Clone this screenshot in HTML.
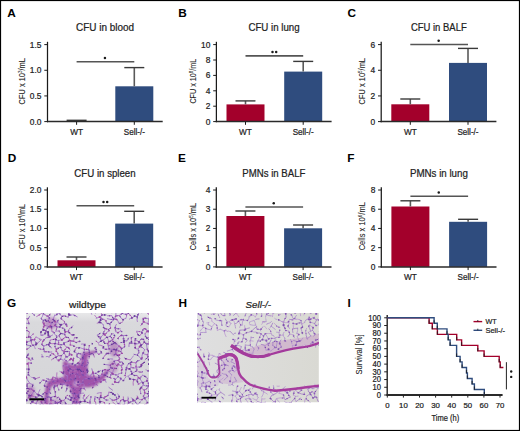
<!DOCTYPE html>
<html><head><meta charset="utf-8"><style>
html,body{margin:0;padding:0;background:#fff;}
body{width:520px;height:431px;overflow:hidden;}
svg{display:block;font-family:"Liberation Sans", sans-serif;}
</style></head><body>
<svg width="520" height="431" viewBox="0 0 520 431">
<rect x="0" y="0" width="520" height="431" fill="#fff"/>
<text x="7.2" y="16.8" font-size="11.8" text-anchor="start" font-weight="bold" fill="#000">A</text>
<text x="105.1" y="31.3" font-size="10.2" text-anchor="middle" textLength="58" lengthAdjust="spacingAndGlyphs" fill="#222" stroke="#222" stroke-width="0.22">CFU in blood</text>
<text x="24.9" y="81.3" font-size="9.0" text-anchor="middle" textLength="46.3" lengthAdjust="spacingAndGlyphs" transform="rotate(-90 24.9 81.3)" fill="#222" stroke="#222" stroke-width="0.08">CFU x 10<tspan font-size="5.5" dy="-3">3</tspan><tspan dy="3">/mL</tspan></text>
<rect x="57.60" y="121.1" width="38.0" height="0.50" fill="#a3002b"/>
<rect x="115.30" y="86.3" width="38.0" height="35.30" fill="#2f4c7e"/>
<line x1="76.60" y1="121.1" x2="76.60" y2="120.3" stroke="#5a5a5a" stroke-width="1.6"/>
<line x1="66.60" y1="120.3" x2="86.60" y2="120.3" stroke="#3a3a3a" stroke-width="1.4"/>
<line x1="134.30" y1="86.3" x2="134.30" y2="67.6" stroke="#5a5a5a" stroke-width="1.6"/>
<line x1="124.30" y1="67.6" x2="144.30" y2="67.6" stroke="#3a3a3a" stroke-width="1.4"/>
<line x1="76.60" y1="61.8" x2="134.30" y2="61.8" stroke="#555" stroke-width="1.6"/>
<circle cx="104.95" cy="58.00" r="1.25" fill="#1a1a1a"/>
<line x1="47.5" y1="41.8" x2="47.5" y2="122.19999999999999" stroke="#1a1a1a" stroke-width="1.25"/>
<line x1="46.9" y1="121.6" x2="162.7" y2="121.6" stroke="#2a2a2a" stroke-width="1.5"/>
<line x1="44.3" y1="121.60" x2="47.5" y2="121.60" stroke="#1a1a1a" stroke-width="1.0"/>
<text x="41.50" y="124.60" font-size="8.4" text-anchor="end" fill="#222" stroke="#222" stroke-width="0.22">0.0</text>
<line x1="44.3" y1="95.93" x2="47.5" y2="95.93" stroke="#1a1a1a" stroke-width="1.0"/>
<text x="41.50" y="98.93" font-size="8.4" text-anchor="end" fill="#222" stroke="#222" stroke-width="0.22">0.5</text>
<line x1="44.3" y1="70.27" x2="47.5" y2="70.27" stroke="#1a1a1a" stroke-width="1.0"/>
<text x="41.50" y="73.27" font-size="8.4" text-anchor="end" fill="#222" stroke="#222" stroke-width="0.22">1.0</text>
<line x1="44.3" y1="44.60" x2="47.5" y2="44.60" stroke="#1a1a1a" stroke-width="1.0"/>
<text x="41.50" y="47.60" font-size="8.4" text-anchor="end" fill="#222" stroke="#222" stroke-width="0.22">1.5</text>
<line x1="76.60" y1="121.6" x2="76.60" y2="124.8" stroke="#1a1a1a" stroke-width="1.0"/>
<line x1="134.30" y1="121.6" x2="134.30" y2="124.8" stroke="#1a1a1a" stroke-width="1.0"/>
<text x="76.60" y="135.0" font-size="8.5" text-anchor="middle" textLength="12.8" lengthAdjust="spacingAndGlyphs" fill="#222" stroke="#222" stroke-width="0.22">WT</text>
<text x="134.30" y="135.0" font-size="8.5" text-anchor="middle" textLength="21.1" lengthAdjust="spacingAndGlyphs" fill="#222" stroke="#222" stroke-width="0.22">Sell-/-</text>
<text x="178.3" y="16.8" font-size="11.8" text-anchor="start" font-weight="bold" fill="#000">B</text>
<text x="274.0" y="31.3" font-size="10.2" text-anchor="middle" textLength="51.2" lengthAdjust="spacingAndGlyphs" fill="#222" stroke="#222" stroke-width="0.22">CFU in lung</text>
<text x="196.2" y="81.2" font-size="9.0" text-anchor="middle" textLength="44.7" lengthAdjust="spacingAndGlyphs" transform="rotate(-90 196.2 81.2)" fill="#222" stroke="#222" stroke-width="0.08">CFU x 10<tspan font-size="5.5" dy="-3">8</tspan><tspan dy="3">/mL</tspan></text>
<rect x="226.50" y="104.4" width="38.0" height="17.20" fill="#a3002b"/>
<rect x="284.20" y="71.6" width="38.0" height="50.00" fill="#2f4c7e"/>
<line x1="245.50" y1="104.4" x2="245.50" y2="100.9" stroke="#5a5a5a" stroke-width="1.6"/>
<line x1="235.50" y1="100.9" x2="255.50" y2="100.9" stroke="#3a3a3a" stroke-width="1.4"/>
<line x1="303.20" y1="71.6" x2="303.20" y2="61.4" stroke="#5a5a5a" stroke-width="1.6"/>
<line x1="293.20" y1="61.4" x2="313.20" y2="61.4" stroke="#3a3a3a" stroke-width="1.4"/>
<line x1="245.50" y1="55.9" x2="303.20" y2="55.9" stroke="#555" stroke-width="1.6"/>
<circle cx="272.50" cy="52.00" r="1.25" fill="#1a1a1a"/>
<circle cx="276.20" cy="52.00" r="1.25" fill="#1a1a1a"/>
<line x1="216.4" y1="41.8" x2="216.4" y2="122.19999999999999" stroke="#1a1a1a" stroke-width="1.25"/>
<line x1="215.8" y1="121.6" x2="331.6" y2="121.6" stroke="#2a2a2a" stroke-width="1.5"/>
<line x1="213.20000000000002" y1="121.60" x2="216.4" y2="121.60" stroke="#1a1a1a" stroke-width="1.0"/>
<text x="210.40" y="124.60" font-size="8.4" text-anchor="end" fill="#222" stroke="#222" stroke-width="0.22">0</text>
<line x1="213.20000000000002" y1="106.20" x2="216.4" y2="106.20" stroke="#1a1a1a" stroke-width="1.0"/>
<text x="210.40" y="109.20" font-size="8.4" text-anchor="end" fill="#222" stroke="#222" stroke-width="0.22">2</text>
<line x1="213.20000000000002" y1="90.80" x2="216.4" y2="90.80" stroke="#1a1a1a" stroke-width="1.0"/>
<text x="210.40" y="93.80" font-size="8.4" text-anchor="end" fill="#222" stroke="#222" stroke-width="0.22">4</text>
<line x1="213.20000000000002" y1="75.40" x2="216.4" y2="75.40" stroke="#1a1a1a" stroke-width="1.0"/>
<text x="210.40" y="78.40" font-size="8.4" text-anchor="end" fill="#222" stroke="#222" stroke-width="0.22">6</text>
<line x1="213.20000000000002" y1="60.00" x2="216.4" y2="60.00" stroke="#1a1a1a" stroke-width="1.0"/>
<text x="210.40" y="63.00" font-size="8.4" text-anchor="end" fill="#222" stroke="#222" stroke-width="0.22">8</text>
<line x1="213.20000000000002" y1="44.60" x2="216.4" y2="44.60" stroke="#1a1a1a" stroke-width="1.0"/>
<text x="210.40" y="47.60" font-size="8.4" text-anchor="end" fill="#222" stroke="#222" stroke-width="0.22">10</text>
<line x1="245.50" y1="121.6" x2="245.50" y2="124.8" stroke="#1a1a1a" stroke-width="1.0"/>
<line x1="303.20" y1="121.6" x2="303.20" y2="124.8" stroke="#1a1a1a" stroke-width="1.0"/>
<text x="245.50" y="135.0" font-size="8.5" text-anchor="middle" textLength="12.8" lengthAdjust="spacingAndGlyphs" fill="#222" stroke="#222" stroke-width="0.22">WT</text>
<text x="303.20" y="135.0" font-size="8.5" text-anchor="middle" textLength="21.1" lengthAdjust="spacingAndGlyphs" fill="#222" stroke="#222" stroke-width="0.22">Sell-/-</text>
<text x="347.6" y="16.8" font-size="11.8" text-anchor="start" font-weight="bold" fill="#000">C</text>
<text x="438.8" y="31.3" font-size="10.2" text-anchor="middle" textLength="55.8" lengthAdjust="spacingAndGlyphs" fill="#222" stroke="#222" stroke-width="0.22">CFU in BALF</text>
<text x="365.4" y="81.2" font-size="9.0" text-anchor="middle" textLength="46.4" lengthAdjust="spacingAndGlyphs" transform="rotate(-90 365.4 81.2)" fill="#222" stroke="#222" stroke-width="0.08">CFU x 10<tspan font-size="5.5" dy="-3">5</tspan><tspan dy="3">/mL</tspan></text>
<rect x="391.30" y="104.3" width="38.0" height="17.30" fill="#a3002b"/>
<rect x="449.00" y="62.9" width="38.0" height="58.70" fill="#2f4c7e"/>
<line x1="410.30" y1="104.3" x2="410.30" y2="99.0" stroke="#5a5a5a" stroke-width="1.6"/>
<line x1="400.30" y1="99.0" x2="420.30" y2="99.0" stroke="#3a3a3a" stroke-width="1.4"/>
<line x1="468.00" y1="62.9" x2="468.00" y2="48.4" stroke="#5a5a5a" stroke-width="1.6"/>
<line x1="458.00" y1="48.4" x2="478.00" y2="48.4" stroke="#3a3a3a" stroke-width="1.4"/>
<line x1="410.30" y1="44.5" x2="468.00" y2="44.5" stroke="#555" stroke-width="1.6"/>
<circle cx="438.65" cy="40.70" r="1.25" fill="#1a1a1a"/>
<line x1="381.2" y1="41.8" x2="381.2" y2="122.19999999999999" stroke="#1a1a1a" stroke-width="1.25"/>
<line x1="380.59999999999997" y1="121.6" x2="496.4" y2="121.6" stroke="#2a2a2a" stroke-width="1.5"/>
<line x1="378.0" y1="121.60" x2="381.2" y2="121.60" stroke="#1a1a1a" stroke-width="1.0"/>
<text x="375.20" y="124.60" font-size="8.4" text-anchor="end" fill="#222" stroke="#222" stroke-width="0.22">0</text>
<line x1="378.0" y1="95.93" x2="381.2" y2="95.93" stroke="#1a1a1a" stroke-width="1.0"/>
<text x="375.20" y="98.93" font-size="8.4" text-anchor="end" fill="#222" stroke="#222" stroke-width="0.22">2</text>
<line x1="378.0" y1="70.27" x2="381.2" y2="70.27" stroke="#1a1a1a" stroke-width="1.0"/>
<text x="375.20" y="73.27" font-size="8.4" text-anchor="end" fill="#222" stroke="#222" stroke-width="0.22">4</text>
<line x1="378.0" y1="44.60" x2="381.2" y2="44.60" stroke="#1a1a1a" stroke-width="1.0"/>
<text x="375.20" y="47.60" font-size="8.4" text-anchor="end" fill="#222" stroke="#222" stroke-width="0.22">6</text>
<line x1="410.30" y1="121.6" x2="410.30" y2="124.8" stroke="#1a1a1a" stroke-width="1.0"/>
<line x1="468.00" y1="121.6" x2="468.00" y2="124.8" stroke="#1a1a1a" stroke-width="1.0"/>
<text x="410.30" y="135.0" font-size="8.5" text-anchor="middle" textLength="12.8" lengthAdjust="spacingAndGlyphs" fill="#222" stroke="#222" stroke-width="0.22">WT</text>
<text x="468.00" y="135.0" font-size="8.5" text-anchor="middle" textLength="21.1" lengthAdjust="spacingAndGlyphs" fill="#222" stroke="#222" stroke-width="0.22">Sell-/-</text>
<text x="7.7" y="162.2" font-size="11.8" text-anchor="start" font-weight="bold" fill="#000">D</text>
<text x="105.0" y="176.7" font-size="10.2" text-anchor="middle" textLength="61.3" lengthAdjust="spacingAndGlyphs" fill="#222" stroke="#222" stroke-width="0.22">CFU in spleen</text>
<text x="24.8" y="226.6" font-size="9.0" text-anchor="middle" textLength="45.5" lengthAdjust="spacingAndGlyphs" transform="rotate(-90 24.8 226.6)" fill="#222" stroke="#222" stroke-width="0.08">CFU x 10<tspan font-size="5.5" dy="-3">4</tspan><tspan dy="3">/mL</tspan></text>
<rect x="57.50" y="260.3" width="38.0" height="6.60" fill="#a3002b"/>
<rect x="115.20" y="223.6" width="38.0" height="43.30" fill="#2f4c7e"/>
<line x1="76.50" y1="260.3" x2="76.50" y2="257.0" stroke="#5a5a5a" stroke-width="1.6"/>
<line x1="66.50" y1="257.0" x2="86.50" y2="257.0" stroke="#3a3a3a" stroke-width="1.4"/>
<line x1="134.20" y1="223.6" x2="134.20" y2="211.3" stroke="#5a5a5a" stroke-width="1.6"/>
<line x1="124.20" y1="211.3" x2="144.20" y2="211.3" stroke="#3a3a3a" stroke-width="1.4"/>
<line x1="76.50" y1="205.8" x2="134.20" y2="205.8" stroke="#555" stroke-width="1.6"/>
<circle cx="103.50" cy="201.90" r="1.25" fill="#1a1a1a"/>
<circle cx="107.20" cy="201.90" r="1.25" fill="#1a1a1a"/>
<line x1="47.4" y1="187.3" x2="47.4" y2="267.5" stroke="#1a1a1a" stroke-width="1.25"/>
<line x1="46.8" y1="266.9" x2="162.6" y2="266.9" stroke="#2a2a2a" stroke-width="1.5"/>
<line x1="44.199999999999996" y1="266.90" x2="47.4" y2="266.90" stroke="#1a1a1a" stroke-width="1.0"/>
<text x="41.40" y="269.90" font-size="8.4" text-anchor="end" fill="#222" stroke="#222" stroke-width="0.22">0.0</text>
<line x1="44.199999999999996" y1="247.67" x2="47.4" y2="247.67" stroke="#1a1a1a" stroke-width="1.0"/>
<text x="41.40" y="250.67" font-size="8.4" text-anchor="end" fill="#222" stroke="#222" stroke-width="0.22">0.5</text>
<line x1="44.199999999999996" y1="228.45" x2="47.4" y2="228.45" stroke="#1a1a1a" stroke-width="1.0"/>
<text x="41.40" y="231.45" font-size="8.4" text-anchor="end" fill="#222" stroke="#222" stroke-width="0.22">1.0</text>
<line x1="44.199999999999996" y1="209.22" x2="47.4" y2="209.22" stroke="#1a1a1a" stroke-width="1.0"/>
<text x="41.40" y="212.22" font-size="8.4" text-anchor="end" fill="#222" stroke="#222" stroke-width="0.22">1.5</text>
<line x1="44.199999999999996" y1="190.00" x2="47.4" y2="190.00" stroke="#1a1a1a" stroke-width="1.0"/>
<text x="41.40" y="193.00" font-size="8.4" text-anchor="end" fill="#222" stroke="#222" stroke-width="0.22">2.0</text>
<line x1="76.50" y1="266.9" x2="76.50" y2="270.09999999999997" stroke="#1a1a1a" stroke-width="1.0"/>
<line x1="134.20" y1="266.9" x2="134.20" y2="270.09999999999997" stroke="#1a1a1a" stroke-width="1.0"/>
<text x="76.50" y="280.1" font-size="8.5" text-anchor="middle" textLength="12.8" lengthAdjust="spacingAndGlyphs" fill="#222" stroke="#222" stroke-width="0.22">WT</text>
<text x="134.20" y="280.1" font-size="8.5" text-anchor="middle" textLength="21.1" lengthAdjust="spacingAndGlyphs" fill="#222" stroke="#222" stroke-width="0.22">Sell-/-</text>
<text x="178.0" y="162.2" font-size="11.8" text-anchor="start" font-weight="bold" fill="#000">E</text>
<text x="273.9" y="176.7" font-size="10.2" text-anchor="middle" textLength="63.1" lengthAdjust="spacingAndGlyphs" fill="#222" stroke="#222" stroke-width="0.22">PMNs in BALF</text>
<text x="195.8" y="226.6" font-size="9.0" text-anchor="middle" textLength="47.3" lengthAdjust="spacingAndGlyphs" transform="rotate(-90 195.8 226.6)" fill="#222" stroke="#222" stroke-width="0.08">Cells x 10<tspan font-size="5.5" dy="-3">5</tspan><tspan dy="3">/mL</tspan></text>
<rect x="226.40" y="216.0" width="38.0" height="50.90" fill="#a3002b"/>
<rect x="284.10" y="228.3" width="38.0" height="38.60" fill="#2f4c7e"/>
<line x1="245.40" y1="216.0" x2="245.40" y2="211.0" stroke="#5a5a5a" stroke-width="1.6"/>
<line x1="235.40" y1="211.0" x2="255.40" y2="211.0" stroke="#3a3a3a" stroke-width="1.4"/>
<line x1="303.10" y1="228.3" x2="303.10" y2="225.0" stroke="#5a5a5a" stroke-width="1.6"/>
<line x1="293.10" y1="225.0" x2="313.10" y2="225.0" stroke="#3a3a3a" stroke-width="1.4"/>
<line x1="245.40" y1="207.0" x2="303.10" y2="207.0" stroke="#555" stroke-width="1.6"/>
<circle cx="273.75" cy="203.20" r="1.25" fill="#1a1a1a"/>
<line x1="216.3" y1="187.3" x2="216.3" y2="267.5" stroke="#1a1a1a" stroke-width="1.25"/>
<line x1="215.70000000000002" y1="266.9" x2="331.5" y2="266.9" stroke="#2a2a2a" stroke-width="1.5"/>
<line x1="213.10000000000002" y1="266.90" x2="216.3" y2="266.90" stroke="#1a1a1a" stroke-width="1.0"/>
<text x="210.30" y="269.90" font-size="8.4" text-anchor="end" fill="#222" stroke="#222" stroke-width="0.22">0</text>
<line x1="213.10000000000002" y1="247.67" x2="216.3" y2="247.67" stroke="#1a1a1a" stroke-width="1.0"/>
<text x="210.30" y="250.67" font-size="8.4" text-anchor="end" fill="#222" stroke="#222" stroke-width="0.22">1</text>
<line x1="213.10000000000002" y1="228.45" x2="216.3" y2="228.45" stroke="#1a1a1a" stroke-width="1.0"/>
<text x="210.30" y="231.45" font-size="8.4" text-anchor="end" fill="#222" stroke="#222" stroke-width="0.22">2</text>
<line x1="213.10000000000002" y1="209.22" x2="216.3" y2="209.22" stroke="#1a1a1a" stroke-width="1.0"/>
<text x="210.30" y="212.22" font-size="8.4" text-anchor="end" fill="#222" stroke="#222" stroke-width="0.22">3</text>
<line x1="213.10000000000002" y1="190.00" x2="216.3" y2="190.00" stroke="#1a1a1a" stroke-width="1.0"/>
<text x="210.30" y="193.00" font-size="8.4" text-anchor="end" fill="#222" stroke="#222" stroke-width="0.22">4</text>
<line x1="245.40" y1="266.9" x2="245.40" y2="270.09999999999997" stroke="#1a1a1a" stroke-width="1.0"/>
<line x1="303.10" y1="266.9" x2="303.10" y2="270.09999999999997" stroke="#1a1a1a" stroke-width="1.0"/>
<text x="245.40" y="280.1" font-size="8.5" text-anchor="middle" textLength="12.8" lengthAdjust="spacingAndGlyphs" fill="#222" stroke="#222" stroke-width="0.22">WT</text>
<text x="303.10" y="280.1" font-size="8.5" text-anchor="middle" textLength="21.1" lengthAdjust="spacingAndGlyphs" fill="#222" stroke="#222" stroke-width="0.22">Sell-/-</text>
<text x="347.3" y="162.2" font-size="11.8" text-anchor="start" font-weight="bold" fill="#000">F</text>
<text x="438.9" y="176.7" font-size="10.2" text-anchor="middle" textLength="58" lengthAdjust="spacingAndGlyphs" fill="#222" stroke="#222" stroke-width="0.22">PMNs in lung</text>
<text x="365.4" y="226.2" font-size="9.0" text-anchor="middle" textLength="48.3" lengthAdjust="spacingAndGlyphs" transform="rotate(-90 365.4 226.2)" fill="#222" stroke="#222" stroke-width="0.08">Cells x 10<tspan font-size="5.5" dy="-3">6</tspan><tspan dy="3">/mL</tspan></text>
<rect x="391.40" y="206.5" width="38.0" height="60.40" fill="#a3002b"/>
<rect x="449.10" y="221.8" width="38.0" height="45.10" fill="#2f4c7e"/>
<line x1="410.40" y1="206.5" x2="410.40" y2="200.8" stroke="#5a5a5a" stroke-width="1.6"/>
<line x1="400.40" y1="200.8" x2="420.40" y2="200.8" stroke="#3a3a3a" stroke-width="1.4"/>
<line x1="468.10" y1="221.8" x2="468.10" y2="219.3" stroke="#5a5a5a" stroke-width="1.6"/>
<line x1="458.10" y1="219.3" x2="478.10" y2="219.3" stroke="#3a3a3a" stroke-width="1.4"/>
<line x1="410.40" y1="196.3" x2="468.10" y2="196.3" stroke="#555" stroke-width="1.6"/>
<circle cx="438.75" cy="192.50" r="1.25" fill="#1a1a1a"/>
<line x1="381.3" y1="187.3" x2="381.3" y2="267.5" stroke="#1a1a1a" stroke-width="1.25"/>
<line x1="380.7" y1="266.9" x2="496.5" y2="266.9" stroke="#2a2a2a" stroke-width="1.5"/>
<line x1="378.1" y1="266.90" x2="381.3" y2="266.90" stroke="#1a1a1a" stroke-width="1.0"/>
<text x="375.30" y="269.90" font-size="8.4" text-anchor="end" fill="#222" stroke="#222" stroke-width="0.22">0</text>
<line x1="378.1" y1="247.67" x2="381.3" y2="247.67" stroke="#1a1a1a" stroke-width="1.0"/>
<text x="375.30" y="250.67" font-size="8.4" text-anchor="end" fill="#222" stroke="#222" stroke-width="0.22">2</text>
<line x1="378.1" y1="228.45" x2="381.3" y2="228.45" stroke="#1a1a1a" stroke-width="1.0"/>
<text x="375.30" y="231.45" font-size="8.4" text-anchor="end" fill="#222" stroke="#222" stroke-width="0.22">4</text>
<line x1="378.1" y1="209.22" x2="381.3" y2="209.22" stroke="#1a1a1a" stroke-width="1.0"/>
<text x="375.30" y="212.22" font-size="8.4" text-anchor="end" fill="#222" stroke="#222" stroke-width="0.22">6</text>
<line x1="378.1" y1="190.00" x2="381.3" y2="190.00" stroke="#1a1a1a" stroke-width="1.0"/>
<text x="375.30" y="193.00" font-size="8.4" text-anchor="end" fill="#222" stroke="#222" stroke-width="0.22">8</text>
<line x1="410.40" y1="266.9" x2="410.40" y2="270.09999999999997" stroke="#1a1a1a" stroke-width="1.0"/>
<line x1="468.10" y1="266.9" x2="468.10" y2="270.09999999999997" stroke="#1a1a1a" stroke-width="1.0"/>
<text x="410.40" y="280.1" font-size="8.5" text-anchor="middle" textLength="12.8" lengthAdjust="spacingAndGlyphs" fill="#222" stroke="#222" stroke-width="0.22">WT</text>
<text x="468.10" y="280.1" font-size="8.5" text-anchor="middle" textLength="21.1" lengthAdjust="spacingAndGlyphs" fill="#222" stroke="#222" stroke-width="0.22">Sell-/-</text>
<text x="7.0" y="307.3" font-size="11.8" text-anchor="start" font-weight="bold" fill="#000">G</text>
<text x="178.5" y="307.3" font-size="11.8" text-anchor="start" font-weight="bold" fill="#000">H</text>
<text x="347.6" y="307.2" font-size="11.8" text-anchor="start" font-weight="bold" fill="#000">I</text>
<text x="87.5" y="307.8" font-size="9.6" text-anchor="middle" textLength="37" lengthAdjust="spacingAndGlyphs" fill="#222" stroke="#222" stroke-width="0.22">wildtype</text>
<text x="258.3" y="307.8" font-size="9.6" text-anchor="middle" textLength="25.4" lengthAdjust="spacingAndGlyphs" font-style="italic" fill="#222" stroke="#222" stroke-width="0.22">Sell-/-</text>
<defs><clipPath id="cg"><rect x="26" y="313" width="123" height="91.3"/></clipPath><clipPath id="ch"><rect x="197.1" y="313" width="121.8" height="89.5"/></clipPath><filter id="bl" x="-30%" y="-30%" width="160%" height="160%"><feGaussianBlur stdDeviation="1.6"/></filter><filter id="bl2" x="-10%" y="-10%" width="120%" height="120%"><feGaussianBlur stdDeviation="0.9"/></filter><filter id="bl1" x="-5%" y="-5%" width="110%" height="110%"><feGaussianBlur stdDeviation="0.4"/></filter><linearGradient id="gg" x1="0" y1="0" x2="0" y2="1"><stop offset="0" stop-color="#e8e8ea"/><stop offset="0.1" stop-color="#d9d9dc"/><stop offset="1" stop-color="#d5d5d8"/></linearGradient><linearGradient id="hg" x1="0" y1="0" x2="1" y2="0"><stop offset="0" stop-color="#dfdfe0"/><stop offset="1" stop-color="#d9d9d3"/></linearGradient></defs>
<g clip-path="url(#cg)">
<rect x="26" y="313" width="123" height="91.3" fill="url(#gg)"/>
<path d="M63,361.5 L66,361 L68,363 L72,365 L78,365 L81,362 L81.5,354 L84,352 L90,351.5 L96,350.5 L96.5,352.5 L90,354.5 L87.5,357 L87.5,375 L92,376 L98,377 L102,375 L105,371 L108.5,370.5 L108,374 L104,379 L100,382 L95,386 L88,387.5 L82,387 L80,393 L79,400 L78,404.5 L73,404.5 L72,396 L70.5,388 L65,384 L58,384.5 L52,386 L50,390 L48.5,396 L47.5,404.5 L44,404.5 L44.5,395 L46,386 L48,381 L53,379 L60,378 L64,377 L63.5,370 Z" fill="#9a44a4" opacity="0.9" filter="url(#bl2)"/>
<g filter="url(#bl2)"><ellipse cx="76.5" cy="384" rx="3.5" ry="3" fill="#c9a6cf" opacity="0.8"/><ellipse cx="73" cy="370" rx="4" ry="2" fill="#c090c8" opacity="0.5"/></g>
<g filter="url(#bl)">
<ellipse cx="51" cy="323" rx="7" ry="6" fill="#a050aa" opacity="0.5"/>
<ellipse cx="114" cy="349" rx="5" ry="8" fill="#a050aa" opacity="0.5"/>
<ellipse cx="31" cy="393" rx="4" ry="8" fill="#a050aa" opacity="0.5"/>
<ellipse cx="50" cy="402" rx="15" ry="2.5" fill="#a050aa" opacity="0.5"/>
<ellipse cx="113" cy="367" rx="5" ry="7" fill="#a050aa" opacity="0.4"/>
</g>
<g filter="url(#bl1)">
<path d="M126.8,314.5Q124.9,314.7 122.2,313.4M128.6,312.7Q126.8,311.4 125.4,308.9M145.1,318.1Q147.3,318.9 149.7,318.3M142.0,312.8Q144.3,312.0 145.5,310.8M143.4,319.2Q142.7,319.4 143.1,318.3M141.0,311.4Q140.7,311.7 139.2,312.2M137.2,316.4Q138.5,313.9 139.2,312.2M128.4,313.4Q129.4,311.6 130.5,309.9M137.3,317.7Q136.6,320.2 137.3,321.6M143.4,319.2Q142.5,319.7 143.2,321.5M138.1,405.1Q137.5,403.8 136.9,404.1M26.5,357.2Q27.9,355.1 28.5,353.8M24.1,402.4Q25.5,402.1 26.7,400.7M24.8,337.7Q24.3,337.8 24.3,337.0M99.5,310.6Q98.2,311.4 95.6,313.0M113.8,319.2Q112.3,316.7 111.7,315.7M107.3,318.7Q110.1,319.6 113.6,319.8M113.5,318.8Q113.8,319.0 113.6,319.8M99.5,310.6Q100.6,312.1 100.4,312.3M111.9,312.7Q113.3,311.9 114.8,310.7M111.9,312.7Q110.8,312.7 110.5,311.8M115.6,311.1Q115.5,310.8 114.8,310.7M77.8,363.5Q80.3,364.0 82.1,364.8M113.5,318.8Q114.4,318.5 116.7,319.3M125.8,318.4Q124.1,318.7 123.1,319.7M128.9,402.6Q130.1,401.8 132.8,401.2M27.5,388.3Q26.4,386.2 26.8,384.2M23.4,396.7Q25.1,397.8 26.5,399.8M22.3,390.5Q23.7,391.1 25.6,392.6M44.0,323.6Q44.0,323.1 42.7,322.4M42.7,322.4Q43.2,321.7 43.5,320.2M43.2,329.9Q43.5,329.3 43.1,328.6M101.0,318.6Q100.0,321.0 99.9,322.0M100.6,316.7Q100.6,315.1 102.1,314.9M100.6,316.7Q100.5,317.9 101.0,318.6M111.2,322.3Q110.2,323.2 109.9,324.1M99.4,398.3Q97.3,397.8 95.0,396.8M95.0,396.8Q94.6,398.2 94.6,400.9M90.0,400.5Q91.1,398.3 91.1,396.5M83.7,379.2Q85.8,378.4 88.1,378.1M82.7,375.1Q81.7,373.7 81.6,371.8M77.4,373.9Q76.0,374.7 75.8,374.4M73.2,359.6Q73.7,361.0 72.8,363.7M115.8,368.6Q114.4,369.1 114.0,368.2M114.4,363.0Q116.0,364.3 117.5,366.4M149.3,398.8Q149.2,397.4 149.0,396.6M149.0,396.6Q147.3,396.6 144.3,398.0M128.0,397.0Q128.1,397.7 128.3,398.5M43.7,349.5Q43.2,348.0 43.8,346.1M43.8,346.1Q42.4,345.9 41.9,344.8M53.0,319.7Q53.1,320.5 54.2,320.6M54.8,314.8Q54.2,316.6 53.0,319.7M60.4,326.8Q58.5,326.8 57.0,327.1M45.6,330.4Q46.7,331.7 46.4,331.8M44.2,325.3Q47.2,325.6 48.6,326.7M51.1,323.4Q51.2,325.3 50.4,326.4M49.1,345.7Q49.9,347.4 51.7,348.0M46.9,351.7Q49.5,352.6 51.8,352.0M44.4,351.8Q44.7,350.7 43.7,349.5M48.4,344.1Q49.1,344.3 49.1,345.7M48.4,344.1Q46.0,344.9 43.8,346.1M23.7,332.9Q25.3,331.4 27.1,330.4M27.1,330.4Q27.7,331.0 29.4,332.1M30.5,336.6Q31.3,335.8 33.2,333.9M61.9,316.5Q60.2,314.9 58.9,312.5M58.3,312.6Q59.1,312.2 58.9,312.5M60.9,318.5Q61.9,316.8 61.9,316.5M77.2,316.8Q74.3,315.3 73.0,314.6M64.2,311.8Q66.9,311.7 68.5,312.3M108.4,329.5Q109.5,329.5 109.2,330.8M109.2,330.8Q106.2,332.0 104.7,334.6M105.3,328.5Q105.0,331.4 103.1,333.5M103.7,327.9Q104.8,328.5 105.3,328.5M97.5,335.4Q98.9,336.7 100.0,338.1M107.0,337.1Q105.4,338.5 103.0,340.2M100.0,338.1Q100.7,338.6 101.5,340.8M109.1,348.8Q108.0,349.5 105.8,349.4M84.0,349.2Q84.1,347.0 84.9,343.6M88.3,349.6Q89.4,347.8 89.3,345.5M87.6,360.4Q87.7,361.6 88.2,363.8M107.5,370.1Q106.3,373.4 106.3,375.6M114.0,368.2Q113.0,370.8 112.4,373.9M105.4,399.9Q107.0,400.5 108.3,400.1M103.7,397.8Q103.9,398.4 105.4,399.9M83.1,398.1Q83.8,396.3 84.6,394.4M89.5,405.9Q89.9,405.1 90.1,403.1M82.7,407.1Q83.1,406.5 83.7,405.8M91.1,405.1Q89.8,406.1 89.5,405.9M90.0,400.5Q89.4,402.2 90.1,403.1M93.4,382.5Q95.7,381.4 96.6,379.2M79.2,353.4Q78.5,352.8 77.5,353.8M77.5,353.8Q75.7,352.8 74.3,351.6M132.2,317.8Q130.6,318.3 129.4,319.1M141.7,324.6Q141.7,324.7 140.7,325.4M148.6,355.9Q147.6,357.1 147.5,357.5M115.8,368.6Q115.5,369.3 116.6,368.4M115.1,374.8Q116.0,375.5 117.1,374.9M122.7,369.8Q121.8,369.1 121.4,369.3M114.5,395.3Q114.5,395.6 114.9,394.7M119.0,404.6Q117.9,405.5 116.5,405.6M26.5,357.2Q27.7,357.2 27.9,357.8M26.1,342.2Q26.7,342.9 26.8,345.1M33.9,391.0Q34.6,390.2 33.9,390.7M31.2,395.7Q32.9,393.1 33.9,390.7M57.2,402.4Q57.6,406.0 58.4,409.3M63.8,400.3Q65.5,401.5 66.0,404.1M60.0,402.3Q60.1,403.7 61.6,405.0M63.8,400.3Q65.7,398.9 66.2,397.9M33.9,390.7Q35.2,392.5 37.9,395.0M58.6,397.2Q58.1,398.2 56.3,398.1M43.6,340.3Q44.8,339.4 46.0,337.9M67.6,357.0Q68.9,355.0 69.7,354.6M25.5,327.1Q26.7,327.2 27.0,328.6M23.5,316.9Q22.9,317.6 23.8,318.4M72.3,335.0Q72.4,335.0 72.1,335.0M72.7,325.9Q71.2,327.4 71.0,328.3M118.8,346.1Q119.7,346.8 119.5,346.2M118.8,346.1Q117.1,344.3 114.8,342.5M108.8,341.8Q110.3,341.1 111.8,340.5M107.2,337.4Q108.2,337.2 110.3,336.2M99.8,376.4Q99.9,375.4 101.3,375.3M100.8,381.8Q102.2,380.5 102.6,380.1M107.7,395.7Q108.8,394.0 109.0,392.2M101.1,392.6Q99.6,392.6 97.2,393.3M63.9,342.9Q67.9,341.9 70.5,340.5M65.7,337.1Q66.5,337.7 68.4,337.5M69.8,340.5Q70.5,339.9 70.5,340.5M131.5,343.0Q130.6,343.3 129.5,343.0M127.1,335.4Q125.2,335.2 123.1,335.6M123.9,340.8Q126.1,341.0 126.8,340.9M124.7,346.0Q124.8,344.1 124.0,342.4M123.9,340.8Q124.1,340.8 124.0,342.4M121.5,335.2Q122.3,335.1 123.1,335.6M133.0,337.1Q132.6,337.2 131.3,337.8M116.1,350.2Q115.5,352.1 115.7,353.9M121.5,348.4Q121.9,350.7 120.7,351.6M124.7,346.0Q123.9,346.5 124.2,347.4M121.1,342.5Q122.9,342.0 124.0,342.4M116.1,350.0Q118.5,351.0 120.7,351.6M115.7,353.9Q116.9,355.5 118.0,355.9M118.0,355.9Q120.1,354.1 121.8,353.3M120.2,362.1Q118.9,360.8 118.2,360.4M118.2,360.4Q119.6,359.3 119.9,358.7M123.6,364.2Q122.4,362.4 121.6,361.4M114.1,361.0Q115.8,360.0 118.2,360.4M136.9,404.1Q136.4,403.1 134.9,401.1M131.5,397.8Q132.2,398.7 133.5,400.1M140.8,393.9Q140.8,392.1 139.9,389.5M149.2,389.1Q149.3,391.0 148.8,392.9M144.8,393.3Q147.2,393.3 149.2,393.9M28.9,369.3Q27.2,368.6 24.9,368.9M27.3,363.9Q27.9,363.9 28.3,362.9M28.1,374.3Q29.0,372.4 28.9,369.3M29.3,383.1Q31.3,384.3 32.2,384.4M36.6,343.9Q35.7,341.6 34.2,340.1M31.1,339.5Q31.3,340.7 31.0,340.8M26.1,342.2Q29.1,341.3 31.0,340.8M41.6,339.6Q38.7,342.1 36.6,343.9M52.9,404.4Q51.1,404.6 50.6,403.7M50.6,403.7Q50.1,403.9 49.0,405.5M44.4,399.3Q45.1,399.9 45.3,402.0M44.9,392.5Q45.0,393.1 46.4,393.0M42.6,379.9Q44.2,379.8 46.4,381.0M46.4,380.9Q49.0,382.1 50.6,383.9M74.6,383.3Q76.4,384.7 77.9,385.1M74.6,378.7Q75.3,380.3 74.6,383.3M70.0,400.0Q70.6,399.4 71.0,400.1M72.0,404.8Q72.3,403.0 73.2,401.9M46.5,378.6Q49.8,379.8 52.0,379.9M54.6,332.7Q54.7,332.9 53.9,333.1M48.6,337.3Q49.9,336.6 52.6,335.0M60.8,333.5Q59.8,334.1 58.7,335.7M58.7,335.7Q60.1,338.3 62.0,339.9M56.0,350.9Q57.5,351.6 57.7,352.9M59.4,344.8Q61.8,345.3 64.1,344.4M69.4,351.5Q67.7,351.7 64.8,351.6M114.8,336.2Q114.6,334.7 113.5,333.6M118.6,339.2Q118.0,339.0 117.8,338.5M120.7,330.6Q119.8,332.4 117.9,332.7M96.2,349.6Q96.3,350.2 96.1,351.4M96.1,351.4Q93.8,352.5 92.9,353.4M92.9,353.4Q91.8,354.3 89.2,354.1M111.6,372.8Q110.3,374.5 110.2,377.6M114.9,382.5Q115.0,381.3 115.1,379.4M102.0,374.3Q102.2,374.9 101.3,375.3M150.7,325.1Q150.3,325.3 149.1,324.5M147.8,355.0Q147.6,352.7 149.1,351.2M126.4,358.9Q125.2,357.9 125.4,358.5M148.7,384.4Q148.1,385.7 148.3,386.1M143.2,385.0Q142.2,386.5 140.6,388.4M140.9,387.7Q140.7,388.7 140.6,388.4M135.9,362.8Q136.7,364.6 136.0,367.4M131.0,367.6Q131.2,365.0 130.5,362.8M123.4,380.8Q122.4,379.3 120.7,379.0M118.1,376.9Q119.8,377.9 120.8,378.4M132.3,373.9Q130.8,370.6 130.1,368.8M130.1,368.8Q127.8,368.2 126.1,369.1M131.6,373.4Q131.8,373.7 132.3,373.9M124.1,375.3Q124.4,374.9 125.2,375.7M32.2,358.0Q33.0,359.3 33.0,359.5M55.4,396.4Q55.7,395.9 55.3,393.9M55.3,391.7Q55.2,392.9 55.3,393.9M47.8,396.6Q46.9,395.2 46.4,393.0M39.1,395.2Q37.8,395.7 37.1,397.4M44.4,399.3Q44.0,399.2 44.1,399.0M37.9,395.0Q38.4,394.5 39.1,395.2M73.7,407.3Q76.3,404.9 77.6,402.3M73.2,401.9Q73.5,401.0 75.3,401.3M75.3,401.3Q76.5,402.3 77.6,402.3M77.6,402.3Q78.1,403.0 79.5,402.3M63.9,353.2Q62.5,354.6 61.5,355.5M61.5,355.5Q61.1,357.7 60.6,359.0M67.4,361.8Q65.9,360.1 64.2,359.3M58.3,360.8Q58.8,359.8 60.6,359.0M100.9,370.5Q100.2,370.4 98.4,371.7M147.8,355.0Q144.5,354.3 142.6,353.3M78.6,396.7Q77.8,398.1 75.7,399.0M74.0,397.7Q75.0,399.1 75.7,399.0M75.3,401.3Q75.7,400.1 75.7,399.0M67.3,376.0Q67.6,378.6 66.6,381.1M69.2,380.9Q67.6,380.3 66.6,381.1M70.5,374.9Q70.3,375.2 69.3,376.1M67.3,385.5Q65.4,384.9 64.0,383.9M61.5,388.6Q62.5,386.9 62.5,384.3M57.0,386.0Q57.5,385.1 57.8,383.9M53.3,381.4Q55.0,381.2 57.7,381.2M52.0,379.9Q52.3,379.1 53.0,377.0M55.2,343.7Q55.9,341.0 55.4,338.8M55.8,339.6Q56.3,339.0 55.4,338.8M62.0,339.9Q60.8,339.7 58.5,340.5M57.0,336.7Q56.1,338.6 55.8,339.6M137.3,355.0Q138.0,353.1 139.0,352.4M142.6,353.3Q143.0,353.8 143.3,353.0M134.8,344.0Q138.0,344.1 140.0,342.9M148.3,351.0Q148.1,349.7 147.3,349.6M153.7,346.6Q151.0,344.7 148.5,344.0M150.2,333.1Q150.2,333.5 150.2,335.3M147.7,331.6Q149.2,332.6 150.2,333.1" stroke="#a06ec6" stroke-width="0.85" fill="none" stroke-linecap="round"/>
<path d="M25.3,405.3Q24.9,403.2 24.1,402.4M147.5,313.2Q146.1,312.6 145.5,310.8M137.0,310.8Q135.9,312.0 133.9,312.2M119.5,315.4Q120.7,314.7 122.2,313.4M143.2,321.5Q143.0,323.7 141.7,324.6M140.4,401.5Q138.6,403.2 138.1,405.1M23.7,332.9Q24.5,335.2 24.3,337.0M26.4,341.9Q25.3,339.3 24.8,337.7M66.8,324.8Q65.7,324.5 64.3,323.5M106.3,315.0Q103.8,315.1 102.1,314.9M105.7,309.8Q106.0,311.0 107.8,312.7M111.7,315.7Q109.8,315.8 107.4,315.8M107.8,312.7Q109.8,312.9 110.5,311.8M84.2,360.1Q82.4,363.0 82.1,364.8M119.5,315.4Q120.0,315.9 120.6,317.5M126.8,314.5Q126.9,316.3 125.8,318.4M118.7,323.2Q118.4,320.5 116.7,319.3M146.4,403.9Q147.1,403.7 147.5,402.5M126.5,405.6Q128.4,407.3 130.0,408.8M26.7,400.7Q26.1,399.5 26.5,399.8M23.4,396.7Q25.1,395.0 25.6,392.6M46.2,315.7Q44.9,314.7 43.4,313.6M46.3,321.5Q45.6,320.0 45.3,319.9M41.0,318.6Q42.2,319.8 43.5,320.2M44.2,325.3Q44.0,326.9 43.1,328.6M36.0,337.0Q38.6,338.2 40.2,339.3M105.9,320.5Q105.6,321.7 106.6,323.1M106.6,323.1Q107.5,323.2 109.9,324.1M110.6,328.2Q110.3,326.6 109.9,324.1M88.1,378.1Q87.0,376.0 86.1,375.2M79.8,368.9Q78.5,369.4 78.4,369.9M75.4,378.8Q75.1,376.3 75.8,374.4M78.4,369.9Q78.3,368.9 76.6,368.8M72.7,373.2Q74.9,374.5 75.8,374.4M70.9,358.9Q69.4,360.2 67.4,361.8M67.7,364.4Q69.5,363.3 72.8,363.7M110.4,365.3Q110.0,366.4 110.8,368.0M110.8,368.0Q112.2,368.4 114.0,368.2M147.5,402.5Q145.6,399.4 144.3,398.0M126.5,405.6Q124.7,404.7 124.5,404.9M124.4,401.0Q125.1,403.1 124.5,404.9M124.4,401.0Q124.3,400.0 123.3,399.6M26.5,399.8Q28.6,398.9 29.3,396.8M26.8,393.1Q28.6,394.8 29.3,396.8M32.5,401.0Q30.9,398.1 29.3,395.4M48.1,321.1Q49.6,321.8 51.1,323.4M57.3,322.0Q59.7,324.2 60.8,325.0M56.1,322.3Q56.2,323.4 55.2,325.5M60.8,325.0Q61.3,325.2 60.4,326.8M64.3,323.5Q62.6,324.3 60.8,325.0M54.2,320.6Q55.6,321.4 56.1,322.3M66.8,324.8Q66.0,325.4 66.8,326.7M64.2,328.6Q63.6,327.9 61.7,327.7M55.2,325.5Q52.9,326.7 51.5,326.9M41.0,335.3Q42.8,335.6 44.1,334.8M44.1,334.8Q45.4,333.2 46.4,331.8M55.9,331.1Q58.0,331.1 59.3,331.0M47.8,356.4Q47.8,356.6 49.1,357.2M49.1,357.2Q50.1,355.7 51.8,353.3M24.8,337.7Q27.2,337.0 28.7,337.1M90.3,312.0Q91.6,312.9 91.8,314.3M103.7,327.9Q103.6,326.6 103.3,324.7M108.4,329.5Q106.7,328.9 105.3,328.5M103.9,333.9Q103.5,334.1 103.1,333.5M97.7,334.9Q97.9,335.1 97.5,335.4M103.0,340.2Q102.3,340.1 101.5,340.8M106.9,353.4Q109.3,353.9 110.5,353.3M105.3,369.5Q103.5,370.3 102.6,370.4M106.8,353.4Q106.7,354.7 105.1,355.2M112.3,349.4Q111.7,351.2 110.5,353.3M79.2,347.3Q82.0,348.5 84.6,349.4M81.4,344.1Q83.4,343.7 83.9,344.0M106.3,375.6Q105.0,375.2 102.0,374.3M111.6,372.8Q111.6,372.8 112.4,373.9M100.5,397.2Q102.8,397.8 103.7,397.8M83.1,398.1Q83.4,399.9 84.8,400.2M82.7,407.1Q81.1,406.3 79.7,405.1M85.0,401.2Q84.2,400.8 84.3,401.4M84.0,388.8Q84.4,386.9 84.1,384.6M82.8,380.2Q82.4,382.1 83.2,383.1M83.7,393.2Q81.3,393.7 79.5,392.8M94.1,383.8Q92.3,383.0 90.2,382.4M88.6,378.8Q88.5,378.4 88.7,379.1M74.6,337.6Q73.4,339.4 73.7,341.4M79.4,348.0Q77.1,347.1 76.4,347.5M83.7,355.1Q81.4,353.9 79.2,353.4M76.5,356.3Q76.8,354.6 77.5,353.8M118.3,374.0Q119.8,373.3 121.9,373.0M115.1,374.8Q113.8,374.7 112.4,373.9M117.5,366.4Q118.0,365.3 117.8,364.3M117.8,364.3Q118.7,364.9 121.0,365.6M121.0,365.6Q122.6,368.2 122.7,369.8M149.4,370.4Q148.3,370.1 148.4,371.2M117.8,393.9Q118.2,394.6 119.0,395.9M117.1,399.1Q118.0,399.0 119.2,397.6M115.6,399.6Q116.0,399.1 117.1,399.1M119.5,404.6Q119.5,404.2 120.9,405.2M119.5,404.6Q119.5,405.0 119.0,404.6M115.6,399.6Q117.0,402.9 119.0,404.6M69.6,404.9Q68.9,404.8 67.9,404.8M52.9,404.4Q54.6,403.3 55.8,402.8M57.2,402.4Q55.9,403.3 55.8,402.8M39.9,389.6Q38.2,392.7 37.9,395.0M65.7,391.7Q65.5,390.1 66.8,389.5M66.2,397.9Q66.0,397.2 65.4,397.0M71.8,354.8Q71.2,354.2 69.7,354.6M55.2,347.5Q56.6,347.7 56.6,349.3M108.8,341.8Q108.5,339.4 107.2,337.4M107.7,343.3Q105.8,343.3 104.7,343.4M112.8,344.0Q113.7,343.9 114.9,342.9M111.9,333.5Q111.2,335.1 110.3,336.2M99.8,376.4Q97.5,378.5 96.7,380.0M118.1,376.9Q117.4,374.8 118.3,374.0M66.7,347.2Q68.1,346.9 68.5,347.5M123.9,340.8Q124.0,338.7 123.1,335.6M136.7,331.9Q136.5,330.8 137.0,331.2M121.9,331.9Q121.0,332.0 120.7,330.6M115.0,349.5Q115.9,349.8 116.1,350.2M118.8,346.1Q117.8,347.4 116.1,350.0M114.9,342.9Q115.2,342.9 114.8,342.5M125.7,358.9Q124.4,358.0 124.4,357.8M141.4,400.0Q139.6,399.8 137.5,398.1M132.8,401.2Q133.8,400.7 133.5,400.1M134.9,401.1Q134.7,401.1 133.5,400.1M144.1,398.2Q144.2,397.8 143.5,396.2M137.5,398.1Q138.2,396.8 137.3,395.8M150.5,368.5Q150.5,369.0 149.4,370.4M148.4,371.2Q146.5,369.9 145.9,369.8M137.0,380.3Q135.7,379.3 133.5,379.4M28.1,374.3Q26.8,375.2 26.0,377.0M28.1,374.3Q29.4,374.7 30.0,376.2M31.6,389.1Q32.6,387.3 33.0,384.1M33.6,345.3Q33.2,344.5 32.4,345.2M33.6,345.3Q35.8,344.8 36.6,344.3M36.6,343.9Q37.1,344.4 36.6,344.3M34.2,340.1Q33.3,339.2 31.1,339.5M35.3,348.7Q35.0,347.5 33.6,345.3M30.5,336.6Q30.9,337.9 31.1,339.5M41.9,354.4Q42.6,356.3 42.1,357.0M55.4,401.5Q53.8,399.9 51.1,399.8M47.8,396.6Q45.3,397.5 44.4,399.3M49.0,405.5Q47.2,404.6 46.4,403.3M37.2,405.6Q40.4,405.2 42.3,403.8M36.5,404.4Q37.0,403.6 35.9,403.4M70.6,383.9Q69.9,384.8 70.3,384.8M77.7,385.1Q77.1,384.9 77.9,385.1M70.4,390.3Q71.0,389.9 72.3,388.1M69.6,404.9Q70.0,404.9 72.0,404.8M72.0,404.8Q72.9,405.3 73.7,407.3M71.0,400.1Q71.5,398.5 70.5,397.7M71.0,400.1Q71.7,401.4 73.2,401.9M52.0,379.9Q52.6,380.2 53.3,381.4M53.9,387.9Q55.1,387.6 55.0,386.2M51.9,382.8Q53.3,384.1 55.0,386.2M67.8,365.5Q68.2,367.7 69.5,368.8M67.8,365.5Q65.3,366.3 63.0,365.9M72.7,373.2Q71.2,374.0 70.5,374.9M70.5,374.9Q69.0,371.3 67.8,369.1M48.1,332.0Q47.9,334.7 48.6,337.3M53.9,333.1Q55.5,335.5 57.0,336.7M117.9,332.7Q117.6,332.9 115.9,331.8M112.8,339.4Q113.8,337.4 114.8,336.2M98.4,354.3Q97.0,353.2 96.1,351.4M89.2,354.4Q88.6,354.2 89.2,354.1M92.2,344.2Q92.8,343.0 92.4,342.9M96.2,349.6Q95.8,349.1 95.8,347.6M147.7,323.6Q149.1,323.5 149.1,324.5M137.0,331.2Q139.0,331.9 141.8,331.9M141.8,331.9Q142.4,330.0 143.8,328.6M135.2,348.2Q135.9,348.4 136.8,349.0M131.5,343.0Q133.5,343.7 134.9,343.3M133.4,355.9Q132.3,357.6 130.3,359.9M125.7,358.9Q126.3,359.6 126.4,358.9M139.9,389.5Q140.6,388.1 140.9,387.7M137.9,384.4Q139.3,383.4 142.1,382.1M143.0,382.6Q143.4,383.2 143.2,385.0M139.6,378.2Q138.7,378.3 138.5,377.6M147.0,380.9Q145.5,381.0 143.0,382.6M142.6,375.2Q140.6,377.5 139.6,378.2M140.8,366.9Q137.8,366.8 136.0,367.4M142.5,371.7Q141.2,371.8 141.3,372.2M139.7,360.4Q138.8,360.9 137.8,360.7M134.5,375.6Q133.1,374.0 131.6,373.4M131.6,373.4Q133.7,372.2 136.7,371.0M133.5,379.4Q133.5,379.1 133.7,379.5M132.3,373.9Q129.9,374.3 127.9,376.3M126.0,369.9Q125.9,372.1 125.2,375.7M127.4,365.2Q126.6,367.9 126.1,369.1M123.4,380.8Q124.3,378.5 126.1,376.7M31.7,377.4Q33.1,377.8 35.1,378.0M35.2,379.1Q35.5,379.3 35.1,378.0M30.8,360.4Q31.1,358.9 32.2,358.0M44.1,399.0Q42.9,398.0 41.1,395.7M41.1,395.7Q39.4,395.6 39.1,395.2M79.7,405.1Q79.3,404.0 79.5,402.3M57.0,386.0Q58.6,388.3 58.9,390.0M49.5,343.3Q50.1,341.1 50.2,340.2M58.3,355.7Q57.4,356.4 56.4,357.2M58.3,360.8Q57.3,359.2 55.2,357.4M66.3,356.6Q64.9,358.3 64.2,359.3M64.8,351.6Q64.1,351.6 63.9,353.2M58.3,355.7Q60.7,356.3 61.5,355.5M96.0,373.3Q94.6,373.9 93.7,373.1M96.0,373.3Q97.9,372.2 98.4,371.7M141.8,331.9Q142.4,331.8 142.0,333.2M145.4,328.8Q146.9,329.7 147.5,331.0M147.7,331.6Q148.1,331.6 147.5,331.0M74.8,394.1Q74.7,395.3 74.0,397.7M63.8,371.7Q64.1,371.9 63.2,373.0M67.3,376.0Q64.6,374.1 62.7,373.5M64.0,383.9Q62.6,383.4 62.5,384.3M66.6,381.1Q65.2,381.6 65.2,381.0M59.8,371.4Q61.6,372.1 63.2,373.0M58.5,340.5Q57.0,340.8 55.8,339.6M143.3,353.0Q143.5,351.6 144.7,349.7M138.8,341.8Q139.8,341.9 140.0,342.9M148.3,351.0Q151.7,349.1 153.7,346.6M149.1,351.2Q148.3,350.6 148.3,351.0M144.3,342.3Q145.6,342.7 146.6,343.9" stroke="#a878c9" stroke-width="0.85" fill="none" stroke-linecap="round"/>
<path d="M126.8,314.5Q127.1,312.9 128.6,312.7M125.4,308.9Q124.3,310.1 122.3,312.7M150.4,315.0Q149.7,314.2 147.5,313.2M143.1,318.3Q144.1,318.6 145.1,318.1M128.4,313.4Q130.7,316.2 132.6,317.8M130.5,309.9Q132.3,310.5 133.9,312.2M122.3,312.7Q121.3,311.9 119.7,310.7M119.5,315.4Q118.0,315.9 115.9,315.9M119.7,310.7Q117.5,310.9 115.6,311.1M143.2,321.5Q145.3,322.7 147.7,323.6M146.4,403.9Q145.8,403.8 144.2,404.9M32.3,408.2Q31.8,405.2 30.6,403.4M64.3,323.5Q65.2,323.0 64.5,321.5M105.7,309.8Q102.7,310.3 100.4,312.3M100.4,312.3Q101.4,313.0 102.1,314.9M84.2,360.1Q83.5,359.2 82.6,358.3M77.8,363.5Q80.0,361.9 80.8,359.2M80.8,359.2Q81.8,358.8 82.6,358.3M119.8,323.4Q120.9,322.8 122.8,321.8M128.9,402.6Q127.8,403.7 126.5,405.6M132.5,404.2Q131.2,407.3 130.0,408.8M136.5,405.9Q134.6,405.5 132.5,404.2M22.3,390.5Q24.2,389.4 27.5,388.3M26.6,313.0Q26.3,312.5 27.5,313.0M48.4,316.3Q48.7,314.5 50.4,314.0M101.0,318.6Q104.1,319.2 105.9,320.5M97.2,323.2Q97.9,323.0 99.9,322.0M84.2,360.1Q86.4,359.8 87.6,360.4M83.6,354.2Q86.9,354.9 89.2,354.4M89.2,354.4Q89.5,355.9 89.1,358.3M95.6,402.3Q95.9,401.5 94.6,400.9M100.4,401.5Q99.8,402.0 99.6,402.0M99.2,405.9Q98.1,406.7 97.5,408.5M95.6,402.3Q95.7,403.4 95.9,404.8M86.1,375.2Q84.0,374.9 82.7,375.1M80.0,376.5Q78.8,375.6 77.4,373.9M78.4,369.9Q77.3,371.6 77.4,373.9M82.1,364.8Q82.6,365.9 82.1,365.9M72.7,370.3Q74.6,369.4 76.6,368.8M72.7,370.3Q71.5,368.9 71.1,369.1M114.4,363.0Q112.0,363.5 110.3,364.9M110.3,364.9Q109.7,365.3 110.4,365.3M107.9,370.8Q106.5,370.2 105.3,369.5M73.2,359.6Q72.7,358.8 73.6,358.6M73.7,357.8Q74.2,358.7 73.6,358.6M127.8,400.4Q125.3,400.4 124.4,401.0M123.4,396.8Q123.6,397.8 123.3,399.6M38.3,348.5Q41.6,349.8 43.7,349.5M25.6,392.6Q25.8,392.4 26.8,393.1M26.8,393.1Q28.1,390.4 29.7,388.9M55.2,325.5Q55.6,326.1 57.0,327.1M64.5,321.5Q62.2,320.4 60.9,318.5M52.0,331.5Q51.6,328.9 51.5,326.9M48.6,326.7Q48.7,326.5 50.4,326.4M48.1,332.0Q46.8,331.8 46.4,331.8M43.2,329.9Q44.6,330.8 45.6,330.4M57.0,327.1Q56.8,328.5 55.9,331.1M28.7,337.1Q28.8,333.9 29.4,332.1M30.5,336.6Q29.6,337.3 28.7,337.1M61.9,316.5Q63.2,316.6 64.0,315.7M68.1,317.1Q66.4,316.9 64.0,315.7M42.4,312.7Q40.3,314.7 36.7,316.5M60.8,333.5Q59.7,332.6 59.3,331.0M64.6,334.2Q65.3,332.3 65.3,331.8M94.8,315.4Q95.8,316.9 96.5,317.6M108.9,359.8Q108.6,359.2 108.2,359.2M112.3,349.4Q113.6,349.4 115.0,349.5M106.9,353.4Q107.3,353.6 106.8,353.4M102.9,358.7Q103.6,357.1 105.1,355.2M84.6,349.4Q84.5,349.4 84.0,349.2M82.1,365.9Q84.1,366.8 85.2,366.3M107.5,370.1Q108.2,369.9 107.9,370.8M105.4,407.5Q105.4,404.3 104.3,402.4M100.4,401.5Q102.7,401.3 104.3,402.4M103.7,397.8Q105.0,396.7 105.6,396.6M84.8,400.2Q86.4,397.1 89.0,395.2M90.1,403.1Q87.2,402.9 85.0,401.2M78.3,384.6Q79.8,385.9 80.6,388.1M80.6,388.1Q82.4,388.2 84.0,388.8M77.7,385.1Q78.0,382.5 78.7,380.1M85.7,390.2Q85.0,389.9 84.0,388.8M80.5,390.9Q80.0,391.6 79.5,392.8M80.5,390.9Q80.5,389.5 80.6,388.1M94.1,383.8Q93.4,386.5 92.4,388.3M93.4,382.5Q93.9,382.7 94.1,383.8M76.6,342.6Q75.5,342.1 73.7,341.4M76.6,342.6Q77.5,341.3 79.5,341.4M77.3,337.8Q76.2,338.2 74.6,337.6M76.4,347.5Q75.3,349.2 74.6,350.8M75.0,346.5Q72.7,344.9 70.3,344.9M147.5,357.5Q148.4,359.6 149.2,360.5M149.7,365.4Q148.8,364.9 149.2,364.9M149.2,364.9Q148.5,364.0 148.9,363.6M121.4,369.3Q121.4,371.6 121.9,373.0M147.0,380.9Q147.1,379.2 147.4,378.3M123.3,399.6Q121.9,399.1 120.8,400.2M115.6,399.6Q113.7,400.3 112.9,400.5M124.5,404.9Q122.6,405.1 120.9,405.2M112.6,401.9Q114.6,404.0 116.5,405.6M26.8,384.2Q28.3,384.0 29.3,383.1M26.4,341.9Q27.0,342.1 26.1,342.2M29.3,395.4Q30.6,396.0 31.2,395.7M33.9,391.0Q33.2,389.4 31.6,389.1M63.8,400.3Q63.0,400.3 61.0,400.9M61.0,400.9Q60.6,402.4 60.0,402.3M61.6,405.0Q63.2,405.1 66.0,404.1M65.8,404.2Q65.8,404.4 66.0,404.1M70.4,390.3Q70.5,391.6 71.1,393.0M61.0,400.9Q59.9,399.5 58.6,397.2M42.6,341.8Q43.3,341.1 43.6,340.3M42.6,341.8Q41.9,343.5 41.9,344.8M56.6,349.3Q56.1,350.1 56.0,350.9M51.8,353.3Q53.1,353.6 53.9,354.4M27.6,319.1Q28.4,321.6 29.1,323.7M23.8,318.4Q26.4,318.1 27.6,319.1M70.0,328.0Q68.3,329.4 68.2,331.8M68.2,331.8Q70.2,334.2 72.1,335.0M65.3,331.8Q67.4,331.1 68.2,331.8M74.6,334.8Q73.5,334.9 72.3,335.0M103.0,340.2Q104.2,341.1 104.7,343.4M107.7,343.3Q108.7,342.2 108.8,341.8M108.3,345.8Q108.4,344.0 107.7,343.3M114.9,342.9Q113.2,341.8 111.8,340.5M101.8,353.1Q101.8,351.7 100.3,350.6M81.6,371.8Q83.7,371.5 86.9,370.7M86.9,370.7Q87.6,370.4 88.0,371.2M85.2,366.3Q86.5,367.2 87.1,369.0M109.0,392.2Q109.8,392.4 111.9,392.6M100.5,397.2Q101.5,394.3 101.1,392.6M62.2,339.7Q63.4,337.8 65.7,337.1M68.4,337.5Q69.6,339.3 69.8,340.5M66.7,347.2Q66.0,346.1 64.1,344.4M70.3,344.9Q70.4,342.5 70.5,340.5M64.6,334.2Q65.6,335.2 65.7,337.1M73.7,341.4Q71.5,341.0 69.8,340.5M131.3,337.8Q131.4,339.7 131.5,343.0M120.7,351.6Q122.0,352.0 121.8,353.3M119.5,346.2Q119.9,348.0 121.5,348.4M117.8,364.3Q118.3,363.2 120.2,362.1M118.0,355.9Q119.4,357.4 119.9,358.7M141.6,364.2Q143.1,362.8 144.7,362.0M114.9,382.5Q116.8,381.8 118.3,382.7M138.5,377.6Q137.5,376.4 136.9,375.4M143.5,396.2Q144.4,395.2 144.8,393.3M29.1,369.6Q28.3,366.0 28.3,362.9M31.4,363.1Q29.2,362.8 28.3,362.9M25.8,369.7Q26.1,368.8 24.9,368.9M27.9,357.8Q28.7,359.8 30.8,360.4M32.4,345.2Q31.0,343.2 31.0,340.8M36.0,337.0Q34.4,338.7 34.2,340.1M51.1,399.8Q51.4,401.4 50.6,403.7M50.7,399.5Q50.9,397.9 50.8,397.5M45.3,402.0Q45.2,402.4 46.4,403.3M43.6,405.7Q43.3,404.6 42.3,403.8M32.5,401.0Q32.2,400.8 32.2,402.0M32.2,402.0Q34.4,403.1 35.9,403.4M44.2,385.7Q47.0,386.9 49.1,387.8M75.6,389.6Q74.5,388.4 72.3,388.1M72.3,388.1Q71.6,385.7 70.3,384.8M80.5,390.9Q77.6,389.6 75.0,389.1M67.4,395.4Q66.2,396.5 65.4,397.0M69.3,395.3Q70.7,396.2 70.5,397.7M53.3,381.4Q53.3,381.9 51.9,382.8M63.0,365.9Q63.1,368.3 63.8,371.7M63.8,371.7Q65.8,370.5 67.8,369.1M69.5,368.8Q68.1,368.4 67.8,369.1M46.0,337.9Q47.8,337.9 49.1,336.9M48.6,337.3Q48.6,337.1 49.1,336.9M62.2,339.7Q61.9,339.9 62.0,339.9M56.6,349.3Q59.1,348.1 60.5,346.7M66.7,347.2Q65.3,348.9 63.9,351.2M62.1,350.5Q63.2,350.5 63.9,351.2M63.9,351.2Q64.1,351.3 64.8,351.6M119.8,336.2Q118.7,336.6 117.8,338.5M94.4,357.0Q94.2,355.0 92.9,353.4M96.1,341.1Q96.9,341.8 98.4,343.0M103.9,346.7Q100.5,344.9 98.7,344.8M113.4,384.4Q112.5,383.4 111.8,384.0M110.2,377.6Q110.8,377.4 111.4,378.2M110.2,377.6Q109.5,377.5 107.3,376.7M106.3,375.6Q107.1,376.9 107.3,376.7M143.8,328.6Q145.1,329.0 145.4,328.8M135.2,348.2Q135.5,346.5 134.8,344.0M134.9,343.3Q134.7,343.9 134.8,344.0M130.3,359.9Q128.4,359.6 125.4,358.5M135.9,362.8Q133.1,362.8 131.2,362.0M144.8,393.3Q144.7,392.1 144.3,390.2M140.9,387.7Q142.6,389.0 144.3,390.2M144.3,390.2Q146.8,389.1 147.9,387.8M137.0,380.3Q137.6,382.9 138.4,384.3M136.7,368.0Q137.4,370.0 136.7,371.0M141.3,372.2Q139.9,371.9 138.1,371.7M133.7,379.5Q132.7,382.9 133.2,385.2M39.6,377.3Q37.5,377.9 35.2,379.1M53.9,387.9Q53.8,390.4 55.3,391.7M42.3,403.8Q41.0,403.1 41.3,401.2M31.2,395.7Q34.6,396.9 37.1,397.4M84.3,401.4Q82.3,401.0 78.8,402.1M78.8,402.1Q78.3,402.1 79.5,402.3M49.5,343.3Q52.3,344.0 54.5,343.6M50.2,340.2Q51.4,339.4 53.7,339.4M53.9,354.4Q55.9,355.6 56.4,357.2M51.4,359.9Q53.2,358.3 55.2,357.4M66.3,356.6Q65.6,354.1 63.9,353.2M93.7,373.1Q94.1,373.6 93.3,373.7M145.0,333.8Q146.6,331.9 147.5,331.0M152.1,328.5Q150.4,329.7 147.7,331.6M134.9,343.3Q134.8,341.0 135.2,339.2M136.7,331.9Q137.8,334.3 138.6,335.6M142.0,333.2Q140.7,335.0 140.2,335.2M138.6,335.6Q139.4,336.1 140.2,335.2M78.0,395.4Q78.2,395.4 78.6,396.7M74.4,393.0Q75.2,394.2 74.8,394.1M75.0,389.1Q75.4,390.4 74.4,393.0M69.3,376.1Q70.5,377.5 71.9,378.8M70.6,383.9Q69.6,382.2 69.2,380.9M63.2,373.0Q62.6,373.9 62.7,373.5M62.5,384.3Q59.4,384.3 57.8,383.9M57.8,383.9Q58.1,382.9 57.7,381.2M56.9,372.8Q56.3,375.7 57.1,378.6M57.1,378.6Q58.2,379.7 58.2,379.7M53.0,377.0Q55.8,377.7 57.1,378.6M53.7,339.4Q54.6,339.8 55.4,338.8M138.8,341.8Q140.9,340.2 141.6,338.7M140.0,342.9Q141.2,344.6 141.3,345.1M141.3,345.1Q143.2,344.4 144.3,342.3M144.3,342.3Q144.1,340.3 143.8,339.5M140.3,346.0Q141.1,345.7 141.3,345.1M149.7,340.1Q148.6,342.6 148.5,344.0M147.5,338.5Q149.6,337.4 150.2,335.3" stroke="#ac62ba" stroke-width="0.85" fill="none" stroke-linecap="round"/>
<path d="M122.3,312.7Q121.9,313.3 122.2,313.4M149.8,317.8Q149.2,317.8 149.7,318.3M137.3,317.7Q136.9,317.2 137.2,316.4M132.6,317.8Q134.1,316.4 134.6,316.0M137.2,316.4Q135.7,316.9 134.6,316.0M95.3,311.4Q93.3,311.1 90.3,312.0M115.9,315.9Q116.1,314.0 115.6,311.1M149.7,318.3Q148.2,321.7 147.7,323.6M113.8,319.2Q115.4,317.7 115.9,315.9M120.6,317.5Q121.2,318.9 123.1,319.7M48.4,316.3Q48.1,316.8 46.2,315.7M43.5,320.2Q44.4,319.5 45.3,319.9M43.4,313.6Q43.0,316.3 41.0,318.6M44.2,325.3Q44.2,325.1 44.0,323.6M43.2,329.9Q41.4,330.8 40.9,332.0M41.0,335.3Q40.6,333.7 40.9,332.0M99.9,322.0Q101.3,323.0 103.3,324.7M100.6,316.7Q98.8,317.4 96.2,318.3M113.6,319.8Q112.7,321.5 111.2,322.3M116.3,324.4Q115.1,325.6 115.0,328.3M83.7,355.1Q82.5,356.7 82.6,358.3M99.4,398.3Q98.8,399.7 99.6,402.0M100.4,401.5Q100.0,403.4 99.2,405.9M80.0,376.5Q78.8,377.8 78.5,379.6M78.5,379.6Q77.9,380.5 78.7,380.1M79.8,368.9Q81.2,370.0 81.6,371.8M77.5,363.2Q76.5,364.5 75.0,365.0M75.0,365.0Q75.5,367.6 76.6,368.8M72.7,373.2Q72.0,371.0 72.7,370.3M70.9,358.9Q72.4,359.0 73.2,359.6M110.4,365.3Q106.6,364.6 103.6,364.3M110.8,368.0Q110.0,369.4 107.9,370.8M80.8,359.2Q79.4,357.8 76.5,356.3M72.8,363.7Q72.6,363.9 72.1,364.1M141.4,400.0Q142.0,399.6 144.1,398.2M148.2,382.4Q149.1,383.2 148.7,384.4M127.8,400.4Q128.0,401.8 128.9,402.6M127.8,400.4Q127.9,400.2 128.3,398.5M27.5,388.3Q28.1,387.9 29.7,388.9M32.5,401.0Q31.6,402.5 30.6,403.4M29.3,395.4Q29.6,396.5 29.3,396.8M49.7,318.6Q48.1,319.4 48.1,321.1M51.1,323.4Q53.0,321.6 54.2,320.6M48.4,316.3Q49.7,318.0 49.7,318.6M46.3,321.5Q47.3,321.8 48.1,321.1M58.4,319.8Q57.4,320.3 57.3,322.0M48.6,326.7Q47.2,329.1 45.6,330.4M50.4,326.4Q50.4,326.7 51.5,326.9M52.0,331.5Q53.8,332.2 54.6,332.7M44.4,351.8Q44.6,351.4 46.2,351.7M46.2,356.6Q47.6,356.2 47.8,356.4M55.6,315.5Q57.5,314.6 58.9,312.5M31.2,312.4Q33.2,314.2 34.7,315.3M64.2,328.6Q64.5,330.7 65.3,331.8M60.8,333.5Q62.9,333.6 64.6,334.2M71.9,315.0Q70.3,314.3 69.2,315.2M69.2,315.2Q68.3,313.2 68.5,312.3M68.1,317.1Q68.2,315.4 69.2,315.2M75.7,311.0Q73.5,312.1 72.9,312.4M103.1,333.5Q104.5,334.8 104.7,334.6M110.6,328.2Q109.2,329.5 108.4,329.5M100.3,333.1Q99.6,334.7 97.7,334.9M103.9,333.9Q101.2,336.3 100.0,338.1M107.0,337.1Q105.1,335.1 104.7,334.6M108.2,359.2Q110.2,358.5 112.7,359.0M114.4,363.0Q114.4,362.1 114.1,361.0M112.8,344.0Q110.2,345.6 108.3,345.8M112.3,349.4Q110.2,349.2 109.1,348.8M109.1,348.8Q108.5,347.3 108.3,345.8M84.0,349.2Q85.5,348.9 88.3,349.6M85.2,366.3Q86.9,365.2 88.2,363.8M102.6,370.4Q102.5,372.9 102.0,374.3M107.5,370.1Q109.2,371.2 111.6,372.8M105.4,407.5Q107.1,405.9 109.4,404.2M109.8,398.3Q111.4,399.0 112.9,400.5M109.6,403.8Q109.1,404.1 109.4,404.2M105.6,396.6Q107.4,395.7 107.7,395.7M88.0,407.1Q85.7,406.6 83.7,405.8M78.3,384.6Q81.3,383.6 83.2,383.1M88.2,384.6Q88.5,384.2 90.2,382.4M88.7,379.1Q91.7,378.9 94.0,378.0M96.6,379.2Q95.2,379.0 94.0,378.0M88.1,378.1Q88.5,378.5 88.6,378.8M74.6,350.8Q74.0,351.7 74.3,351.6M83.6,354.2Q84.0,351.6 84.6,349.4M79.2,347.3Q79.7,347.0 79.4,348.0M68.5,347.5Q68.5,349.3 70.0,349.9M115.0,328.3Q118.1,329.1 120.3,328.9M147.5,357.5Q145.7,359.4 145.2,359.7M147.4,378.3Q147.1,377.2 145.4,376.6M119.0,395.9Q119.2,396.5 119.2,397.6M114.9,394.7Q116.8,396.4 117.1,399.1M120.8,400.2Q119.5,402.9 119.5,404.6M29.0,382.3Q26.9,379.6 26.3,377.3M26.3,377.3Q26.3,377.3 26.0,377.0M25.5,349.8Q28.1,348.9 29.5,347.7M31.1,346.1Q29.7,345.4 26.8,345.1M29.7,388.9Q30.6,388.4 31.6,389.1M67.9,404.8Q66.2,404.4 65.8,404.2M57.2,402.4Q59.1,402.5 60.0,402.3M58.4,409.3Q60.5,406.9 61.6,405.0M70.0,400.0Q67.8,399.0 66.2,397.9M55.4,401.5Q55.6,402.4 55.8,402.8M48.4,344.1Q49.2,344.3 48.6,344.7M69.4,351.5Q69.3,352.9 69.7,354.6M25.5,327.1Q24.4,325.8 22.3,324.4M22.3,324.4Q23.5,323.3 24.4,323.0M29.7,316.4Q28.8,318.4 27.6,319.1M24.4,323.0Q26.6,323.2 29.1,323.7M111.8,340.5Q112.1,340.5 112.8,339.4M112.8,339.4Q111.1,337.7 110.3,336.2M101.8,353.1Q100.7,353.5 98.4,354.3M105.8,349.4Q104.1,348.7 102.8,348.3M103.9,346.7Q103.7,347.3 102.8,348.3M86.1,375.2Q87.2,374.0 88.0,371.2M86.9,370.7Q87.2,369.1 87.1,369.0M88.7,379.1Q90.7,376.4 91.3,374.1M96.7,380.0Q98.2,380.8 100.8,381.8M114.5,395.3Q114.0,393.8 111.9,392.6M118.1,376.9Q116.4,378.5 115.1,379.4M114.0,378.4Q114.5,379.1 115.1,379.4M64.1,344.4Q64.5,343.8 63.9,342.9M128.7,338.0Q128.5,338.8 126.8,340.9M128.9,346.6Q128.6,345.3 129.5,343.0M114.2,354.9Q114.7,354.3 115.7,353.9M124.2,347.4Q123.5,347.4 121.5,348.4M122.4,353.6Q121.4,354.2 121.8,353.3M121.0,365.6Q121.9,364.8 123.6,364.2M137.5,398.1Q136.0,399.3 134.9,401.1M141.6,364.2Q141.7,365.6 141.4,365.7M145.4,376.6Q144.4,376.3 142.6,375.2M137.0,380.3Q138.1,379.4 138.5,377.6M136.9,375.4Q135.8,375.1 134.5,375.6M149.0,396.6Q148.5,395.0 149.2,393.9M24.9,368.9Q24.9,367.2 24.0,365.1M43.8,356.7Q43.7,356.5 42.1,357.0M47.8,396.6Q48.9,397.7 50.8,397.5M51.1,399.8Q51.5,399.3 50.7,399.5M44.2,385.7Q45.3,385.6 45.3,386.2M49.2,391.9Q47.4,392.7 46.4,393.0M49.2,391.9Q49.7,389.9 49.7,387.9M42.6,379.9Q41.5,382.0 39.6,383.4M46.4,381.0Q45.0,383.5 44.2,385.7M46.4,380.9Q46.5,381.4 46.4,381.0M75.0,389.1Q76.0,388.6 75.6,389.6M66.8,389.5Q66.8,387.4 67.3,385.5M67.3,385.5Q68.8,385.2 70.3,384.8M71.1,369.1Q69.9,369.7 69.5,368.8M60.5,346.7Q61.2,348.6 62.1,350.5M121.5,335.2Q120.0,335.8 119.8,336.2M115.2,328.8Q116.2,329.6 115.9,331.8M88.3,349.6Q89.1,350.1 89.5,350.3M89.2,354.1Q89.4,352.3 89.5,350.3M94.7,348.0Q94.9,347.6 95.8,347.6M101.5,340.8Q100.0,341.6 98.4,343.0M93.4,382.5Q96.3,384.0 97.8,385.5M96.6,379.2Q97.1,379.1 96.7,380.0M112.6,390.2Q110.9,388.9 108.9,387.4M105.5,379.6Q105.1,380.5 106.0,382.3M102.6,380.1Q103.6,379.7 105.5,379.6M130.5,362.8Q128.7,363.0 127.7,364.4M130.5,362.8Q131.2,362.4 131.2,362.0M137.8,360.7Q137.2,362.2 135.9,362.8M148.3,386.1Q147.4,386.8 147.9,387.8M139.6,378.2Q141.0,380.3 142.1,382.1M148.3,386.1Q145.0,386.2 143.2,385.0M141.4,365.7Q140.6,365.9 140.8,366.9M131.0,367.6Q133.3,368.2 136.7,368.0M118.3,382.7Q119.8,381.4 120.7,379.0M133.7,379.5Q131.3,378.8 130.1,379.2M126.0,369.9Q125.7,369.2 126.1,369.1M130.1,379.2Q129.4,377.0 127.9,376.3M51.1,397.4Q53.0,396.3 55.4,396.4M50.8,397.5Q50.3,397.5 51.1,397.4M49.2,391.9Q50.1,392.1 50.9,393.7M44.1,399.0Q43.4,400.2 41.3,401.2M44.9,392.5Q42.6,394.6 41.1,395.7M35.9,403.4Q36.6,401.8 37.7,400.4M32.2,402.0Q34.2,400.3 36.9,397.9M48.6,344.7Q48.5,344.3 49.5,343.3M55.2,347.5Q55.5,345.1 54.5,343.6M57.7,352.9Q57.7,354.1 58.3,355.7M55.2,357.4Q55.2,358.0 56.4,357.2M60.6,359.0Q61.2,358.9 63.1,360.2M67.6,357.0Q67.3,356.7 66.3,356.6M91.8,368.8Q92.7,371.8 93.3,373.7M91.3,374.1Q91.8,373.1 93.3,373.7M94.0,378.0Q93.3,375.4 93.7,373.1M99.8,376.4Q97.7,374.5 96.0,373.3M135.7,338.5Q135.2,338.4 135.2,339.2M142.6,353.3Q141.7,355.4 141.9,358.7M133.9,354.3Q135.5,354.8 137.3,355.0M137.3,355.0Q138.8,356.3 141.3,358.7M141.3,358.7Q141.7,359.1 141.9,358.7M78.0,395.4Q75.4,394.0 74.4,393.0M79.5,392.8Q78.8,393.7 78.0,395.4M79.1,397.9Q79.1,397.2 78.6,396.7M71.1,393.0Q73.8,393.7 74.8,394.1M70.5,397.7Q72.0,398.4 74.0,397.7M69.3,376.1Q67.8,376.5 67.3,376.0M71.9,378.8Q69.9,379.7 69.2,380.9M65.2,381.0Q64.1,380.2 62.3,377.8M65.2,381.0Q64.2,382.6 64.0,383.9M62.3,377.8Q59.5,378.7 58.2,379.7M57.7,381.2Q58.2,379.7 58.2,379.7M58.7,344.3Q58.7,342.8 58.5,340.5M58.7,344.3Q57.1,343.5 55.2,343.7M54.5,343.6Q54.5,344.2 55.2,343.7M140.3,346.0Q142.6,347.3 144.7,349.7M140.3,346.0Q139.5,346.9 138.0,348.9M138.0,348.9Q139.1,350.2 139.0,352.4M143.8,339.5Q143.3,339.7 141.6,338.7M135.2,339.2Q136.4,340.6 138.8,341.8M145.7,336.9Q145.4,335.5 145.0,333.8M147.3,349.6Q146.7,346.9 146.6,343.9M148.5,344.0Q147.0,343.3 146.6,343.9M145.7,336.9Q146.1,338.1 147.5,338.5M149.7,340.1Q149.2,339.5 147.5,338.5" stroke="#9a6cc4" stroke-width="0.85" fill="none" stroke-linecap="round"/>
<path d="M122.2,311.8a0.9,0.7 0 1,0 1.8,0a0.9,0.7 0 1,0 -1.8,0M121.7,313.2a0.6,0.4 0 1,0 1.1,0a0.6,0.4 0 1,0 -1.1,0M145.3,318.2a0.6,0.4 0 1,0 1.1,0a0.6,0.4 0 1,0 -1.1,0M145.3,311.7a0.9,0.7 0 1,0 1.8,0a0.9,0.7 0 1,0 -1.8,0M136.3,316.9a0.9,0.7 0 1,0 1.8,0a0.9,0.7 0 1,0 -1.8,0M128.2,312.1a0.9,0.7 0 1,0 1.8,0a0.9,0.7 0 1,0 -1.8,0M93.8,311.5a0.6,0.5 0 1,0 1.3,0a0.6,0.5 0 1,0 -1.3,0M114.9,311.1a0.9,0.7 0 1,0 1.8,0a0.9,0.7 0 1,0 -1.8,0M136.7,404.4a0.6,0.5 0 1,0 1.3,0a0.6,0.5 0 1,0 -1.3,0M26.6,355.4a1.0,0.8 0 1,0 2.0,0a1.0,0.8 0 1,0 -2.0,0M24.1,337.6a0.6,0.5 0 1,0 1.2,0a0.6,0.5 0 1,0 -1.2,0M63.9,321.9a0.6,0.5 0 1,0 1.2,0a0.6,0.5 0 1,0 -1.2,0M101.4,314.9a0.7,0.5 0 1,0 1.3,0a0.7,0.5 0 1,0 -1.3,0M112.1,317.5a0.7,0.5 0 1,0 1.3,0a0.7,0.5 0 1,0 -1.3,0M110.5,319.3a0.6,0.5 0 1,0 1.3,0a0.6,0.5 0 1,0 -1.3,0M112.8,319.1a0.8,0.6 0 1,0 1.5,0a0.8,0.6 0 1,0 -1.5,0M112.9,311.5a0.7,0.6 0 1,0 1.5,0a0.7,0.6 0 1,0 -1.5,0M82.1,363.4a0.7,0.5 0 1,0 1.3,0a0.7,0.5 0 1,0 -1.3,0M81.9,358.7a0.9,0.8 0 1,0 1.9,0a0.9,0.8 0 1,0 -1.9,0M122.2,319.7a0.9,0.7 0 1,0 1.7,0a0.9,0.7 0 1,0 -1.7,0M146.4,402.6a1.0,0.8 0 1,0 2.0,0a1.0,0.8 0 1,0 -2.0,0M26.2,385.9a0.9,0.7 0 1,0 1.9,0a0.9,0.7 0 1,0 -1.9,0M21.9,390.8a0.9,0.7 0 1,0 1.7,0a0.9,0.7 0 1,0 -1.7,0M41.0,318.9a0.6,0.4 0 1,0 1.1,0a0.6,0.4 0 1,0 -1.1,0M42.2,329.8a1.0,0.8 0 1,0 2.0,0a1.0,0.8 0 1,0 -2.0,0M100.0,322.7a0.8,0.6 0 1,0 1.5,0a0.8,0.6 0 1,0 -1.5,0M101.1,315.4a0.6,0.5 0 1,0 1.3,0a0.6,0.5 0 1,0 -1.3,0M109.0,324.0a0.7,0.6 0 1,0 1.5,0a0.7,0.6 0 1,0 -1.5,0M110.3,322.4a0.9,0.7 0 1,0 1.8,0a0.9,0.7 0 1,0 -1.8,0M88.3,356.6a0.9,0.7 0 1,0 1.8,0a0.9,0.7 0 1,0 -1.8,0M82.5,356.1a0.8,0.6 0 1,0 1.6,0a0.8,0.6 0 1,0 -1.6,0M98.9,401.8a1.0,0.8 0 1,0 1.9,0a1.0,0.8 0 1,0 -1.9,0M95.1,404.8a0.8,0.7 0 1,0 1.6,0a0.8,0.7 0 1,0 -1.6,0M81.6,374.7a0.9,0.7 0 1,0 1.9,0a0.9,0.7 0 1,0 -1.9,0M76.1,374.1a0.6,0.5 0 1,0 1.2,0a0.6,0.5 0 1,0 -1.2,0M76.8,363.3a0.6,0.5 0 1,0 1.1,0a0.6,0.5 0 1,0 -1.1,0M81.2,365.1a0.9,0.7 0 1,0 1.7,0a0.9,0.7 0 1,0 -1.7,0M72.3,373.2a0.6,0.5 0 1,0 1.2,0a0.6,0.5 0 1,0 -1.2,0M111.7,363.8a1.0,0.8 0 1,0 1.9,0a1.0,0.8 0 1,0 -1.9,0M109.8,365.2a0.6,0.5 0 1,0 1.2,0a0.6,0.5 0 1,0 -1.2,0M110.0,367.2a0.7,0.6 0 1,0 1.5,0a0.7,0.6 0 1,0 -1.5,0M111.6,368.1a0.6,0.5 0 1,0 1.1,0a0.6,0.5 0 1,0 -1.1,0M111.4,368.1a0.8,0.6 0 1,0 1.5,0a0.8,0.6 0 1,0 -1.5,0M144.0,398.7a0.8,0.7 0 1,0 1.7,0a0.8,0.7 0 1,0 -1.7,0M124.0,405.0a0.6,0.5 0 1,0 1.2,0a0.6,0.5 0 1,0 -1.2,0M39.7,348.9a0.6,0.5 0 1,0 1.2,0a0.6,0.5 0 1,0 -1.2,0M24.8,392.7a0.8,0.7 0 1,0 1.7,0a0.8,0.7 0 1,0 -1.7,0M27.7,388.6a0.7,0.6 0 1,0 1.4,0a0.7,0.6 0 1,0 -1.4,0M27.8,388.6a0.7,0.6 0 1,0 1.4,0a0.7,0.6 0 1,0 -1.4,0M28.3,395.6a1.0,0.8 0 1,0 1.9,0a1.0,0.8 0 1,0 -1.9,0M28.5,395.6a0.8,0.6 0 1,0 1.5,0a0.8,0.6 0 1,0 -1.5,0M52.2,319.4a0.9,0.7 0 1,0 1.8,0a0.9,0.7 0 1,0 -1.8,0M59.8,325.3a0.9,0.7 0 1,0 1.8,0a0.9,0.7 0 1,0 -1.8,0M60.4,324.7a0.9,0.8 0 1,0 1.9,0a0.9,0.8 0 1,0 -1.9,0M61.8,328.1a0.9,0.7 0 1,0 1.8,0a0.9,0.7 0 1,0 -1.8,0M44.9,330.8a0.9,0.8 0 1,0 1.9,0a0.9,0.8 0 1,0 -1.9,0M44.2,333.4a1.0,0.8 0 1,0 1.9,0a1.0,0.8 0 1,0 -1.9,0M55.8,329.0a0.6,0.5 0 1,0 1.2,0a0.6,0.5 0 1,0 -1.2,0M49.5,355.3a0.9,0.7 0 1,0 1.8,0a0.9,0.7 0 1,0 -1.8,0M26.3,330.5a0.7,0.6 0 1,0 1.4,0a0.7,0.6 0 1,0 -1.4,0M27.8,337.1a0.9,0.7 0 1,0 1.8,0a0.9,0.7 0 1,0 -1.8,0M59.4,314.1a0.7,0.5 0 1,0 1.4,0a0.7,0.5 0 1,0 -1.4,0M60.4,317.9a0.8,0.7 0 1,0 1.7,0a0.8,0.7 0 1,0 -1.7,0M33.5,315.0a0.8,0.6 0 1,0 1.6,0a0.8,0.6 0 1,0 -1.6,0M69.4,315.1a0.8,0.6 0 1,0 1.6,0a0.8,0.6 0 1,0 -1.6,0M68.0,314.2a1.0,0.8 0 1,0 1.9,0a1.0,0.8 0 1,0 -1.9,0M102.7,327.5a0.9,0.7 0 1,0 1.8,0a0.9,0.7 0 1,0 -1.8,0M103.1,331.8a0.7,0.6 0 1,0 1.4,0a0.7,0.6 0 1,0 -1.4,0M104.1,328.4a0.8,0.6 0 1,0 1.6,0a0.8,0.6 0 1,0 -1.6,0M102.5,333.7a1.0,0.8 0 1,0 2.0,0a1.0,0.8 0 1,0 -2.0,0M105.7,337.5a0.8,0.6 0 1,0 1.6,0a0.8,0.6 0 1,0 -1.6,0M107.3,353.4a0.9,0.7 0 1,0 1.7,0a0.9,0.7 0 1,0 -1.7,0M101.9,370.4a0.8,0.6 0 1,0 1.6,0a0.8,0.6 0 1,0 -1.6,0M106.2,353.4a0.6,0.5 0 1,0 1.3,0a0.6,0.5 0 1,0 -1.3,0M110.5,351.1a1.0,0.8 0 1,0 2.0,0a1.0,0.8 0 1,0 -2.0,0M83.9,349.3a0.6,0.5 0 1,0 1.2,0a0.6,0.5 0 1,0 -1.2,0M83.7,345.0a1.0,0.8 0 1,0 1.9,0a1.0,0.8 0 1,0 -1.9,0M85.4,365.7a0.6,0.5 0 1,0 1.2,0a0.6,0.5 0 1,0 -1.2,0M103.2,374.9a0.9,0.7 0 1,0 1.9,0a0.9,0.7 0 1,0 -1.9,0M112.0,373.4a0.6,0.5 0 1,0 1.1,0a0.6,0.5 0 1,0 -1.1,0M108.7,404.0a0.7,0.6 0 1,0 1.4,0a0.7,0.6 0 1,0 -1.4,0M103.4,398.3a0.7,0.6 0 1,0 1.4,0a0.7,0.6 0 1,0 -1.4,0M84.0,400.0a0.6,0.5 0 1,0 1.2,0a0.6,0.5 0 1,0 -1.2,0M85.1,406.5a0.8,0.7 0 1,0 1.7,0a0.8,0.7 0 1,0 -1.7,0M89.8,405.5a0.6,0.4 0 1,0 1.1,0a0.6,0.4 0 1,0 -1.1,0M82.1,382.1a0.9,0.7 0 1,0 1.8,0a0.9,0.7 0 1,0 -1.8,0M92.0,387.5a0.7,0.6 0 1,0 1.5,0a0.7,0.6 0 1,0 -1.5,0M91.4,378.4a0.6,0.5 0 1,0 1.2,0a0.6,0.5 0 1,0 -1.2,0M88.9,378.9a0.9,0.7 0 1,0 1.8,0a0.9,0.7 0 1,0 -1.8,0M95.1,379.8a1.0,0.8 0 1,0 1.9,0a1.0,0.8 0 1,0 -1.9,0M75.3,342.4a0.8,0.7 0 1,0 1.6,0a0.8,0.7 0 1,0 -1.6,0M79.4,353.8a0.8,0.6 0 1,0 1.6,0a0.8,0.6 0 1,0 -1.6,0M76.2,354.9a0.9,0.7 0 1,0 1.8,0a0.9,0.7 0 1,0 -1.8,0M83.3,352.4a0.7,0.5 0 1,0 1.3,0a0.7,0.5 0 1,0 -1.3,0M131.0,317.9a0.9,0.7 0 1,0 1.7,0a0.9,0.7 0 1,0 -1.7,0M147.1,356.8a0.8,0.7 0 1,0 1.7,0a0.8,0.7 0 1,0 -1.7,0M145.7,358.5a0.7,0.6 0 1,0 1.4,0a0.7,0.6 0 1,0 -1.4,0M120.9,373.1a0.6,0.4 0 1,0 1.1,0a0.6,0.4 0 1,0 -1.1,0M115.5,368.5a0.8,0.6 0 1,0 1.5,0a0.8,0.6 0 1,0 -1.5,0M112.1,374.0a0.7,0.6 0 1,0 1.5,0a0.7,0.6 0 1,0 -1.5,0M115.8,397.7a0.6,0.5 0 1,0 1.2,0a0.6,0.5 0 1,0 -1.2,0M115.7,399.4a0.6,0.4 0 1,0 1.1,0a0.6,0.4 0 1,0 -1.1,0M115.0,404.9a0.8,0.6 0 1,0 1.5,0a0.8,0.6 0 1,0 -1.5,0M29.6,346.0a0.9,0.7 0 1,0 1.8,0a0.9,0.7 0 1,0 -1.8,0M33.3,391.0a0.6,0.4 0 1,0 1.1,0a0.6,0.4 0 1,0 -1.1,0M64.9,404.2a0.9,0.8 0 1,0 1.9,0a0.9,0.8 0 1,0 -1.9,0M54.7,402.9a0.9,0.7 0 1,0 1.7,0a0.9,0.7 0 1,0 -1.7,0M56.7,403.2a0.7,0.6 0 1,0 1.4,0a0.7,0.6 0 1,0 -1.4,0M59.9,403.4a0.7,0.6 0 1,0 1.4,0a0.7,0.6 0 1,0 -1.4,0M57.9,402.4a0.7,0.5 0 1,0 1.4,0a0.7,0.5 0 1,0 -1.4,0M65.1,404.1a0.8,0.7 0 1,0 1.7,0a0.8,0.7 0 1,0 -1.7,0M64.9,398.6a0.6,0.5 0 1,0 1.2,0a0.6,0.5 0 1,0 -1.2,0M67.6,399.0a0.7,0.6 0 1,0 1.4,0a0.7,0.6 0 1,0 -1.4,0M36.6,394.3a0.7,0.5 0 1,0 1.3,0a0.7,0.5 0 1,0 -1.3,0M41.2,344.2a0.8,0.6 0 1,0 1.6,0a0.8,0.6 0 1,0 -1.6,0M43.3,339.8a0.8,0.6 0 1,0 1.5,0a0.8,0.6 0 1,0 -1.5,0M27.5,318.4a0.6,0.5 0 1,0 1.3,0a0.6,0.5 0 1,0 -1.3,0M114.9,343.1a0.6,0.5 0 1,0 1.1,0a0.6,0.5 0 1,0 -1.1,0M110.7,337.6a0.7,0.6 0 1,0 1.5,0a0.7,0.6 0 1,0 -1.5,0M102.9,342.0a1.0,0.8 0 1,0 2.0,0a1.0,0.8 0 1,0 -2.0,0M112.4,341.6a0.8,0.7 0 1,0 1.7,0a0.8,0.7 0 1,0 -1.7,0M113.6,342.6a0.9,0.7 0 1,0 1.8,0a0.9,0.7 0 1,0 -1.8,0M110.8,333.9a0.9,0.7 0 1,0 1.8,0a0.9,0.7 0 1,0 -1.8,0M102.4,347.5a0.9,0.7 0 1,0 1.9,0a0.9,0.7 0 1,0 -1.9,0M82.3,371.5a0.9,0.7 0 1,0 1.8,0a0.9,0.7 0 1,0 -1.8,0M86.0,370.4a0.9,0.8 0 1,0 1.9,0a0.9,0.8 0 1,0 -1.9,0M88.1,378.6a0.9,0.7 0 1,0 1.8,0a0.9,0.7 0 1,0 -1.8,0M98.1,377.4a0.9,0.7 0 1,0 1.7,0a0.9,0.7 0 1,0 -1.7,0M117.4,376.5a0.7,0.6 0 1,0 1.4,0a0.7,0.6 0 1,0 -1.4,0M66.1,337.3a0.7,0.5 0 1,0 1.3,0a0.7,0.5 0 1,0 -1.3,0M63.6,344.6a0.7,0.6 0 1,0 1.4,0a0.7,0.6 0 1,0 -1.4,0M67.4,347.4a0.6,0.5 0 1,0 1.3,0a0.6,0.5 0 1,0 -1.3,0M125.3,335.5a1.0,0.8 0 1,0 2.0,0a1.0,0.8 0 1,0 -2.0,0M123.1,342.1a0.9,0.7 0 1,0 1.7,0a0.9,0.7 0 1,0 -1.7,0M120.7,335.3a0.9,0.8 0 1,0 1.9,0a0.9,0.8 0 1,0 -1.9,0M114.7,349.8a0.7,0.6 0 1,0 1.4,0a0.7,0.6 0 1,0 -1.4,0M114.4,354.4a0.6,0.4 0 1,0 1.1,0a0.6,0.4 0 1,0 -1.1,0M115.3,349.9a0.9,0.7 0 1,0 1.7,0a0.9,0.7 0 1,0 -1.7,0M120.8,348.4a0.9,0.7 0 1,0 1.8,0a0.9,0.7 0 1,0 -1.8,0M120.6,342.5a0.6,0.4 0 1,0 1.1,0a0.6,0.4 0 1,0 -1.1,0M115.3,350.0a0.9,0.8 0 1,0 1.9,0a0.9,0.8 0 1,0 -1.9,0M117.6,364.0a0.6,0.4 0 1,0 1.1,0a0.6,0.4 0 1,0 -1.1,0M122.2,363.4a0.9,0.7 0 1,0 1.8,0a0.9,0.7 0 1,0 -1.8,0M137.0,398.2a0.8,0.6 0 1,0 1.5,0a0.8,0.6 0 1,0 -1.5,0M132.4,400.4a1.0,0.8 0 1,0 1.9,0a1.0,0.8 0 1,0 -1.9,0M147.1,370.9a0.7,0.6 0 1,0 1.4,0a0.7,0.6 0 1,0 -1.4,0M144.1,376.3a0.8,0.6 0 1,0 1.5,0a0.8,0.6 0 1,0 -1.5,0M142.7,396.0a0.8,0.6 0 1,0 1.6,0a0.8,0.6 0 1,0 -1.6,0M27.5,372.5a0.8,0.7 0 1,0 1.7,0a0.8,0.7 0 1,0 -1.7,0M32.3,345.2a0.8,0.6 0 1,0 1.5,0a0.8,0.6 0 1,0 -1.5,0M35.0,344.5a0.9,0.7 0 1,0 1.7,0a0.9,0.7 0 1,0 -1.7,0M25.7,342.1a0.6,0.5 0 1,0 1.3,0a0.6,0.5 0 1,0 -1.3,0M50.5,399.7a0.6,0.4 0 1,0 1.1,0a0.6,0.4 0 1,0 -1.1,0M50.0,399.7a0.9,0.7 0 1,0 1.9,0a0.9,0.7 0 1,0 -1.9,0M44.4,392.5a0.7,0.6 0 1,0 1.4,0a0.7,0.6 0 1,0 -1.4,0M72.5,388.5a0.8,0.7 0 1,0 1.6,0a0.8,0.7 0 1,0 -1.6,0M76.9,385.1a0.9,0.7 0 1,0 1.7,0a0.9,0.7 0 1,0 -1.7,0M78.7,390.5a0.6,0.5 0 1,0 1.1,0a0.6,0.5 0 1,0 -1.1,0M66.6,385.4a1.0,0.8 0 1,0 2.0,0a1.0,0.8 0 1,0 -2.0,0M72.3,406.1a0.6,0.5 0 1,0 1.1,0a0.6,0.5 0 1,0 -1.1,0M68.7,396.0a0.9,0.7 0 1,0 1.8,0a0.9,0.7 0 1,0 -1.8,0M72.1,403.0a0.6,0.5 0 1,0 1.2,0a0.6,0.5 0 1,0 -1.2,0M63.2,371.6a0.6,0.4 0 1,0 1.1,0a0.6,0.4 0 1,0 -1.1,0M67.3,369.9a0.9,0.7 0 1,0 1.7,0a0.9,0.7 0 1,0 -1.7,0M47.5,335.0a0.9,0.7 0 1,0 1.7,0a0.9,0.7 0 1,0 -1.7,0M54.0,332.7a0.6,0.5 0 1,0 1.2,0a0.6,0.5 0 1,0 -1.2,0M59.4,334.4a0.6,0.5 0 1,0 1.3,0a0.6,0.5 0 1,0 -1.3,0M57.5,348.2a0.8,0.6 0 1,0 1.5,0a0.8,0.6 0 1,0 -1.5,0M60.0,347.6a0.9,0.7 0 1,0 1.8,0a0.9,0.7 0 1,0 -1.8,0M65.2,351.6a0.6,0.5 0 1,0 1.2,0a0.6,0.5 0 1,0 -1.2,0M92.9,354.7a0.6,0.4 0 1,0 1.1,0a0.6,0.4 0 1,0 -1.1,0M88.4,352.2a0.9,0.7 0 1,0 1.8,0a0.9,0.7 0 1,0 -1.8,0M94.3,347.9a0.9,0.7 0 1,0 1.8,0a0.9,0.7 0 1,0 -1.8,0M100.7,340.8a0.7,0.6 0 1,0 1.4,0a0.7,0.6 0 1,0 -1.4,0M95.4,349.4a0.7,0.6 0 1,0 1.4,0a0.7,0.6 0 1,0 -1.4,0M110.2,374.8a0.8,0.6 0 1,0 1.6,0a0.8,0.6 0 1,0 -1.6,0M142.1,330.0a0.8,0.7 0 1,0 1.7,0a0.8,0.7 0 1,0 -1.7,0M136.0,361.8a0.7,0.6 0 1,0 1.4,0a0.7,0.6 0 1,0 -1.4,0M142.1,382.8a0.9,0.7 0 1,0 1.7,0a0.9,0.7 0 1,0 -1.7,0M140.8,387.2a0.8,0.6 0 1,0 1.5,0a0.8,0.6 0 1,0 -1.5,0M136.6,381.4a0.8,0.6 0 1,0 1.5,0a0.8,0.6 0 1,0 -1.5,0M139.1,378.6a0.8,0.6 0 1,0 1.6,0a0.8,0.6 0 1,0 -1.6,0M140.3,376.9a0.6,0.5 0 1,0 1.2,0a0.6,0.5 0 1,0 -1.2,0M138.6,367.1a0.7,0.6 0 1,0 1.4,0a0.7,0.6 0 1,0 -1.4,0M140.2,366.5a0.8,0.6 0 1,0 1.6,0a0.8,0.6 0 1,0 -1.6,0M140.0,366.5a0.9,0.7 0 1,0 1.9,0a0.9,0.7 0 1,0 -1.9,0M133.4,375.4a0.9,0.7 0 1,0 1.8,0a0.9,0.7 0 1,0 -1.8,0M135.1,371.4a0.7,0.6 0 1,0 1.4,0a0.7,0.6 0 1,0 -1.4,0M122.5,380.6a0.7,0.5 0 1,0 1.3,0a0.7,0.5 0 1,0 -1.3,0M132.7,379.5a0.8,0.6 0 1,0 1.5,0a0.8,0.6 0 1,0 -1.5,0M130.9,374.2a0.7,0.6 0 1,0 1.5,0a0.7,0.6 0 1,0 -1.5,0M124.9,373.1a0.6,0.5 0 1,0 1.2,0a0.6,0.5 0 1,0 -1.2,0M125.2,369.8a0.8,0.7 0 1,0 1.6,0a0.8,0.7 0 1,0 -1.6,0M128.9,378.8a1.0,0.8 0 1,0 1.9,0a1.0,0.8 0 1,0 -1.9,0M32.1,359.0a0.6,0.5 0 1,0 1.2,0a0.6,0.5 0 1,0 -1.2,0M54.6,391.9a0.8,0.6 0 1,0 1.5,0a0.8,0.6 0 1,0 -1.5,0M50.2,397.5a0.8,0.6 0 1,0 1.5,0a0.8,0.6 0 1,0 -1.5,0M42.2,399.8a0.8,0.6 0 1,0 1.6,0a0.8,0.6 0 1,0 -1.6,0M39.7,395.6a0.7,0.6 0 1,0 1.4,0a0.7,0.6 0 1,0 -1.4,0M37.9,395.4a1.0,0.8 0 1,0 1.9,0a1.0,0.8 0 1,0 -1.9,0M34.9,397.1a0.9,0.7 0 1,0 1.7,0a0.9,0.7 0 1,0 -1.7,0M78.7,404.3a0.9,0.8 0 1,0 1.9,0a0.9,0.8 0 1,0 -1.9,0M48.2,344.1a0.7,0.6 0 1,0 1.5,0a0.7,0.6 0 1,0 -1.5,0M54.8,357.4a0.7,0.5 0 1,0 1.3,0a0.7,0.5 0 1,0 -1.3,0M65.3,356.7a0.9,0.7 0 1,0 1.8,0a0.9,0.7 0 1,0 -1.8,0M63.4,352.8a0.7,0.6 0 1,0 1.5,0a0.7,0.6 0 1,0 -1.5,0M60.8,355.5a0.6,0.4 0 1,0 1.1,0a0.6,0.4 0 1,0 -1.1,0M97.4,371.7a0.9,0.8 0 1,0 1.9,0a0.9,0.8 0 1,0 -1.9,0M98.2,375.6a0.6,0.5 0 1,0 1.1,0a0.6,0.5 0 1,0 -1.1,0M141.0,332.4a0.9,0.7 0 1,0 1.8,0a0.9,0.7 0 1,0 -1.8,0M134.5,338.7a1.0,0.8 0 1,0 2.0,0a1.0,0.8 0 1,0 -2.0,0M138.5,335.5a0.7,0.6 0 1,0 1.4,0a0.7,0.6 0 1,0 -1.4,0M77.6,396.2a0.8,0.6 0 1,0 1.5,0a0.8,0.6 0 1,0 -1.5,0M77.3,396.0a1.0,0.8 0 1,0 1.9,0a1.0,0.8 0 1,0 -1.9,0M74.3,390.0a0.6,0.4 0 1,0 1.1,0a0.6,0.4 0 1,0 -1.1,0M62.6,372.5a0.9,0.7 0 1,0 1.7,0a0.9,0.7 0 1,0 -1.7,0M62.2,373.1a0.9,0.8 0 1,0 1.9,0a0.9,0.8 0 1,0 -1.9,0M59.9,384.2a0.9,0.8 0 1,0 1.9,0a0.9,0.8 0 1,0 -1.9,0M65.0,381.0a0.6,0.5 0 1,0 1.3,0a0.6,0.5 0 1,0 -1.3,0M61.1,387.8a0.7,0.5 0 1,0 1.3,0a0.7,0.5 0 1,0 -1.3,0M56.5,385.3a0.8,0.6 0 1,0 1.6,0a0.8,0.6 0 1,0 -1.6,0M54.3,343.5a0.9,0.7 0 1,0 1.8,0a0.9,0.7 0 1,0 -1.8,0M55.4,339.7a0.8,0.7 0 1,0 1.6,0a0.8,0.7 0 1,0 -1.6,0M53.8,343.6a0.8,0.6 0 1,0 1.6,0a0.8,0.6 0 1,0 -1.6,0M141.3,347.3a0.6,0.5 0 1,0 1.2,0a0.6,0.5 0 1,0 -1.2,0M142.3,353.1a0.7,0.6 0 1,0 1.5,0a0.7,0.6 0 1,0 -1.5,0M140.5,339.4a0.6,0.4 0 1,0 1.1,0a0.6,0.4 0 1,0 -1.1,0M140.3,344.5a0.7,0.5 0 1,0 1.4,0a0.7,0.5 0 1,0 -1.4,0M143.3,342.1a0.9,0.8 0 1,0 1.9,0a0.9,0.8 0 1,0 -1.9,0M142.4,339.3a0.8,0.6 0 1,0 1.5,0a0.8,0.6 0 1,0 -1.5,0" fill="#74409f"/>
<path d="M125.1,314.3a0.9,0.7 0 1,0 1.8,0a0.9,0.7 0 1,0 -1.8,0M144.4,318.1a0.6,0.5 0 1,0 1.1,0a0.6,0.5 0 1,0 -1.1,0M137.3,314.8a0.7,0.6 0 1,0 1.4,0a0.7,0.6 0 1,0 -1.4,0M129.8,310.1a1.0,0.8 0 1,0 2.0,0a1.0,0.8 0 1,0 -2.0,0M120.6,314.1a0.7,0.5 0 1,0 1.3,0a0.7,0.5 0 1,0 -1.3,0M116.4,315.7a0.7,0.6 0 1,0 1.4,0a0.7,0.6 0 1,0 -1.4,0M114.9,311.9a0.7,0.6 0 1,0 1.4,0a0.7,0.6 0 1,0 -1.4,0M136.6,317.8a0.7,0.6 0 1,0 1.4,0a0.7,0.6 0 1,0 -1.4,0M141.1,323.8a1.0,0.8 0 1,0 2.0,0a1.0,0.8 0 1,0 -2.0,0M144.1,404.7a0.6,0.5 0 1,0 1.3,0a0.6,0.5 0 1,0 -1.3,0M27.4,354.2a0.8,0.6 0 1,0 1.6,0a0.8,0.6 0 1,0 -1.6,0M23.2,402.4a1.0,0.8 0 1,0 2.0,0a1.0,0.8 0 1,0 -2.0,0M29.9,403.5a0.7,0.6 0 1,0 1.5,0a0.7,0.6 0 1,0 -1.5,0M23.4,334.5a0.6,0.5 0 1,0 1.2,0a0.6,0.5 0 1,0 -1.2,0M65.1,324.4a1.0,0.8 0 1,0 1.9,0a1.0,0.8 0 1,0 -1.9,0M97.3,311.5a0.6,0.5 0 1,0 1.3,0a0.6,0.5 0 1,0 -1.3,0M108.8,315.7a0.8,0.6 0 1,0 1.5,0a0.8,0.6 0 1,0 -1.5,0M114.4,310.9a0.8,0.7 0 1,0 1.6,0a0.8,0.7 0 1,0 -1.6,0M109.6,311.8a0.7,0.6 0 1,0 1.5,0a0.7,0.6 0 1,0 -1.5,0M82.3,362.2a0.9,0.7 0 1,0 1.8,0a0.9,0.7 0 1,0 -1.8,0M82.2,358.5a0.6,0.4 0 1,0 1.1,0a0.6,0.4 0 1,0 -1.1,0M80.2,359.1a0.7,0.6 0 1,0 1.4,0a0.7,0.6 0 1,0 -1.4,0M119.2,316.3a0.8,0.6 0 1,0 1.6,0a0.8,0.6 0 1,0 -1.6,0M127.8,402.6a1.0,0.8 0 1,0 1.9,0a1.0,0.8 0 1,0 -1.9,0M129.2,408.8a0.9,0.7 0 1,0 1.7,0a0.9,0.7 0 1,0 -1.7,0M131.7,404.2a0.8,0.6 0 1,0 1.6,0a0.8,0.6 0 1,0 -1.6,0M24.5,393.5a0.6,0.5 0 1,0 1.2,0a0.6,0.5 0 1,0 -1.2,0M44.3,319.9a0.9,0.7 0 1,0 1.8,0a0.9,0.7 0 1,0 -1.8,0M42.6,313.7a0.8,0.6 0 1,0 1.5,0a0.8,0.6 0 1,0 -1.5,0M101.7,319.2a0.9,0.7 0 1,0 1.8,0a0.9,0.7 0 1,0 -1.8,0M100.1,318.1a0.8,0.7 0 1,0 1.7,0a0.8,0.7 0 1,0 -1.7,0M110.9,322.0a0.6,0.5 0 1,0 1.2,0a0.6,0.5 0 1,0 -1.2,0M114.3,327.5a0.9,0.8 0 1,0 1.9,0a0.9,0.8 0 1,0 -1.9,0M83.9,360.1a0.6,0.5 0 1,0 1.2,0a0.6,0.5 0 1,0 -1.2,0M93.9,399.0a0.9,0.7 0 1,0 1.8,0a0.9,0.7 0 1,0 -1.8,0M90.0,397.0a0.9,0.7 0 1,0 1.8,0a0.9,0.7 0 1,0 -1.8,0M83.5,379.1a0.7,0.6 0 1,0 1.4,0a0.7,0.6 0 1,0 -1.4,0M82.4,375.2a0.9,0.7 0 1,0 1.7,0a0.9,0.7 0 1,0 -1.7,0M76.9,374.3a0.9,0.7 0 1,0 1.8,0a0.9,0.7 0 1,0 -1.8,0M78.3,375.5a0.7,0.6 0 1,0 1.4,0a0.7,0.6 0 1,0 -1.4,0M81.8,374.4a0.6,0.5 0 1,0 1.2,0a0.6,0.5 0 1,0 -1.2,0M75.0,378.0a0.6,0.4 0 1,0 1.1,0a0.6,0.4 0 1,0 -1.1,0M81.3,365.7a0.8,0.7 0 1,0 1.7,0a0.8,0.7 0 1,0 -1.7,0M74.2,365.2a1.0,0.8 0 1,0 1.9,0a1.0,0.8 0 1,0 -1.9,0M71.8,370.6a0.9,0.7 0 1,0 1.8,0a0.9,0.7 0 1,0 -1.8,0M70.8,369.4a0.7,0.5 0 1,0 1.4,0a0.7,0.5 0 1,0 -1.4,0M76.7,356.9a0.7,0.5 0 1,0 1.3,0a0.7,0.5 0 1,0 -1.3,0M71.5,364.1a0.7,0.5 0 1,0 1.3,0a0.7,0.5 0 1,0 -1.3,0M72.8,358.4a0.8,0.6 0 1,0 1.6,0a0.8,0.6 0 1,0 -1.6,0M143.9,397.8a0.8,0.6 0 1,0 1.5,0a0.8,0.6 0 1,0 -1.5,0M147.4,383.3a1.0,0.8 0 1,0 2.0,0a1.0,0.8 0 1,0 -2.0,0M124.8,400.8a0.8,0.6 0 1,0 1.6,0a0.8,0.6 0 1,0 -1.6,0M123.5,401.1a0.9,0.7 0 1,0 1.7,0a0.9,0.7 0 1,0 -1.7,0M127.5,399.1a0.6,0.5 0 1,0 1.2,0a0.6,0.5 0 1,0 -1.2,0M123.2,400.6a0.8,0.7 0 1,0 1.7,0a0.8,0.7 0 1,0 -1.7,0M42.2,345.5a0.7,0.5 0 1,0 1.4,0a0.7,0.5 0 1,0 -1.4,0M48.3,317.9a0.9,0.8 0 1,0 1.9,0a0.9,0.8 0 1,0 -1.9,0M54.5,324.6a0.9,0.8 0 1,0 1.9,0a0.9,0.8 0 1,0 -1.9,0M58.8,326.9a1.0,0.8 0 1,0 1.9,0a1.0,0.8 0 1,0 -1.9,0M55.4,326.5a1.0,0.8 0 1,0 2.0,0a1.0,0.8 0 1,0 -2.0,0M60.6,318.9a0.8,0.7 0 1,0 1.7,0a0.8,0.7 0 1,0 -1.7,0M57.0,320.8a0.9,0.7 0 1,0 1.8,0a0.9,0.7 0 1,0 -1.8,0M46.4,328.3a0.9,0.7 0 1,0 1.8,0a0.9,0.7 0 1,0 -1.8,0M48.0,326.7a0.9,0.7 0 1,0 1.8,0a0.9,0.7 0 1,0 -1.8,0M49.7,326.5a0.9,0.7 0 1,0 1.8,0a0.9,0.7 0 1,0 -1.8,0M41.5,335.1a0.7,0.5 0 1,0 1.4,0a0.7,0.5 0 1,0 -1.4,0M58.4,331.0a0.7,0.6 0 1,0 1.4,0a0.7,0.6 0 1,0 -1.4,0M49.2,346.5a0.8,0.6 0 1,0 1.5,0a0.8,0.6 0 1,0 -1.5,0M48.0,351.8a0.8,0.6 0 1,0 1.5,0a0.8,0.6 0 1,0 -1.5,0M45.9,344.8a0.8,0.7 0 1,0 1.7,0a0.8,0.7 0 1,0 -1.7,0M62.2,316.2a0.7,0.5 0 1,0 1.3,0a0.7,0.5 0 1,0 -1.3,0M56.0,314.4a0.9,0.7 0 1,0 1.7,0a0.9,0.7 0 1,0 -1.7,0M62.0,333.8a0.6,0.5 0 1,0 1.3,0a0.6,0.5 0 1,0 -1.3,0M64.4,331.9a0.9,0.7 0 1,0 1.7,0a0.9,0.7 0 1,0 -1.7,0M73.7,315.5a1.0,0.8 0 1,0 2.0,0a1.0,0.8 0 1,0 -2.0,0M100.1,337.0a0.8,0.6 0 1,0 1.6,0a0.8,0.6 0 1,0 -1.6,0M101.9,340.3a0.6,0.5 0 1,0 1.2,0a0.6,0.5 0 1,0 -1.2,0M99.6,338.7a0.7,0.6 0 1,0 1.5,0a0.7,0.6 0 1,0 -1.5,0M108.4,359.2a0.6,0.4 0 1,0 1.1,0a0.6,0.4 0 1,0 -1.1,0M107.3,359.3a0.9,0.7 0 1,0 1.9,0a0.9,0.7 0 1,0 -1.9,0M108.4,348.9a0.9,0.7 0 1,0 1.8,0a0.9,0.7 0 1,0 -1.8,0M102.3,358.4a0.7,0.6 0 1,0 1.4,0a0.7,0.6 0 1,0 -1.4,0M102.2,358.3a1.0,0.8 0 1,0 2.0,0a1.0,0.8 0 1,0 -2.0,0M105.3,354.1a0.8,0.7 0 1,0 1.7,0a0.8,0.7 0 1,0 -1.7,0M105.4,349.3a0.8,0.7 0 1,0 1.6,0a0.8,0.7 0 1,0 -1.6,0M87.2,362.3a0.7,0.6 0 1,0 1.4,0a0.7,0.6 0 1,0 -1.4,0M86.3,364.9a0.7,0.6 0 1,0 1.5,0a0.7,0.6 0 1,0 -1.5,0M106.8,370.5a0.9,0.7 0 1,0 1.8,0a0.9,0.7 0 1,0 -1.8,0M106.4,406.0a0.9,0.7 0 1,0 1.8,0a0.9,0.7 0 1,0 -1.8,0M105.7,400.0a0.9,0.7 0 1,0 1.8,0a0.9,0.7 0 1,0 -1.8,0M111.5,400.0a0.7,0.5 0 1,0 1.3,0a0.7,0.5 0 1,0 -1.3,0M101.2,397.4a0.6,0.4 0 1,0 1.1,0a0.6,0.4 0 1,0 -1.1,0M86.1,397.9a0.6,0.5 0 1,0 1.3,0a0.6,0.5 0 1,0 -1.3,0M79.7,405.6a0.9,0.7 0 1,0 1.7,0a0.9,0.7 0 1,0 -1.7,0M88.7,405.7a0.8,0.7 0 1,0 1.6,0a0.8,0.7 0 1,0 -1.6,0M89.4,401.8a0.7,0.6 0 1,0 1.4,0a0.7,0.6 0 1,0 -1.4,0M89.2,402.0a0.8,0.7 0 1,0 1.7,0a0.8,0.7 0 1,0 -1.7,0M78.9,384.3a0.6,0.4 0 1,0 1.1,0a0.6,0.4 0 1,0 -1.1,0M80.9,388.3a0.6,0.5 0 1,0 1.3,0a0.6,0.5 0 1,0 -1.3,0M83.5,388.4a0.6,0.5 0 1,0 1.1,0a0.6,0.5 0 1,0 -1.1,0M79.4,392.9a0.9,0.7 0 1,0 1.9,0a0.9,0.7 0 1,0 -1.9,0M79.7,390.9a0.8,0.7 0 1,0 1.7,0a0.8,0.7 0 1,0 -1.7,0M92.6,383.5a0.7,0.5 0 1,0 1.3,0a0.7,0.5 0 1,0 -1.3,0M88.0,384.0a0.8,0.6 0 1,0 1.6,0a0.8,0.6 0 1,0 -1.6,0M88.1,379.0a0.6,0.5 0 1,0 1.2,0a0.6,0.5 0 1,0 -1.2,0M93.1,383.4a0.8,0.6 0 1,0 1.5,0a0.8,0.6 0 1,0 -1.5,0M78.6,341.4a1.0,0.8 0 1,0 2.0,0a1.0,0.8 0 1,0 -2.0,0M77.6,353.5a0.8,0.7 0 1,0 1.7,0a0.8,0.7 0 1,0 -1.7,0M73.6,350.9a0.9,0.7 0 1,0 1.8,0a0.9,0.7 0 1,0 -1.8,0M117.4,328.7a0.8,0.7 0 1,0 1.7,0a0.8,0.7 0 1,0 -1.7,0M115.4,374.8a0.6,0.5 0 1,0 1.1,0a0.6,0.5 0 1,0 -1.1,0M145.1,376.8a0.6,0.4 0 1,0 1.1,0a0.6,0.4 0 1,0 -1.1,0M148.2,370.6a0.9,0.8 0 1,0 1.9,0a0.9,0.8 0 1,0 -1.9,0M146.1,380.7a1.0,0.8 0 1,0 1.9,0a1.0,0.8 0 1,0 -1.9,0M122.4,405.0a0.9,0.7 0 1,0 1.7,0a0.9,0.7 0 1,0 -1.7,0M117.4,403.6a0.9,0.7 0 1,0 1.7,0a0.9,0.7 0 1,0 -1.7,0M33.1,390.8a0.8,0.6 0 1,0 1.5,0a0.8,0.6 0 1,0 -1.5,0M30.6,395.4a0.8,0.6 0 1,0 1.6,0a0.8,0.6 0 1,0 -1.6,0M60.5,400.9a0.8,0.7 0 1,0 1.6,0a0.8,0.7 0 1,0 -1.6,0M59.4,401.7a1.0,0.8 0 1,0 1.9,0a1.0,0.8 0 1,0 -1.9,0M61.9,404.8a0.7,0.5 0 1,0 1.3,0a0.7,0.5 0 1,0 -1.3,0M54.7,401.5a0.7,0.5 0 1,0 1.3,0a0.7,0.5 0 1,0 -1.3,0M54.8,402.5a0.9,0.7 0 1,0 1.8,0a0.9,0.7 0 1,0 -1.8,0M56.8,397.6a0.7,0.6 0 1,0 1.5,0a0.7,0.6 0 1,0 -1.5,0M68.4,354.9a0.9,0.7 0 1,0 1.9,0a0.9,0.7 0 1,0 -1.9,0M24.7,327.0a0.8,0.6 0 1,0 1.5,0a0.8,0.6 0 1,0 -1.5,0M27.9,322.2a0.7,0.5 0 1,0 1.4,0a0.7,0.5 0 1,0 -1.4,0M28.2,323.7a0.7,0.6 0 1,0 1.4,0a0.7,0.6 0 1,0 -1.4,0M67.7,331.1a0.8,0.7 0 1,0 1.7,0a0.8,0.7 0 1,0 -1.7,0M70.7,327.5a0.9,0.7 0 1,0 1.8,0a0.9,0.7 0 1,0 -1.8,0M115.2,343.7a0.9,0.7 0 1,0 1.8,0a0.9,0.7 0 1,0 -1.8,0M99.8,381.8a1.0,0.8 0 1,0 1.9,0a1.0,0.8 0 1,0 -1.9,0M107.2,395.5a0.7,0.5 0 1,0 1.3,0a0.7,0.5 0 1,0 -1.3,0M114.4,379.3a0.7,0.6 0 1,0 1.5,0a0.7,0.6 0 1,0 -1.5,0M113.3,378.4a0.7,0.6 0 1,0 1.5,0a0.7,0.6 0 1,0 -1.5,0M63.0,343.4a1.0,0.8 0 1,0 1.9,0a1.0,0.8 0 1,0 -1.9,0M63.9,334.7a0.9,0.7 0 1,0 1.8,0a0.9,0.7 0 1,0 -1.8,0M71.1,341.0a0.9,0.7 0 1,0 1.8,0a0.9,0.7 0 1,0 -1.8,0M127.4,338.8a0.8,0.6 0 1,0 1.6,0a0.8,0.6 0 1,0 -1.6,0M122.7,338.7a0.9,0.7 0 1,0 1.7,0a0.9,0.7 0 1,0 -1.7,0M128.7,343.1a0.8,0.6 0 1,0 1.6,0a0.8,0.6 0 1,0 -1.6,0M130.8,337.8a0.6,0.5 0 1,0 1.1,0a0.6,0.5 0 1,0 -1.1,0M120.7,331.6a0.9,0.7 0 1,0 1.8,0a0.9,0.7 0 1,0 -1.8,0M115.1,350.2a0.9,0.7 0 1,0 1.8,0a0.9,0.7 0 1,0 -1.8,0M113.4,354.9a0.8,0.6 0 1,0 1.6,0a0.8,0.6 0 1,0 -1.6,0M115.2,353.2a0.6,0.5 0 1,0 1.2,0a0.6,0.5 0 1,0 -1.2,0M120.6,349.0a0.7,0.6 0 1,0 1.5,0a0.7,0.6 0 1,0 -1.5,0M123.9,346.5a0.7,0.5 0 1,0 1.3,0a0.7,0.5 0 1,0 -1.3,0M119.6,362.1a0.6,0.5 0 1,0 1.1,0a0.6,0.5 0 1,0 -1.1,0M121.5,362.3a0.7,0.6 0 1,0 1.5,0a0.7,0.6 0 1,0 -1.5,0M118.5,357.7a0.6,0.5 0 1,0 1.3,0a0.6,0.5 0 1,0 -1.3,0M132.0,399.1a0.7,0.5 0 1,0 1.3,0a0.7,0.5 0 1,0 -1.3,0M140.2,393.5a0.6,0.4 0 1,0 1.1,0a0.6,0.4 0 1,0 -1.1,0M143.4,398.1a0.7,0.6 0 1,0 1.5,0a0.7,0.6 0 1,0 -1.5,0M137.1,378.9a0.7,0.5 0 1,0 1.4,0a0.7,0.5 0 1,0 -1.4,0M135.2,375.5a0.7,0.6 0 1,0 1.4,0a0.7,0.6 0 1,0 -1.4,0M148.1,395.8a1.0,0.8 0 1,0 1.9,0a1.0,0.8 0 1,0 -1.9,0M30.5,363.1a0.8,0.6 0 1,0 1.5,0a0.8,0.6 0 1,0 -1.5,0M30.7,341.8a0.6,0.5 0 1,0 1.3,0a0.6,0.5 0 1,0 -1.3,0M25.8,342.0a1.0,0.8 0 1,0 1.9,0a1.0,0.8 0 1,0 -1.9,0M29.8,337.8a0.9,0.7 0 1,0 1.8,0a0.9,0.7 0 1,0 -1.8,0M41.5,356.5a0.6,0.5 0 1,0 1.2,0a0.6,0.5 0 1,0 -1.2,0M52.3,400.5a0.6,0.5 0 1,0 1.3,0a0.6,0.5 0 1,0 -1.3,0M49.9,398.0a0.9,0.7 0 1,0 1.7,0a0.9,0.7 0 1,0 -1.7,0M47.9,397.0a1.0,0.8 0 1,0 2.0,0a1.0,0.8 0 1,0 -2.0,0M42.2,405.1a1.0,0.8 0 1,0 2.0,0a1.0,0.8 0 1,0 -2.0,0M31.6,401.5a0.7,0.6 0 1,0 1.4,0a0.7,0.6 0 1,0 -1.4,0M35.8,404.1a0.6,0.5 0 1,0 1.2,0a0.6,0.5 0 1,0 -1.2,0M43.9,385.9a0.6,0.5 0 1,0 1.3,0a0.6,0.5 0 1,0 -1.3,0M48.9,389.2a0.7,0.5 0 1,0 1.3,0a0.7,0.5 0 1,0 -1.3,0M39.2,382.8a0.9,0.7 0 1,0 1.8,0a0.9,0.7 0 1,0 -1.8,0M45.3,381.4a0.9,0.7 0 1,0 1.8,0a0.9,0.7 0 1,0 -1.8,0M48.9,383.3a0.8,0.6 0 1,0 1.5,0a0.8,0.6 0 1,0 -1.5,0M73.2,388.8a0.6,0.5 0 1,0 1.3,0a0.6,0.5 0 1,0 -1.3,0M70.0,385.8a0.9,0.7 0 1,0 1.9,0a0.9,0.7 0 1,0 -1.9,0M76.8,385.1a0.9,0.7 0 1,0 1.8,0a0.9,0.7 0 1,0 -1.8,0M74.7,389.5a0.8,0.6 0 1,0 1.6,0a0.8,0.6 0 1,0 -1.6,0M73.6,379.4a1.0,0.8 0 1,0 1.9,0a1.0,0.8 0 1,0 -1.9,0M66.1,388.6a0.8,0.6 0 1,0 1.5,0a0.8,0.6 0 1,0 -1.5,0M70.1,404.8a0.7,0.5 0 1,0 1.3,0a0.7,0.5 0 1,0 -1.3,0M70.1,399.8a0.9,0.7 0 1,0 1.7,0a0.9,0.7 0 1,0 -1.7,0M52.0,382.0a0.8,0.6 0 1,0 1.5,0a0.8,0.6 0 1,0 -1.5,0M53.2,387.4a1.0,0.8 0 1,0 1.9,0a1.0,0.8 0 1,0 -1.9,0M63.0,365.8a0.6,0.5 0 1,0 1.2,0a0.6,0.5 0 1,0 -1.2,0M47.1,337.3a0.8,0.7 0 1,0 1.7,0a0.8,0.7 0 1,0 -1.7,0M48.1,337.1a0.7,0.6 0 1,0 1.4,0a0.7,0.6 0 1,0 -1.4,0M48.8,336.6a1.0,0.8 0 1,0 1.9,0a1.0,0.8 0 1,0 -1.9,0M49.1,336.5a0.8,0.6 0 1,0 1.6,0a0.8,0.6 0 1,0 -1.6,0M55.7,336.1a0.8,0.7 0 1,0 1.7,0a0.8,0.7 0 1,0 -1.7,0M61.3,339.8a0.8,0.7 0 1,0 1.6,0a0.8,0.7 0 1,0 -1.6,0M62.3,350.8a0.6,0.5 0 1,0 1.2,0a0.6,0.5 0 1,0 -1.2,0M117.0,332.7a0.8,0.7 0 1,0 1.7,0a0.8,0.7 0 1,0 -1.7,0M95.5,350.9a0.6,0.5 0 1,0 1.2,0a0.6,0.5 0 1,0 -1.2,0M94.7,351.7a0.9,0.7 0 1,0 1.8,0a0.9,0.7 0 1,0 -1.8,0M88.1,349.9a0.7,0.6 0 1,0 1.5,0a0.7,0.6 0 1,0 -1.5,0M112.2,384.3a0.7,0.6 0 1,0 1.4,0a0.7,0.6 0 1,0 -1.4,0M108.7,377.4a0.9,0.7 0 1,0 1.8,0a0.9,0.7 0 1,0 -1.8,0M130.9,343.1a0.8,0.7 0 1,0 1.7,0a0.8,0.7 0 1,0 -1.7,0M134.2,343.6a0.7,0.5 0 1,0 1.4,0a0.7,0.5 0 1,0 -1.4,0M148.0,351.4a1.0,0.8 0 1,0 1.9,0a1.0,0.8 0 1,0 -1.9,0M129.7,362.7a0.9,0.7 0 1,0 1.8,0a0.9,0.7 0 1,0 -1.8,0M143.5,390.1a0.8,0.6 0 1,0 1.6,0a0.8,0.6 0 1,0 -1.6,0M146.0,388.7a0.6,0.5 0 1,0 1.2,0a0.6,0.5 0 1,0 -1.2,0M135.7,370.0a1.0,0.8 0 1,0 2.0,0a1.0,0.8 0 1,0 -2.0,0M141.6,371.8a0.7,0.6 0 1,0 1.4,0a0.7,0.6 0 1,0 -1.4,0M137.2,360.7a0.7,0.5 0 1,0 1.3,0a0.7,0.5 0 1,0 -1.3,0M117.7,382.2a0.9,0.7 0 1,0 1.8,0a0.9,0.7 0 1,0 -1.8,0M119.9,378.4a0.9,0.7 0 1,0 1.7,0a0.9,0.7 0 1,0 -1.7,0M130.3,371.5a1.0,0.8 0 1,0 2.0,0a1.0,0.8 0 1,0 -2.0,0M125.7,367.8a0.9,0.7 0 1,0 1.7,0a0.9,0.7 0 1,0 -1.7,0M33.0,377.8a0.9,0.8 0 1,0 1.9,0a0.9,0.8 0 1,0 -1.9,0M53.6,389.0a0.6,0.5 0 1,0 1.3,0a0.6,0.5 0 1,0 -1.3,0M37.0,400.4a0.7,0.6 0 1,0 1.4,0a0.7,0.6 0 1,0 -1.4,0M58.0,389.8a0.8,0.6 0 1,0 1.6,0a0.8,0.6 0 1,0 -1.6,0M49.2,343.4a0.9,0.7 0 1,0 1.8,0a0.9,0.7 0 1,0 -1.8,0M56.5,356.6a0.6,0.5 0 1,0 1.2,0a0.6,0.5 0 1,0 -1.2,0M52.8,358.6a0.6,0.5 0 1,0 1.3,0a0.6,0.5 0 1,0 -1.3,0M65.7,356.5a0.6,0.5 0 1,0 1.2,0a0.6,0.5 0 1,0 -1.2,0M63.0,353.3a0.8,0.7 0 1,0 1.6,0a0.8,0.7 0 1,0 -1.6,0M60.8,355.6a0.7,0.6 0 1,0 1.4,0a0.7,0.6 0 1,0 -1.4,0M60.1,359.1a0.7,0.6 0 1,0 1.4,0a0.7,0.6 0 1,0 -1.4,0M66.3,356.8a0.8,0.7 0 1,0 1.6,0a0.8,0.7 0 1,0 -1.6,0M65.2,360.7a0.9,0.7 0 1,0 1.8,0a0.9,0.7 0 1,0 -1.8,0M59.4,359.3a0.8,0.7 0 1,0 1.7,0a0.8,0.7 0 1,0 -1.7,0M145.0,329.2a0.8,0.7 0 1,0 1.7,0a0.8,0.7 0 1,0 -1.7,0M147.4,331.2a0.9,0.7 0 1,0 1.7,0a0.9,0.7 0 1,0 -1.7,0M141.1,333.2a0.9,0.7 0 1,0 1.9,0a0.9,0.7 0 1,0 -1.9,0M134.2,354.5a0.7,0.6 0 1,0 1.4,0a0.7,0.6 0 1,0 -1.4,0M140.4,358.7a1.0,0.8 0 1,0 1.9,0a1.0,0.8 0 1,0 -1.9,0M74.9,393.7a0.6,0.4 0 1,0 1.1,0a0.6,0.4 0 1,0 -1.1,0M73.7,393.2a0.8,0.6 0 1,0 1.6,0a0.8,0.6 0 1,0 -1.6,0M74.2,394.1a0.6,0.5 0 1,0 1.3,0a0.6,0.5 0 1,0 -1.3,0M77.7,394.3a0.8,0.7 0 1,0 1.7,0a0.8,0.7 0 1,0 -1.7,0M72.0,393.5a0.8,0.6 0 1,0 1.6,0a0.8,0.6 0 1,0 -1.6,0M68.9,376.6a0.9,0.7 0 1,0 1.8,0a0.9,0.7 0 1,0 -1.8,0M70.2,379.4a0.9,0.7 0 1,0 1.7,0a0.9,0.7 0 1,0 -1.7,0M67.7,381.0a0.9,0.7 0 1,0 1.8,0a0.9,0.7 0 1,0 -1.8,0M62.7,379.0a0.7,0.5 0 1,0 1.4,0a0.7,0.5 0 1,0 -1.4,0M62.1,384.2a0.7,0.6 0 1,0 1.5,0a0.7,0.6 0 1,0 -1.5,0M52.8,381.3a0.8,0.6 0 1,0 1.5,0a0.8,0.6 0 1,0 -1.5,0M55.1,378.2a0.7,0.6 0 1,0 1.4,0a0.7,0.6 0 1,0 -1.4,0M137.7,350.7a0.8,0.7 0 1,0 1.7,0a0.8,0.7 0 1,0 -1.7,0M142.5,352.6a0.9,0.7 0 1,0 1.8,0a0.9,0.7 0 1,0 -1.8,0M137.8,353.0a0.8,0.6 0 1,0 1.6,0a0.8,0.6 0 1,0 -1.6,0M138.2,342.1a0.9,0.7 0 1,0 1.9,0a0.9,0.7 0 1,0 -1.9,0M141.4,344.5a0.6,0.5 0 1,0 1.1,0a0.6,0.5 0 1,0 -1.1,0M134.9,343.8a0.9,0.7 0 1,0 1.8,0a0.9,0.7 0 1,0 -1.8,0M144.7,336.4a0.9,0.7 0 1,0 1.8,0a0.9,0.7 0 1,0 -1.8,0M146.4,349.3a0.9,0.7 0 1,0 1.8,0a0.9,0.7 0 1,0 -1.8,0M146.6,343.9a0.9,0.7 0 1,0 1.8,0a0.9,0.7 0 1,0 -1.8,0M147.3,351.0a1.0,0.8 0 1,0 2.0,0a1.0,0.8 0 1,0 -2.0,0M145.0,343.3a0.8,0.7 0 1,0 1.6,0a0.8,0.7 0 1,0 -1.6,0M148.1,339.5a0.9,0.7 0 1,0 1.8,0a0.9,0.7 0 1,0 -1.8,0M149.3,332.9a0.7,0.5 0 1,0 1.3,0a0.7,0.5 0 1,0 -1.3,0" fill="#8450ae"/>
<path d="M148.1,314.1a0.9,0.7 0 1,0 1.8,0a0.9,0.7 0 1,0 -1.8,0M141.9,312.5a0.6,0.5 0 1,0 1.2,0a0.6,0.5 0 1,0 -1.2,0M142.5,318.9a0.8,0.6 0 1,0 1.5,0a0.8,0.6 0 1,0 -1.5,0M129.7,315.3a0.6,0.4 0 1,0 1.1,0a0.6,0.4 0 1,0 -1.1,0M94.3,311.5a0.6,0.5 0 1,0 1.2,0a0.6,0.5 0 1,0 -1.2,0M121.3,312.4a0.7,0.5 0 1,0 1.3,0a0.7,0.5 0 1,0 -1.3,0M148.4,319.4a0.9,0.7 0 1,0 1.8,0a0.9,0.7 0 1,0 -1.8,0M143.0,321.8a0.9,0.7 0 1,0 1.7,0a0.9,0.7 0 1,0 -1.7,0M25.3,341.6a1.0,0.8 0 1,0 2.0,0a1.0,0.8 0 1,0 -2.0,0M98.9,310.7a0.6,0.5 0 1,0 1.3,0a0.6,0.5 0 1,0 -1.3,0M109.8,311.8a0.7,0.5 0 1,0 1.4,0a0.7,0.5 0 1,0 -1.4,0M114.8,316.4a0.8,0.6 0 1,0 1.5,0a0.8,0.6 0 1,0 -1.5,0M77.8,362.4a0.8,0.6 0 1,0 1.6,0a0.8,0.6 0 1,0 -1.6,0M77.4,362.7a0.9,0.7 0 1,0 1.8,0a0.9,0.7 0 1,0 -1.8,0M115.2,319.2a0.8,0.6 0 1,0 1.5,0a0.8,0.6 0 1,0 -1.5,0M125.8,315.8a0.6,0.5 0 1,0 1.2,0a0.6,0.5 0 1,0 -1.2,0M116.3,319.8a0.7,0.5 0 1,0 1.3,0a0.7,0.5 0 1,0 -1.3,0M25.4,399.4a0.7,0.6 0 1,0 1.5,0a0.7,0.6 0 1,0 -1.5,0M23.4,397.3a0.6,0.5 0 1,0 1.2,0a0.6,0.5 0 1,0 -1.2,0M46.4,316.0a0.9,0.8 0 1,0 1.9,0a0.9,0.8 0 1,0 -1.9,0M44.2,314.7a0.6,0.5 0 1,0 1.3,0a0.6,0.5 0 1,0 -1.3,0M45.4,320.9a0.6,0.5 0 1,0 1.2,0a0.6,0.5 0 1,0 -1.2,0M42.8,323.3a1.0,0.8 0 1,0 1.9,0a1.0,0.8 0 1,0 -1.9,0M42.7,326.9a1.0,0.8 0 1,0 2.0,0a1.0,0.8 0 1,0 -2.0,0M43.3,324.6a0.8,0.7 0 1,0 1.6,0a0.8,0.7 0 1,0 -1.6,0M42.4,330.1a0.6,0.5 0 1,0 1.2,0a0.6,0.5 0 1,0 -1.2,0M40.2,332.3a0.6,0.5 0 1,0 1.3,0a0.6,0.5 0 1,0 -1.3,0M39.2,339.2a0.7,0.6 0 1,0 1.5,0a0.7,0.6 0 1,0 -1.5,0M105.2,321.0a0.8,0.7 0 1,0 1.7,0a0.8,0.7 0 1,0 -1.7,0M98.6,317.0a1.0,0.8 0 1,0 1.9,0a1.0,0.8 0 1,0 -1.9,0M109.9,327.5a0.6,0.5 0 1,0 1.3,0a0.6,0.5 0 1,0 -1.3,0M98.6,399.2a0.8,0.7 0 1,0 1.7,0a0.8,0.7 0 1,0 -1.7,0M94.0,401.0a0.6,0.5 0 1,0 1.3,0a0.6,0.5 0 1,0 -1.3,0M96.6,408.5a0.9,0.7 0 1,0 1.7,0a0.9,0.7 0 1,0 -1.7,0M78.1,378.7a0.8,0.6 0 1,0 1.5,0a0.8,0.6 0 1,0 -1.5,0M77.7,379.7a0.8,0.7 0 1,0 1.7,0a0.8,0.7 0 1,0 -1.7,0M87.1,377.8a0.8,0.6 0 1,0 1.6,0a0.8,0.6 0 1,0 -1.6,0M77.8,369.9a0.6,0.5 0 1,0 1.3,0a0.6,0.5 0 1,0 -1.3,0M77.4,370.7a0.8,0.6 0 1,0 1.6,0a0.8,0.6 0 1,0 -1.6,0M74.9,366.1a0.6,0.5 0 1,0 1.2,0a0.6,0.5 0 1,0 -1.2,0M74.9,374.4a0.9,0.7 0 1,0 1.8,0a0.9,0.7 0 1,0 -1.8,0M71.8,372.4a1.0,0.8 0 1,0 1.9,0a1.0,0.8 0 1,0 -1.9,0M74.6,369.4a0.6,0.5 0 1,0 1.3,0a0.6,0.5 0 1,0 -1.3,0M70.0,358.9a1.0,0.8 0 1,0 1.9,0a1.0,0.8 0 1,0 -1.9,0M69.1,359.6a0.9,0.7 0 1,0 1.7,0a0.9,0.7 0 1,0 -1.7,0M72.2,360.4a0.9,0.7 0 1,0 1.7,0a0.9,0.7 0 1,0 -1.7,0M71.6,369.9a0.6,0.5 0 1,0 1.3,0a0.6,0.5 0 1,0 -1.3,0M113.9,368.4a1.0,0.8 0 1,0 2.0,0a1.0,0.8 0 1,0 -2.0,0M115.9,365.5a0.9,0.7 0 1,0 1.8,0a0.9,0.7 0 1,0 -1.8,0M112.2,363.6a0.8,0.7 0 1,0 1.6,0a0.8,0.7 0 1,0 -1.6,0M109.6,365.0a0.7,0.6 0 1,0 1.4,0a0.7,0.6 0 1,0 -1.4,0M104.6,369.5a0.7,0.6 0 1,0 1.4,0a0.7,0.6 0 1,0 -1.4,0M105.1,369.7a0.6,0.5 0 1,0 1.1,0a0.6,0.5 0 1,0 -1.1,0M72.6,359.2a0.7,0.6 0 1,0 1.5,0a0.7,0.6 0 1,0 -1.5,0M148.6,398.3a0.6,0.5 0 1,0 1.3,0a0.6,0.5 0 1,0 -1.3,0M141.1,399.6a1.0,0.8 0 1,0 2.0,0a1.0,0.8 0 1,0 -2.0,0M127.7,401.6a0.7,0.6 0 1,0 1.4,0a0.7,0.6 0 1,0 -1.4,0M27.6,397.7a0.9,0.7 0 1,0 1.8,0a0.9,0.7 0 1,0 -1.8,0M28.3,396.9a0.8,0.7 0 1,0 1.6,0a0.8,0.7 0 1,0 -1.6,0M28.9,388.9a0.8,0.6 0 1,0 1.6,0a0.8,0.6 0 1,0 -1.6,0M48.6,322.2a0.9,0.8 0 1,0 1.9,0a0.9,0.8 0 1,0 -1.9,0M54.2,321.5a1.0,0.8 0 1,0 1.9,0a1.0,0.8 0 1,0 -1.9,0M65.9,326.0a0.9,0.7 0 1,0 1.9,0a0.9,0.7 0 1,0 -1.9,0M50.8,328.1a0.8,0.7 0 1,0 1.6,0a0.8,0.7 0 1,0 -1.6,0M49.0,326.5a0.9,0.7 0 1,0 1.7,0a0.9,0.7 0 1,0 -1.7,0M43.8,325.5a0.8,0.7 0 1,0 1.7,0a0.8,0.7 0 1,0 -1.7,0M49.6,325.7a0.9,0.7 0 1,0 1.9,0a0.9,0.7 0 1,0 -1.9,0M53.9,325.6a1.0,0.8 0 1,0 2.0,0a1.0,0.8 0 1,0 -2.0,0M52.6,332.1a0.7,0.6 0 1,0 1.4,0a0.7,0.6 0 1,0 -1.4,0M45.1,351.7a0.9,0.7 0 1,0 1.8,0a0.9,0.7 0 1,0 -1.8,0M25.8,337.4a0.8,0.6 0 1,0 1.6,0a0.8,0.6 0 1,0 -1.6,0M27.6,331.3a0.7,0.6 0 1,0 1.4,0a0.7,0.6 0 1,0 -1.4,0M32.4,334.0a0.8,0.6 0 1,0 1.6,0a0.8,0.6 0 1,0 -1.6,0M28.4,337.0a0.6,0.5 0 1,0 1.1,0a0.6,0.5 0 1,0 -1.1,0M38.5,314.8a0.8,0.6 0 1,0 1.6,0a0.8,0.6 0 1,0 -1.6,0M73.1,311.9a0.7,0.6 0 1,0 1.4,0a0.7,0.6 0 1,0 -1.4,0M64.4,311.9a0.9,0.7 0 1,0 1.7,0a0.9,0.7 0 1,0 -1.7,0M105.6,328.9a0.8,0.7 0 1,0 1.7,0a0.8,0.7 0 1,0 -1.7,0M108.4,330.7a0.7,0.6 0 1,0 1.4,0a0.7,0.6 0 1,0 -1.4,0M105.5,333.3a0.7,0.6 0 1,0 1.4,0a0.7,0.6 0 1,0 -1.4,0M103.7,334.6a1.0,0.8 0 1,0 1.9,0a1.0,0.8 0 1,0 -1.9,0M109.3,328.4a0.8,0.7 0 1,0 1.6,0a0.8,0.7 0 1,0 -1.6,0M97.8,336.7a0.9,0.7 0 1,0 1.8,0a0.9,0.7 0 1,0 -1.8,0M104.5,335.2a0.7,0.6 0 1,0 1.4,0a0.7,0.6 0 1,0 -1.4,0M108.5,348.8a0.6,0.5 0 1,0 1.3,0a0.6,0.5 0 1,0 -1.3,0M103.7,369.7a0.9,0.7 0 1,0 1.8,0a0.9,0.7 0 1,0 -1.8,0M83.9,349.4a0.7,0.6 0 1,0 1.4,0a0.7,0.6 0 1,0 -1.4,0M85.9,349.4a0.7,0.6 0 1,0 1.5,0a0.7,0.6 0 1,0 -1.5,0M88.7,345.6a0.7,0.5 0 1,0 1.3,0a0.7,0.5 0 1,0 -1.3,0M107.4,370.6a0.8,0.7 0 1,0 1.7,0a0.8,0.7 0 1,0 -1.7,0M111.0,373.1a0.8,0.6 0 1,0 1.6,0a0.8,0.6 0 1,0 -1.6,0M103.7,402.5a0.6,0.5 0 1,0 1.3,0a0.6,0.5 0 1,0 -1.3,0M108.8,404.0a0.7,0.5 0 1,0 1.3,0a0.7,0.5 0 1,0 -1.3,0M104.1,397.0a0.8,0.7 0 1,0 1.7,0a0.8,0.7 0 1,0 -1.7,0M105.6,396.3a0.7,0.6 0 1,0 1.4,0a0.7,0.6 0 1,0 -1.4,0M83.2,395.7a0.9,0.7 0 1,0 1.8,0a0.9,0.7 0 1,0 -1.8,0M82.6,406.3a0.7,0.5 0 1,0 1.3,0a0.7,0.5 0 1,0 -1.3,0M78.7,386.2a0.7,0.6 0 1,0 1.4,0a0.7,0.6 0 1,0 -1.4,0M91.0,383.0a0.8,0.7 0 1,0 1.7,0a0.8,0.7 0 1,0 -1.7,0M89.4,382.5a0.7,0.6 0 1,0 1.5,0a0.7,0.6 0 1,0 -1.5,0M92.8,383.3a1.0,0.8 0 1,0 1.9,0a1.0,0.8 0 1,0 -1.9,0M93.7,378.3a0.8,0.7 0 1,0 1.6,0a0.8,0.7 0 1,0 -1.6,0M73.0,341.1a0.7,0.6 0 1,0 1.4,0a0.7,0.6 0 1,0 -1.4,0M74.4,350.0a0.6,0.5 0 1,0 1.2,0a0.6,0.5 0 1,0 -1.2,0M68.0,348.2a1.0,0.8 0 1,0 2.0,0a1.0,0.8 0 1,0 -2.0,0M141.0,324.6a0.6,0.5 0 1,0 1.3,0a0.6,0.5 0 1,0 -1.3,0M120.7,370.4a0.8,0.7 0 1,0 1.6,0a0.8,0.7 0 1,0 -1.6,0M112.1,374.1a0.9,0.7 0 1,0 1.9,0a0.9,0.7 0 1,0 -1.9,0M116.9,364.9a0.8,0.7 0 1,0 1.7,0a0.8,0.7 0 1,0 -1.7,0M118.4,364.8a0.6,0.4 0 1,0 1.1,0a0.6,0.4 0 1,0 -1.1,0M120.9,367.1a0.7,0.6 0 1,0 1.4,0a0.7,0.6 0 1,0 -1.4,0M120.9,369.4a0.9,0.7 0 1,0 1.8,0a0.9,0.7 0 1,0 -1.8,0M117.6,398.2a0.8,0.6 0 1,0 1.6,0a0.8,0.6 0 1,0 -1.6,0M113.5,400.1a0.7,0.5 0 1,0 1.3,0a0.7,0.5 0 1,0 -1.3,0M119.7,405.0a0.7,0.6 0 1,0 1.5,0a0.7,0.6 0 1,0 -1.5,0M118.3,404.6a0.8,0.6 0 1,0 1.6,0a0.8,0.6 0 1,0 -1.6,0M116.4,405.4a0.7,0.5 0 1,0 1.4,0a0.7,0.5 0 1,0 -1.4,0M119.9,400.7a0.7,0.6 0 1,0 1.5,0a0.7,0.6 0 1,0 -1.5,0M25.5,377.5a0.9,0.7 0 1,0 1.7,0a0.9,0.7 0 1,0 -1.7,0M25.2,377.1a0.9,0.7 0 1,0 1.8,0a0.9,0.7 0 1,0 -1.8,0M26.2,349.0a0.9,0.7 0 1,0 1.8,0a0.9,0.7 0 1,0 -1.8,0M25.3,342.1a0.9,0.7 0 1,0 1.8,0a0.9,0.7 0 1,0 -1.8,0M32.3,390.2a0.7,0.5 0 1,0 1.3,0a0.7,0.5 0 1,0 -1.3,0M30.7,389.1a0.7,0.5 0 1,0 1.4,0a0.7,0.5 0 1,0 -1.4,0M31.0,395.0a0.6,0.5 0 1,0 1.1,0a0.6,0.5 0 1,0 -1.1,0M67.8,404.8a1.0,0.8 0 1,0 2.0,0a1.0,0.8 0 1,0 -2.0,0M55.9,402.6a0.6,0.5 0 1,0 1.2,0a0.6,0.5 0 1,0 -1.2,0M60.0,400.9a1.0,0.8 0 1,0 2.0,0a1.0,0.8 0 1,0 -2.0,0M58.5,408.1a0.8,0.7 0 1,0 1.7,0a0.8,0.7 0 1,0 -1.7,0M37.2,394.6a0.8,0.7 0 1,0 1.7,0a0.8,0.7 0 1,0 -1.7,0M42.2,341.2a0.8,0.6 0 1,0 1.5,0a0.8,0.6 0 1,0 -1.5,0M70.8,354.8a0.9,0.7 0 1,0 1.7,0a0.9,0.7 0 1,0 -1.7,0M68.7,353.5a0.9,0.7 0 1,0 1.8,0a0.9,0.7 0 1,0 -1.8,0M55.3,348.7a0.7,0.6 0 1,0 1.4,0a0.7,0.6 0 1,0 -1.4,0M55.6,349.5a0.9,0.7 0 1,0 1.8,0a0.9,0.7 0 1,0 -1.8,0M52.5,354.1a0.8,0.7 0 1,0 1.7,0a0.8,0.7 0 1,0 -1.7,0M25.3,327.8a1.0,0.8 0 1,0 2.0,0a1.0,0.8 0 1,0 -2.0,0M22.8,323.7a0.6,0.5 0 1,0 1.2,0a0.6,0.5 0 1,0 -1.2,0M23.2,318.4a0.7,0.6 0 1,0 1.5,0a0.7,0.6 0 1,0 -1.5,0M24.6,323.1a0.7,0.6 0 1,0 1.4,0a0.7,0.6 0 1,0 -1.4,0M64.4,331.8a1.0,0.8 0 1,0 2.0,0a1.0,0.8 0 1,0 -2.0,0M118.2,346.1a0.9,0.7 0 1,0 1.8,0a0.9,0.7 0 1,0 -1.8,0M111.6,339.8a0.8,0.7 0 1,0 1.6,0a0.8,0.7 0 1,0 -1.6,0M107.9,342.0a0.8,0.6 0 1,0 1.5,0a0.8,0.6 0 1,0 -1.5,0M106.8,343.7a0.9,0.7 0 1,0 1.9,0a0.9,0.7 0 1,0 -1.9,0M98.2,354.2a0.7,0.6 0 1,0 1.5,0a0.7,0.6 0 1,0 -1.5,0M104.9,349.3a0.6,0.4 0 1,0 1.1,0a0.6,0.4 0 1,0 -1.1,0M99.6,381.7a0.9,0.7 0 1,0 1.8,0a0.9,0.7 0 1,0 -1.8,0M99.8,395.4a0.9,0.7 0 1,0 1.8,0a0.9,0.7 0 1,0 -1.8,0M62.7,338.7a0.8,0.6 0 1,0 1.6,0a0.8,0.6 0 1,0 -1.6,0M67.4,341.3a0.8,0.7 0 1,0 1.7,0a0.8,0.7 0 1,0 -1.7,0M69.2,340.5a0.8,0.6 0 1,0 1.5,0a0.8,0.6 0 1,0 -1.5,0M69.7,344.9a0.6,0.5 0 1,0 1.1,0a0.6,0.5 0 1,0 -1.1,0M123.7,344.5a0.7,0.6 0 1,0 1.5,0a0.7,0.6 0 1,0 -1.5,0M115.3,351.8a0.6,0.5 0 1,0 1.2,0a0.6,0.5 0 1,0 -1.2,0M121.0,353.3a0.8,0.7 0 1,0 1.7,0a0.8,0.7 0 1,0 -1.7,0M121.5,353.5a0.7,0.6 0 1,0 1.4,0a0.7,0.6 0 1,0 -1.4,0M119.8,347.4a0.8,0.6 0 1,0 1.5,0a0.8,0.6 0 1,0 -1.5,0M117.9,350.9a0.9,0.7 0 1,0 1.9,0a0.9,0.7 0 1,0 -1.9,0M115.7,354.6a0.9,0.8 0 1,0 1.9,0a0.9,0.8 0 1,0 -1.9,0M118.2,355.1a1.0,0.8 0 1,0 1.9,0a1.0,0.8 0 1,0 -1.9,0M118.4,361.0a0.6,0.5 0 1,0 1.1,0a0.6,0.5 0 1,0 -1.1,0M118.4,359.5a0.7,0.6 0 1,0 1.5,0a0.7,0.6 0 1,0 -1.5,0M121.3,365.1a0.7,0.6 0 1,0 1.4,0a0.7,0.6 0 1,0 -1.4,0M117.2,360.5a0.6,0.5 0 1,0 1.2,0a0.6,0.5 0 1,0 -1.2,0M133.3,400.4a0.7,0.6 0 1,0 1.4,0a0.7,0.6 0 1,0 -1.4,0M136.5,397.3a0.9,0.7 0 1,0 1.8,0a0.9,0.7 0 1,0 -1.8,0M140.5,364.9a1.0,0.8 0 1,0 1.9,0a1.0,0.8 0 1,0 -1.9,0M149.7,368.8a0.7,0.5 0 1,0 1.4,0a0.7,0.5 0 1,0 -1.4,0M134.2,379.8a0.7,0.5 0 1,0 1.3,0a0.7,0.5 0 1,0 -1.3,0M137.7,377.4a0.7,0.5 0 1,0 1.3,0a0.7,0.5 0 1,0 -1.3,0M23.9,367.0a0.6,0.5 0 1,0 1.2,0a0.6,0.5 0 1,0 -1.2,0M26.5,363.8a0.9,0.7 0 1,0 1.7,0a0.9,0.7 0 1,0 -1.7,0M24.9,369.5a0.7,0.6 0 1,0 1.5,0a0.7,0.6 0 1,0 -1.5,0M25.3,376.9a0.8,0.6 0 1,0 1.6,0a0.8,0.6 0 1,0 -1.6,0M27.8,358.5a1.0,0.8 0 1,0 1.9,0a1.0,0.8 0 1,0 -1.9,0M31.7,339.8a0.9,0.7 0 1,0 1.8,0a0.9,0.7 0 1,0 -1.8,0M36.7,343.3a0.6,0.5 0 1,0 1.2,0a0.6,0.5 0 1,0 -1.2,0M33.9,339.3a0.8,0.6 0 1,0 1.5,0a0.8,0.6 0 1,0 -1.5,0M50.8,404.0a0.8,0.7 0 1,0 1.7,0a0.8,0.7 0 1,0 -1.7,0M50.1,400.5a0.9,0.7 0 1,0 1.8,0a0.9,0.7 0 1,0 -1.8,0M46.0,403.7a0.9,0.7 0 1,0 1.8,0a0.9,0.7 0 1,0 -1.8,0M32.0,402.2a0.7,0.5 0 1,0 1.4,0a0.7,0.5 0 1,0 -1.4,0M44.2,386.0a0.8,0.6 0 1,0 1.6,0a0.8,0.6 0 1,0 -1.6,0M45.7,393.0a0.8,0.6 0 1,0 1.5,0a0.8,0.6 0 1,0 -1.5,0M44.6,392.7a0.8,0.7 0 1,0 1.6,0a0.8,0.7 0 1,0 -1.6,0M42.9,380.2a0.9,0.7 0 1,0 1.8,0a0.9,0.7 0 1,0 -1.8,0M76.7,385.0a0.9,0.8 0 1,0 1.9,0a0.9,0.8 0 1,0 -1.9,0M71.1,387.3a0.8,0.6 0 1,0 1.6,0a0.8,0.6 0 1,0 -1.6,0M69.7,384.2a0.9,0.7 0 1,0 1.7,0a0.9,0.7 0 1,0 -1.7,0M74.9,389.5a0.6,0.5 0 1,0 1.2,0a0.6,0.5 0 1,0 -1.2,0M69.7,390.2a0.7,0.6 0 1,0 1.5,0a0.7,0.6 0 1,0 -1.5,0M70.1,400.1a0.6,0.5 0 1,0 1.2,0a0.6,0.5 0 1,0 -1.2,0M66.7,395.5a0.6,0.5 0 1,0 1.3,0a0.6,0.5 0 1,0 -1.3,0M72.3,401.8a0.9,0.7 0 1,0 1.9,0a0.9,0.7 0 1,0 -1.9,0M51.3,380.0a0.7,0.6 0 1,0 1.5,0a0.7,0.6 0 1,0 -1.5,0M51.2,383.0a0.9,0.7 0 1,0 1.8,0a0.9,0.7 0 1,0 -1.8,0M66.6,369.3a1.0,0.8 0 1,0 2.0,0a1.0,0.8 0 1,0 -2.0,0M67.3,369.1a0.8,0.6 0 1,0 1.6,0a0.8,0.6 0 1,0 -1.6,0M58.7,336.4a0.6,0.5 0 1,0 1.2,0a0.6,0.5 0 1,0 -1.2,0M55.6,351.4a0.8,0.6 0 1,0 1.5,0a0.8,0.6 0 1,0 -1.5,0M64.3,349.6a0.7,0.6 0 1,0 1.5,0a0.7,0.6 0 1,0 -1.5,0M63.4,351.3a0.8,0.6 0 1,0 1.6,0a0.8,0.6 0 1,0 -1.6,0M117.6,338.0a0.6,0.5 0 1,0 1.2,0a0.6,0.5 0 1,0 -1.2,0M119.9,335.6a0.9,0.7 0 1,0 1.8,0a0.9,0.7 0 1,0 -1.8,0M117.1,332.6a1.0,0.8 0 1,0 2.0,0a1.0,0.8 0 1,0 -2.0,0M113.1,337.7a0.8,0.6 0 1,0 1.6,0a0.8,0.6 0 1,0 -1.6,0M114.7,329.9a0.7,0.6 0 1,0 1.5,0a0.7,0.6 0 1,0 -1.5,0M88.5,354.3a0.8,0.6 0 1,0 1.5,0a0.8,0.6 0 1,0 -1.5,0M95.7,341.3a0.6,0.5 0 1,0 1.2,0a0.6,0.5 0 1,0 -1.2,0M93.7,383.2a0.6,0.5 0 1,0 1.3,0a0.6,0.5 0 1,0 -1.3,0M96.1,384.7a0.6,0.5 0 1,0 1.2,0a0.6,0.5 0 1,0 -1.2,0M95.9,379.8a0.8,0.6 0 1,0 1.5,0a0.8,0.6 0 1,0 -1.5,0M109.8,377.8a0.8,0.6 0 1,0 1.6,0a0.8,0.6 0 1,0 -1.6,0M114.0,381.9a1.0,0.8 0 1,0 1.9,0a1.0,0.8 0 1,0 -1.9,0M101.1,374.3a0.9,0.7 0 1,0 1.8,0a0.9,0.7 0 1,0 -1.8,0M102.9,379.9a1.0,0.8 0 1,0 1.9,0a1.0,0.8 0 1,0 -1.9,0M147.5,323.9a0.8,0.6 0 1,0 1.6,0a0.8,0.6 0 1,0 -1.6,0M149.5,324.9a0.7,0.5 0 1,0 1.4,0a0.7,0.5 0 1,0 -1.4,0M138.7,331.5a0.7,0.6 0 1,0 1.4,0a0.7,0.6 0 1,0 -1.4,0M143.8,328.7a0.8,0.6 0 1,0 1.6,0a0.8,0.6 0 1,0 -1.6,0M134.6,348.2a0.7,0.5 0 1,0 1.4,0a0.7,0.5 0 1,0 -1.4,0M125.0,358.6a0.7,0.6 0 1,0 1.5,0a0.7,0.6 0 1,0 -1.5,0M125.1,358.9a0.7,0.6 0 1,0 1.5,0a0.7,0.6 0 1,0 -1.5,0M139.1,389.3a0.9,0.7 0 1,0 1.8,0a0.9,0.7 0 1,0 -1.8,0M143.8,392.5a0.9,0.7 0 1,0 1.8,0a0.9,0.7 0 1,0 -1.8,0M144.1,392.2a0.6,0.5 0 1,0 1.1,0a0.6,0.5 0 1,0 -1.1,0M147.8,385.5a0.6,0.4 0 1,0 1.1,0a0.6,0.4 0 1,0 -1.1,0M138.2,383.9a0.6,0.5 0 1,0 1.3,0a0.6,0.5 0 1,0 -1.3,0M138.4,378.1a0.9,0.7 0 1,0 1.8,0a0.9,0.7 0 1,0 -1.8,0M138.2,377.9a0.8,0.7 0 1,0 1.6,0a0.8,0.7 0 1,0 -1.6,0M145.9,381.0a0.8,0.6 0 1,0 1.6,0a0.8,0.6 0 1,0 -1.6,0M135.1,366.2a0.9,0.7 0 1,0 1.8,0a0.9,0.7 0 1,0 -1.8,0M130.0,364.5a0.7,0.5 0 1,0 1.3,0a0.7,0.5 0 1,0 -1.3,0M132.3,367.8a0.8,0.7 0 1,0 1.6,0a0.8,0.7 0 1,0 -1.6,0M127.9,368.9a0.9,0.7 0 1,0 1.9,0a0.9,0.7 0 1,0 -1.9,0M124.2,375.6a0.9,0.7 0 1,0 1.8,0a0.9,0.7 0 1,0 -1.8,0M54.5,396.4a0.9,0.7 0 1,0 1.7,0a0.9,0.7 0 1,0 -1.7,0M43.4,399.2a0.9,0.7 0 1,0 1.7,0a0.9,0.7 0 1,0 -1.7,0M40.4,401.5a1.0,0.8 0 1,0 1.9,0a1.0,0.8 0 1,0 -1.9,0M36.7,400.9a0.7,0.6 0 1,0 1.4,0a0.7,0.6 0 1,0 -1.4,0M30.9,395.9a0.8,0.6 0 1,0 1.6,0a0.8,0.6 0 1,0 -1.6,0M73.2,407.0a0.7,0.6 0 1,0 1.5,0a0.7,0.6 0 1,0 -1.5,0M78.2,402.3a0.7,0.5 0 1,0 1.3,0a0.7,0.5 0 1,0 -1.3,0M78.4,402.2a0.6,0.5 0 1,0 1.1,0a0.6,0.5 0 1,0 -1.1,0M57.2,353.7a0.7,0.5 0 1,0 1.3,0a0.7,0.5 0 1,0 -1.3,0M59.5,355.6a0.7,0.5 0 1,0 1.3,0a0.7,0.5 0 1,0 -1.3,0M57.8,360.4a1.0,0.8 0 1,0 1.9,0a1.0,0.8 0 1,0 -1.9,0M92.0,372.1a0.9,0.7 0 1,0 1.7,0a0.9,0.7 0 1,0 -1.7,0M92.8,373.6a0.6,0.5 0 1,0 1.2,0a0.6,0.5 0 1,0 -1.2,0M92.0,373.8a0.8,0.7 0 1,0 1.7,0a0.8,0.7 0 1,0 -1.7,0M93.0,376.0a0.9,0.7 0 1,0 1.8,0a0.9,0.7 0 1,0 -1.8,0M146.3,331.3a0.9,0.7 0 1,0 1.7,0a0.9,0.7 0 1,0 -1.7,0M146.9,331.3a0.7,0.6 0 1,0 1.4,0a0.7,0.6 0 1,0 -1.4,0M146.6,354.9a0.8,0.6 0 1,0 1.6,0a0.8,0.6 0 1,0 -1.6,0M141.2,357.8a0.8,0.7 0 1,0 1.7,0a0.8,0.7 0 1,0 -1.7,0M73.6,398.0a0.8,0.6 0 1,0 1.6,0a0.8,0.6 0 1,0 -1.6,0M73.8,392.4a0.7,0.6 0 1,0 1.4,0a0.7,0.6 0 1,0 -1.4,0M74.9,399.5a0.8,0.6 0 1,0 1.6,0a0.8,0.6 0 1,0 -1.6,0M68.3,376.1a0.8,0.6 0 1,0 1.5,0a0.8,0.6 0 1,0 -1.5,0M66.2,379.6a0.6,0.5 0 1,0 1.2,0a0.6,0.5 0 1,0 -1.2,0M69.6,375.1a0.7,0.5 0 1,0 1.4,0a0.7,0.5 0 1,0 -1.4,0M68.9,375.6a0.9,0.7 0 1,0 1.8,0a0.9,0.7 0 1,0 -1.8,0M68.9,382.1a0.9,0.7 0 1,0 1.9,0a0.9,0.7 0 1,0 -1.9,0M63.8,382.7a0.6,0.5 0 1,0 1.3,0a0.6,0.5 0 1,0 -1.3,0M59.5,378.8a0.7,0.5 0 1,0 1.3,0a0.7,0.5 0 1,0 -1.3,0M59.8,378.6a0.7,0.6 0 1,0 1.4,0a0.7,0.6 0 1,0 -1.4,0M57.0,381.7a0.7,0.6 0 1,0 1.5,0a0.7,0.6 0 1,0 -1.5,0M57.3,380.2a0.8,0.6 0 1,0 1.5,0a0.8,0.6 0 1,0 -1.5,0M65.7,385.1a0.7,0.6 0 1,0 1.4,0a0.7,0.6 0 1,0 -1.4,0M56.2,385.9a0.8,0.7 0 1,0 1.7,0a0.8,0.7 0 1,0 -1.7,0M60.8,372.3a0.9,0.8 0 1,0 1.9,0a0.9,0.8 0 1,0 -1.9,0M56.8,379.1a0.7,0.6 0 1,0 1.5,0a0.7,0.6 0 1,0 -1.5,0M55.8,381.2a0.7,0.6 0 1,0 1.5,0a0.7,0.6 0 1,0 -1.5,0M52.0,377.8a0.7,0.6 0 1,0 1.5,0a0.7,0.6 0 1,0 -1.5,0M51.3,379.0a1.0,0.8 0 1,0 2.0,0a1.0,0.8 0 1,0 -2.0,0M58.0,342.5a0.6,0.5 0 1,0 1.3,0a0.6,0.5 0 1,0 -1.3,0M57.6,344.2a1.0,0.8 0 1,0 2.0,0a1.0,0.8 0 1,0 -2.0,0M60.9,339.9a0.9,0.7 0 1,0 1.7,0a0.9,0.7 0 1,0 -1.7,0M54.6,338.8a0.8,0.6 0 1,0 1.6,0a0.8,0.6 0 1,0 -1.6,0M138.8,346.6a1.0,0.8 0 1,0 1.9,0a1.0,0.8 0 1,0 -1.9,0M137.8,341.5a0.6,0.5 0 1,0 1.2,0a0.6,0.5 0 1,0 -1.2,0M147.0,350.1a0.6,0.5 0 1,0 1.3,0a0.6,0.5 0 1,0 -1.3,0M152.2,347.1a0.9,0.7 0 1,0 1.8,0a0.9,0.7 0 1,0 -1.8,0M152.0,346.2a1.0,0.8 0 1,0 1.9,0a1.0,0.8 0 1,0 -1.9,0M148.9,332.9a0.9,0.7 0 1,0 1.9,0a0.9,0.7 0 1,0 -1.9,0M149.2,335.6a0.7,0.6 0 1,0 1.4,0a0.7,0.6 0 1,0 -1.4,0" fill="#a04aa6"/>
<path d="M24.2,404.2a0.6,0.5 0 1,0 1.2,0a0.6,0.5 0 1,0 -1.2,0M127.5,312.9a0.9,0.7 0 1,0 1.9,0a0.9,0.7 0 1,0 -1.9,0M127.5,312.4a0.8,0.7 0 1,0 1.7,0a0.8,0.7 0 1,0 -1.7,0M149.0,318.1a0.6,0.5 0 1,0 1.3,0a0.6,0.5 0 1,0 -1.3,0M143.9,311.3a0.9,0.7 0 1,0 1.8,0a0.9,0.7 0 1,0 -1.8,0M138.9,312.0a0.7,0.6 0 1,0 1.5,0a0.7,0.6 0 1,0 -1.5,0M137.3,314.8a0.7,0.5 0 1,0 1.3,0a0.7,0.5 0 1,0 -1.3,0M128.5,311.7a0.9,0.7 0 1,0 1.8,0a0.9,0.7 0 1,0 -1.8,0M133.4,316.1a1.0,0.8 0 1,0 2.0,0a1.0,0.8 0 1,0 -2.0,0M136.0,310.9a0.7,0.5 0 1,0 1.4,0a0.7,0.5 0 1,0 -1.4,0M133.9,316.0a0.9,0.7 0 1,0 1.9,0a0.9,0.7 0 1,0 -1.9,0M142.7,319.7a0.7,0.5 0 1,0 1.3,0a0.7,0.5 0 1,0 -1.3,0M139.3,402.4a0.6,0.5 0 1,0 1.2,0a0.6,0.5 0 1,0 -1.2,0M103.8,314.9a0.9,0.7 0 1,0 1.7,0a0.9,0.7 0 1,0 -1.7,0M105.5,310.6a0.7,0.6 0 1,0 1.5,0a0.7,0.6 0 1,0 -1.5,0M103.7,310.4a0.8,0.6 0 1,0 1.5,0a0.8,0.6 0 1,0 -1.5,0M78.3,363.8a0.7,0.6 0 1,0 1.5,0a0.7,0.6 0 1,0 -1.5,0M119.2,323.3a0.8,0.7 0 1,0 1.6,0a0.8,0.7 0 1,0 -1.6,0M129.7,402.0a0.8,0.6 0 1,0 1.6,0a0.8,0.6 0 1,0 -1.6,0M128.0,407.7a0.8,0.7 0 1,0 1.6,0a0.8,0.7 0 1,0 -1.6,0M128.5,408.4a1.0,0.8 0 1,0 1.9,0a1.0,0.8 0 1,0 -1.9,0M26.3,388.4a0.9,0.7 0 1,0 1.8,0a0.9,0.7 0 1,0 -1.8,0M25.7,400.3a1.0,0.8 0 1,0 1.9,0a1.0,0.8 0 1,0 -1.9,0M23.6,394.5a1.0,0.8 0 1,0 2.0,0a1.0,0.8 0 1,0 -2.0,0M26.5,313.0a0.6,0.5 0 1,0 1.1,0a0.6,0.5 0 1,0 -1.1,0M48.9,314.9a0.7,0.6 0 1,0 1.5,0a0.7,0.6 0 1,0 -1.5,0M44.9,320.4a0.8,0.6 0 1,0 1.5,0a0.8,0.6 0 1,0 -1.5,0M42.5,320.9a0.7,0.6 0 1,0 1.4,0a0.7,0.6 0 1,0 -1.4,0M40.2,331.8a0.9,0.7 0 1,0 1.8,0a0.9,0.7 0 1,0 -1.8,0M40.2,332.6a0.7,0.6 0 1,0 1.5,0a0.7,0.6 0 1,0 -1.5,0M99.6,320.1a1.0,0.8 0 1,0 1.9,0a1.0,0.8 0 1,0 -1.9,0M98.4,322.3a0.9,0.7 0 1,0 1.7,0a0.9,0.7 0 1,0 -1.7,0M107.1,323.5a0.9,0.7 0 1,0 1.8,0a0.9,0.7 0 1,0 -1.8,0M83.9,354.2a0.7,0.5 0 1,0 1.4,0a0.7,0.5 0 1,0 -1.4,0M82.0,357.6a0.8,0.6 0 1,0 1.5,0a0.8,0.6 0 1,0 -1.5,0M97.0,397.6a0.6,0.5 0 1,0 1.1,0a0.6,0.5 0 1,0 -1.1,0M98.4,405.5a0.9,0.7 0 1,0 1.8,0a0.9,0.7 0 1,0 -1.8,0M98.3,406.2a0.7,0.6 0 1,0 1.4,0a0.7,0.6 0 1,0 -1.4,0M78.4,369.3a0.9,0.7 0 1,0 1.8,0a0.9,0.7 0 1,0 -1.8,0M79.7,370.2a0.8,0.7 0 1,0 1.7,0a0.8,0.7 0 1,0 -1.7,0M80.7,371.4a0.7,0.5 0 1,0 1.3,0a0.7,0.5 0 1,0 -1.3,0M77.5,370.8a0.6,0.5 0 1,0 1.3,0a0.6,0.5 0 1,0 -1.3,0M74.7,378.4a0.8,0.6 0 1,0 1.6,0a0.8,0.6 0 1,0 -1.6,0M76.7,369.5a1.0,0.8 0 1,0 2.0,0a1.0,0.8 0 1,0 -2.0,0M76.3,369.2a0.8,0.6 0 1,0 1.6,0a0.8,0.6 0 1,0 -1.6,0M73.1,369.9a0.6,0.5 0 1,0 1.2,0a0.6,0.5 0 1,0 -1.2,0M71.7,363.8a0.9,0.7 0 1,0 1.8,0a0.9,0.7 0 1,0 -1.8,0M103.8,364.4a0.6,0.5 0 1,0 1.3,0a0.6,0.5 0 1,0 -1.3,0M108.5,369.6a0.6,0.5 0 1,0 1.3,0a0.6,0.5 0 1,0 -1.3,0M42.8,349.0a0.9,0.7 0 1,0 1.8,0a0.9,0.7 0 1,0 -1.8,0M26.3,393.3a0.7,0.5 0 1,0 1.3,0a0.7,0.5 0 1,0 -1.3,0M27.1,391.3a0.9,0.7 0 1,0 1.8,0a0.9,0.7 0 1,0 -1.8,0M29.5,396.9a0.6,0.5 0 1,0 1.2,0a0.6,0.5 0 1,0 -1.2,0M31.1,401.8a0.8,0.6 0 1,0 1.5,0a0.8,0.6 0 1,0 -1.5,0M47.5,320.8a0.8,0.6 0 1,0 1.6,0a0.8,0.6 0 1,0 -1.6,0M51.3,322.4a0.8,0.7 0 1,0 1.7,0a0.8,0.7 0 1,0 -1.7,0M53.4,320.6a0.8,0.6 0 1,0 1.5,0a0.8,0.6 0 1,0 -1.5,0M46.0,321.4a0.6,0.5 0 1,0 1.2,0a0.6,0.5 0 1,0 -1.2,0M59.2,324.4a0.9,0.7 0 1,0 1.8,0a0.9,0.7 0 1,0 -1.8,0M47.1,332.0a1.0,0.8 0 1,0 1.9,0a1.0,0.8 0 1,0 -1.9,0M50.4,326.9a1.0,0.8 0 1,0 2.0,0a1.0,0.8 0 1,0 -2.0,0M43.0,330.1a0.9,0.8 0 1,0 1.9,0a0.9,0.8 0 1,0 -1.9,0M43.5,350.9a0.6,0.5 0 1,0 1.2,0a0.6,0.5 0 1,0 -1.2,0M48.0,345.1a0.9,0.7 0 1,0 1.8,0a0.9,0.7 0 1,0 -1.8,0M28.2,336.2a0.6,0.5 0 1,0 1.3,0a0.6,0.5 0 1,0 -1.3,0M61.7,316.3a0.7,0.6 0 1,0 1.4,0a0.7,0.6 0 1,0 -1.4,0M57.9,312.6a0.8,0.6 0 1,0 1.6,0a0.8,0.6 0 1,0 -1.6,0M64.7,316.2a0.8,0.6 0 1,0 1.6,0a0.8,0.6 0 1,0 -1.6,0M63.7,330.1a1.0,0.8 0 1,0 2.0,0a1.0,0.8 0 1,0 -2.0,0M59.9,333.5a0.9,0.7 0 1,0 1.9,0a0.9,0.7 0 1,0 -1.9,0M68.3,315.2a0.8,0.6 0 1,0 1.6,0a0.8,0.6 0 1,0 -1.6,0M107.9,329.7a0.6,0.5 0 1,0 1.2,0a0.6,0.5 0 1,0 -1.2,0M98.8,333.6a0.8,0.7 0 1,0 1.6,0a0.8,0.7 0 1,0 -1.6,0M97.6,336.5a1.0,0.8 0 1,0 2.0,0a1.0,0.8 0 1,0 -2.0,0M113.6,361.4a0.6,0.5 0 1,0 1.1,0a0.6,0.5 0 1,0 -1.1,0M111.1,344.4a0.8,0.6 0 1,0 1.5,0a0.8,0.6 0 1,0 -1.5,0M113.2,349.4a0.9,0.7 0 1,0 1.7,0a0.9,0.7 0 1,0 -1.7,0M110.7,351.4a0.7,0.6 0 1,0 1.5,0a0.7,0.6 0 1,0 -1.5,0M84.0,366.2a0.6,0.5 0 1,0 1.2,0a0.6,0.5 0 1,0 -1.2,0M106.2,372.9a0.7,0.6 0 1,0 1.5,0a0.7,0.6 0 1,0 -1.5,0M101.7,371.6a0.7,0.6 0 1,0 1.4,0a0.7,0.6 0 1,0 -1.4,0M104.4,375.3a0.8,0.7 0 1,0 1.7,0a0.8,0.7 0 1,0 -1.7,0M99.5,401.6a1.0,0.8 0 1,0 2.0,0a1.0,0.8 0 1,0 -2.0,0M99.7,397.2a1.0,0.8 0 1,0 1.9,0a1.0,0.8 0 1,0 -1.9,0M87.0,402.2a0.6,0.5 0 1,0 1.3,0a0.6,0.5 0 1,0 -1.3,0M83.8,401.3a1.0,0.8 0 1,0 1.9,0a1.0,0.8 0 1,0 -1.9,0M77.4,382.0a0.9,0.7 0 1,0 1.7,0a0.9,0.7 0 1,0 -1.7,0M79.7,388.9a0.8,0.7 0 1,0 1.7,0a0.8,0.7 0 1,0 -1.7,0M94.4,378.6a0.9,0.7 0 1,0 1.8,0a0.9,0.7 0 1,0 -1.8,0M87.7,378.6a0.7,0.6 0 1,0 1.4,0a0.7,0.6 0 1,0 -1.4,0M75.7,337.8a1.0,0.8 0 1,0 2.0,0a1.0,0.8 0 1,0 -2.0,0M73.5,351.7a0.8,0.7 0 1,0 1.7,0a0.8,0.7 0 1,0 -1.7,0M77.9,347.9a0.9,0.7 0 1,0 1.9,0a0.9,0.7 0 1,0 -1.9,0M73.8,351.2a0.6,0.5 0 1,0 1.3,0a0.6,0.5 0 1,0 -1.3,0M78.7,347.5a0.6,0.5 0 1,0 1.2,0a0.6,0.5 0 1,0 -1.2,0M73.2,346.2a0.8,0.6 0 1,0 1.5,0a0.8,0.6 0 1,0 -1.5,0M147.7,359.7a0.9,0.8 0 1,0 1.9,0a0.9,0.8 0 1,0 -1.9,0M148.9,365.2a0.6,0.5 0 1,0 1.2,0a0.6,0.5 0 1,0 -1.2,0M148.1,364.0a0.9,0.7 0 1,0 1.7,0a0.9,0.7 0 1,0 -1.7,0M118.2,396.5a0.9,0.7 0 1,0 1.8,0a0.9,0.7 0 1,0 -1.8,0M122.5,399.7a0.7,0.6 0 1,0 1.4,0a0.7,0.6 0 1,0 -1.4,0M114.1,394.8a0.8,0.6 0 1,0 1.5,0a0.8,0.6 0 1,0 -1.5,0M25.8,357.2a0.8,0.6 0 1,0 1.6,0a0.8,0.6 0 1,0 -1.6,0M26.8,384.0a0.6,0.5 0 1,0 1.2,0a0.6,0.5 0 1,0 -1.2,0M26.0,344.4a0.6,0.5 0 1,0 1.2,0a0.6,0.5 0 1,0 -1.2,0M25.5,342.8a0.7,0.6 0 1,0 1.5,0a0.7,0.6 0 1,0 -1.5,0M29.9,395.6a0.7,0.5 0 1,0 1.3,0a0.7,0.5 0 1,0 -1.3,0M64.7,402.8a0.6,0.5 0 1,0 1.1,0a0.6,0.5 0 1,0 -1.1,0M60.1,401.0a0.9,0.7 0 1,0 1.8,0a0.9,0.7 0 1,0 -1.8,0M69.8,391.4a0.9,0.7 0 1,0 1.7,0a0.9,0.7 0 1,0 -1.7,0M65.9,389.9a0.6,0.5 0 1,0 1.2,0a0.6,0.5 0 1,0 -1.2,0M58.9,399.2a0.9,0.7 0 1,0 1.8,0a0.9,0.7 0 1,0 -1.8,0M65.1,397.4a0.6,0.5 0 1,0 1.2,0a0.6,0.5 0 1,0 -1.2,0M47.7,344.7a0.9,0.7 0 1,0 1.8,0a0.9,0.7 0 1,0 -1.8,0M22.7,317.0a0.8,0.6 0 1,0 1.5,0a0.8,0.6 0 1,0 -1.5,0M22.5,323.8a0.7,0.5 0 1,0 1.3,0a0.7,0.5 0 1,0 -1.3,0M68.3,332.7a1.0,0.8 0 1,0 2.0,0a1.0,0.8 0 1,0 -2.0,0M71.6,335.0a0.6,0.5 0 1,0 1.3,0a0.6,0.5 0 1,0 -1.3,0M70.9,327.6a0.6,0.5 0 1,0 1.2,0a0.6,0.5 0 1,0 -1.2,0M72.5,334.9a1.0,0.8 0 1,0 2.0,0a1.0,0.8 0 1,0 -2.0,0M106.5,337.4a0.7,0.6 0 1,0 1.5,0a0.7,0.6 0 1,0 -1.5,0M109.4,341.2a0.8,0.6 0 1,0 1.6,0a0.8,0.6 0 1,0 -1.6,0M109.5,336.3a0.6,0.5 0 1,0 1.2,0a0.6,0.5 0 1,0 -1.2,0M104.1,343.4a0.7,0.5 0 1,0 1.3,0a0.7,0.5 0 1,0 -1.3,0M112.7,343.6a0.8,0.7 0 1,0 1.6,0a0.8,0.7 0 1,0 -1.6,0M100.1,352.0a1.0,0.8 0 1,0 2.0,0a1.0,0.8 0 1,0 -2.0,0M86.7,372.4a0.7,0.6 0 1,0 1.4,0a0.7,0.6 0 1,0 -1.4,0M86.7,371.1a0.9,0.7 0 1,0 1.9,0a0.9,0.7 0 1,0 -1.9,0M86.5,369.0a0.6,0.5 0 1,0 1.2,0a0.6,0.5 0 1,0 -1.2,0M86.4,369.8a0.7,0.5 0 1,0 1.3,0a0.7,0.5 0 1,0 -1.3,0M112.0,393.8a1.0,0.8 0 1,0 1.9,0a1.0,0.8 0 1,0 -1.9,0M110.2,392.5a0.9,0.7 0 1,0 1.8,0a0.9,0.7 0 1,0 -1.8,0M67.8,341.2a0.7,0.6 0 1,0 1.4,0a0.7,0.6 0 1,0 -1.4,0M67.8,337.5a0.6,0.5 0 1,0 1.2,0a0.6,0.5 0 1,0 -1.2,0M130.5,341.8a0.9,0.7 0 1,0 1.8,0a0.9,0.7 0 1,0 -1.8,0M130.1,343.0a0.6,0.5 0 1,0 1.2,0a0.6,0.5 0 1,0 -1.2,0M123.2,340.8a0.9,0.7 0 1,0 1.7,0a0.9,0.7 0 1,0 -1.7,0M115.8,349.1a0.9,0.7 0 1,0 1.8,0a0.9,0.7 0 1,0 -1.8,0M114.0,342.6a0.8,0.6 0 1,0 1.6,0a0.8,0.6 0 1,0 -1.6,0M120.3,351.8a0.6,0.5 0 1,0 1.2,0a0.6,0.5 0 1,0 -1.2,0M116.7,355.4a0.8,0.6 0 1,0 1.6,0a0.8,0.6 0 1,0 -1.6,0M124.6,358.6a0.7,0.6 0 1,0 1.5,0a0.7,0.6 0 1,0 -1.5,0M135.1,402.2a0.6,0.5 0 1,0 1.2,0a0.6,0.5 0 1,0 -1.2,0M135.7,399.1a0.8,0.7 0 1,0 1.7,0a0.8,0.7 0 1,0 -1.7,0M142.2,363.3a0.8,0.6 0 1,0 1.6,0a0.8,0.6 0 1,0 -1.6,0M143.3,362.4a0.9,0.7 0 1,0 1.8,0a0.9,0.7 0 1,0 -1.8,0M140.5,365.0a0.9,0.8 0 1,0 1.9,0a0.9,0.8 0 1,0 -1.9,0M116.3,382.6a0.6,0.5 0 1,0 1.2,0a0.6,0.5 0 1,0 -1.2,0M148.2,391.6a0.8,0.6 0 1,0 1.5,0a0.8,0.6 0 1,0 -1.5,0M146.8,393.7a1.0,0.8 0 1,0 2.0,0a1.0,0.8 0 1,0 -2.0,0M27.8,369.3a0.9,0.7 0 1,0 1.7,0a0.9,0.7 0 1,0 -1.7,0M24.4,368.9a0.6,0.5 0 1,0 1.2,0a0.6,0.5 0 1,0 -1.2,0M28.0,374.9a0.7,0.5 0 1,0 1.3,0a0.7,0.5 0 1,0 -1.3,0M31.7,386.3a0.7,0.6 0 1,0 1.4,0a0.7,0.6 0 1,0 -1.4,0M31.9,385.2a0.8,0.7 0 1,0 1.7,0a0.8,0.7 0 1,0 -1.7,0M36.0,344.1a0.6,0.5 0 1,0 1.3,0a0.6,0.5 0 1,0 -1.3,0M35.2,343.0a0.9,0.7 0 1,0 1.8,0a0.9,0.7 0 1,0 -1.8,0M30.4,340.4a0.7,0.5 0 1,0 1.3,0a0.7,0.5 0 1,0 -1.3,0M30.4,340.0a0.7,0.5 0 1,0 1.3,0a0.7,0.5 0 1,0 -1.3,0M48.8,404.6a1.0,0.8 0 1,0 1.9,0a1.0,0.8 0 1,0 -1.9,0M48.6,405.2a0.6,0.5 0 1,0 1.2,0a0.6,0.5 0 1,0 -1.2,0M44.4,398.6a0.8,0.6 0 1,0 1.5,0a0.8,0.6 0 1,0 -1.5,0M46.4,397.1a0.8,0.6 0 1,0 1.6,0a0.8,0.6 0 1,0 -1.6,0M43.8,400.2a0.9,0.7 0 1,0 1.8,0a0.9,0.7 0 1,0 -1.8,0M44.5,402.1a0.9,0.7 0 1,0 1.8,0a0.9,0.7 0 1,0 -1.8,0M39.4,404.5a0.8,0.7 0 1,0 1.7,0a0.8,0.7 0 1,0 -1.7,0M44.0,386.0a0.7,0.6 0 1,0 1.4,0a0.7,0.6 0 1,0 -1.4,0M46.3,386.9a0.8,0.7 0 1,0 1.7,0a0.8,0.7 0 1,0 -1.7,0M45.8,380.9a0.6,0.5 0 1,0 1.2,0a0.6,0.5 0 1,0 -1.2,0M69.5,400.0a1.0,0.8 0 1,0 2.0,0a1.0,0.8 0 1,0 -2.0,0M47.6,379.0a0.6,0.5 0 1,0 1.2,0a0.6,0.5 0 1,0 -1.2,0M53.9,386.0a1.0,0.8 0 1,0 2.0,0a1.0,0.8 0 1,0 -2.0,0M68.1,367.1a0.6,0.5 0 1,0 1.2,0a0.6,0.5 0 1,0 -1.2,0M69.2,368.9a0.8,0.6 0 1,0 1.5,0a0.8,0.6 0 1,0 -1.5,0M69.7,369.0a0.7,0.6 0 1,0 1.4,0a0.7,0.6 0 1,0 -1.4,0M70.0,374.8a0.6,0.5 0 1,0 1.3,0a0.6,0.5 0 1,0 -1.3,0M71.8,373.4a0.7,0.6 0 1,0 1.4,0a0.7,0.6 0 1,0 -1.4,0M68.0,370.9a0.7,0.5 0 1,0 1.3,0a0.7,0.5 0 1,0 -1.3,0M47.3,333.7a0.9,0.7 0 1,0 1.8,0a0.9,0.7 0 1,0 -1.8,0M58.9,334.9a0.6,0.5 0 1,0 1.2,0a0.6,0.5 0 1,0 -1.2,0M60.3,344.7a0.7,0.6 0 1,0 1.5,0a0.7,0.6 0 1,0 -1.5,0M66.3,351.5a0.8,0.7 0 1,0 1.7,0a0.8,0.7 0 1,0 -1.7,0M113.5,335.4a0.9,0.7 0 1,0 1.8,0a0.9,0.7 0 1,0 -1.8,0M117.4,338.6a0.6,0.5 0 1,0 1.2,0a0.6,0.5 0 1,0 -1.2,0M95.8,351.8a0.7,0.5 0 1,0 1.4,0a0.7,0.5 0 1,0 -1.4,0M91.1,353.6a0.8,0.7 0 1,0 1.6,0a0.8,0.7 0 1,0 -1.6,0M89.3,354.0a0.7,0.6 0 1,0 1.5,0a0.7,0.6 0 1,0 -1.5,0M91.5,343.7a0.8,0.7 0 1,0 1.6,0a0.8,0.7 0 1,0 -1.6,0M99.8,341.3a1.0,0.8 0 1,0 2.0,0a1.0,0.8 0 1,0 -2.0,0M102.8,346.5a0.6,0.5 0 1,0 1.2,0a0.6,0.5 0 1,0 -1.2,0M106.5,376.7a0.8,0.6 0 1,0 1.6,0a0.8,0.6 0 1,0 -1.6,0M134.2,347.5a0.9,0.7 0 1,0 1.8,0a0.9,0.7 0 1,0 -1.8,0M134.0,343.5a0.9,0.7 0 1,0 1.8,0a0.9,0.7 0 1,0 -1.8,0M128.3,363.7a0.6,0.5 0 1,0 1.1,0a0.6,0.5 0 1,0 -1.1,0M124.9,358.6a0.9,0.7 0 1,0 1.8,0a0.9,0.7 0 1,0 -1.8,0M130.8,362.0a0.8,0.6 0 1,0 1.5,0a0.8,0.6 0 1,0 -1.5,0M147.6,386.1a0.7,0.5 0 1,0 1.4,0a0.7,0.5 0 1,0 -1.4,0M139.7,388.3a0.9,0.7 0 1,0 1.8,0a0.9,0.7 0 1,0 -1.8,0M136.7,382.1a0.9,0.7 0 1,0 1.8,0a0.9,0.7 0 1,0 -1.8,0M146.2,385.8a0.6,0.5 0 1,0 1.2,0a0.6,0.5 0 1,0 -1.2,0M139.3,372.0a0.7,0.5 0 1,0 1.4,0a0.7,0.5 0 1,0 -1.4,0M132.9,379.5a0.8,0.6 0 1,0 1.5,0a0.8,0.6 0 1,0 -1.5,0M128.7,368.8a0.9,0.8 0 1,0 1.9,0a0.9,0.8 0 1,0 -1.9,0M131.0,373.6a0.9,0.8 0 1,0 1.9,0a0.9,0.8 0 1,0 -1.9,0M123.1,380.2a0.6,0.5 0 1,0 1.3,0a0.6,0.5 0 1,0 -1.3,0M34.3,378.9a0.8,0.7 0 1,0 1.7,0a0.8,0.7 0 1,0 -1.7,0M31.5,358.1a0.7,0.5 0 1,0 1.4,0a0.7,0.5 0 1,0 -1.4,0M53.8,396.6a0.9,0.7 0 1,0 1.8,0a0.9,0.7 0 1,0 -1.8,0M45.9,393.8a0.8,0.7 0 1,0 1.6,0a0.8,0.7 0 1,0 -1.6,0M49.7,393.1a0.6,0.5 0 1,0 1.3,0a0.6,0.5 0 1,0 -1.3,0M41.0,396.7a1.0,0.8 0 1,0 2.0,0a1.0,0.8 0 1,0 -2.0,0M41.2,402.8a0.7,0.6 0 1,0 1.4,0a0.7,0.6 0 1,0 -1.4,0M42.3,393.9a0.9,0.7 0 1,0 1.8,0a0.9,0.7 0 1,0 -1.8,0M37.7,395.1a1.0,0.8 0 1,0 2.0,0a1.0,0.8 0 1,0 -2.0,0M32.4,401.1a0.8,0.6 0 1,0 1.6,0a0.8,0.6 0 1,0 -1.6,0M72.8,401.7a1.0,0.8 0 1,0 2.0,0a1.0,0.8 0 1,0 -2.0,0M75.6,401.9a0.9,0.7 0 1,0 1.9,0a0.9,0.7 0 1,0 -1.9,0M79.5,401.9a1.0,0.8 0 1,0 1.9,0a1.0,0.8 0 1,0 -1.9,0M48.8,342.5a0.8,0.7 0 1,0 1.7,0a0.8,0.7 0 1,0 -1.7,0M54.4,346.5a0.6,0.4 0 1,0 1.1,0a0.6,0.4 0 1,0 -1.1,0M52.9,339.5a0.7,0.6 0 1,0 1.4,0a0.7,0.6 0 1,0 -1.4,0M55.5,357.1a0.7,0.6 0 1,0 1.5,0a0.7,0.6 0 1,0 -1.5,0M95.0,373.2a0.6,0.5 0 1,0 1.3,0a0.6,0.5 0 1,0 -1.3,0M98.1,371.5a0.8,0.6 0 1,0 1.5,0a0.8,0.6 0 1,0 -1.5,0M134.5,340.3a0.6,0.5 0 1,0 1.2,0a0.6,0.5 0 1,0 -1.2,0M137.2,334.7a0.9,0.7 0 1,0 1.8,0a0.9,0.7 0 1,0 -1.8,0M136.9,355.2a0.7,0.6 0 1,0 1.4,0a0.7,0.6 0 1,0 -1.4,0M77.7,396.9a0.7,0.5 0 1,0 1.3,0a0.7,0.5 0 1,0 -1.3,0M73.8,393.2a0.7,0.5 0 1,0 1.3,0a0.7,0.5 0 1,0 -1.3,0M74.1,398.3a0.7,0.5 0 1,0 1.3,0a0.7,0.5 0 1,0 -1.3,0M78.2,397.7a0.8,0.6 0 1,0 1.5,0a0.8,0.6 0 1,0 -1.5,0M70.8,397.7a0.9,0.7 0 1,0 1.7,0a0.9,0.7 0 1,0 -1.7,0M62.5,373.7a0.6,0.5 0 1,0 1.2,0a0.6,0.5 0 1,0 -1.2,0M63.7,380.1a0.7,0.6 0 1,0 1.4,0a0.7,0.6 0 1,0 -1.4,0M57.2,380.9a0.6,0.5 0 1,0 1.2,0a0.6,0.5 0 1,0 -1.2,0M64.8,381.0a0.8,0.7 0 1,0 1.7,0a0.8,0.7 0 1,0 -1.7,0M55.0,339.3a0.7,0.6 0 1,0 1.4,0a0.7,0.6 0 1,0 -1.4,0M56.1,337.4a0.6,0.5 0 1,0 1.2,0a0.6,0.5 0 1,0 -1.2,0M138.2,342.0a0.9,0.7 0 1,0 1.8,0a0.9,0.7 0 1,0 -1.8,0M140.1,345.4a0.9,0.7 0 1,0 1.7,0a0.9,0.7 0 1,0 -1.7,0M148.1,351.2a0.7,0.6 0 1,0 1.4,0a0.7,0.6 0 1,0 -1.4,0M145.9,337.9a0.9,0.8 0 1,0 1.9,0a0.9,0.8 0 1,0 -1.9,0M148.7,341.4a0.6,0.5 0 1,0 1.2,0a0.6,0.5 0 1,0 -1.2,0M149.5,333.4a0.6,0.5 0 1,0 1.3,0a0.6,0.5 0 1,0 -1.3,0" fill="#663a99"/>
</g>
<rect x="29.3" y="398.3" width="14.7" height="2.0" fill="#000"/>
</g>
<g clip-path="url(#ch)">
<rect x="197.1" y="313" width="121.8" height="89.5" fill="url(#hg)"/>
<path d="M245,350 C260,344 280,340 300,338 C310,337 316,334 320,333 L320,344 C305,347 290,348 275,352 C262,356 252,355 245,353 Z" fill="#c79ac6" opacity="0.5"/>
<path d="M221,358 C226,357 233,357 236,360 C237,368 238,376 244,382 L230,384 C222,384 218,382 216,378 C220,374 221,366 221,358 Z" fill="#c8a3cc" opacity="0.45"/>
<path d="M197,360 L205,366 L208,378 C212,381 218,381 221,376 L218,386 L197,388 Z" fill="#cbb0d3" opacity="0.4"/>
<g filter="url(#bl1)">
<path d="M196.0,332.2Q196.6,332.9 197.3,334.7M194.2,346.7Q196.0,344.9 196.2,343.5M199.3,347.1Q197.9,346.9 196.9,347.4M229.0,362.1Q228.1,360.4 226.4,359.8M224.2,368.8Q224.3,366.9 224.9,364.8M223.8,362.4Q223.8,362.9 224.2,364.3M219.2,353.5Q219.4,354.5 220.7,354.2M220.2,359.6Q220.1,359.5 220.9,359.2M319.4,345.5Q319.2,344.8 318.8,342.9M308.1,312.0Q308.4,311.5 309.1,312.1M291.4,311.1Q292.9,311.8 295.7,313.1M220.0,382.5Q220.8,382.7 222.7,383.4M198.0,324.8Q197.1,324.8 197.5,325.7M197.2,385.6Q197.3,383.3 198.0,381.3M222.3,370.3Q223.3,369.5 224.2,368.8M220.1,366.1Q219.7,364.7 218.4,364.8M217.9,356.9Q217.5,357.3 217.3,357.2M249.7,316.6Q249.8,316.0 251.3,314.7M261.8,311.1Q261.4,313.7 261.8,315.7M198.8,314.4Q198.7,313.5 197.4,312.1M310.3,319.5Q309.8,318.6 309.3,319.1M294.9,318.0Q294.7,318.8 295.8,319.2M294.9,318.0Q295.1,317.3 296.4,315.4M301.6,321.3Q299.9,321.3 299.8,319.7M322.0,340.9Q321.3,338.5 320.0,337.0M315.5,347.2Q315.3,346.7 316.0,345.2M266.5,314.7Q267.8,315.8 270.3,315.8M291.9,315.1Q292.1,317.6 293.6,319.2M293.2,323.6Q293.8,323.0 293.1,323.1M290.6,339.6Q291.8,341.3 291.6,341.7M316.1,386.9Q315.0,388.1 312.9,388.7M279.2,335.0Q279.7,336.7 279.8,337.2M284.4,340.1Q285.2,339.9 284.8,338.1M286.0,341.7Q285.8,341.0 284.4,340.1M279.1,333.0Q277.4,331.9 276.6,332.1M279.8,337.2Q277.4,336.9 274.8,337.7M275.1,401.3Q275.7,399.4 276.5,398.8M232.3,369.7Q233.4,370.2 234.2,371.9M250.8,399.1Q249.4,398.3 249.2,398.6M248.8,394.6Q250.4,394.7 251.5,394.3M257.1,394.9Q256.9,396.8 258.1,397.4M221.2,403.5Q220.2,401.6 219.1,400.4M219.8,388.6Q220.0,388.7 219.1,389.8M241.3,402.9Q239.7,403.9 237.9,404.0M237.9,404.0Q237.2,403.9 237.3,402.8M196.6,394.7Q196.7,394.0 197.1,394.1M208.2,370.7Q207.2,368.9 205.5,366.8M249.3,316.1Q249.2,319.1 247.7,320.5M226.3,354.0Q227.1,353.9 228.3,353.7M209.0,352.7Q209.8,353.5 209.1,354.7M318.7,309.9Q319.5,312.4 321.1,315.6M310.6,331.2Q311.0,331.2 312.5,330.3M314.6,323.7Q315.4,325.3 316.1,325.6M291.4,311.1Q290.1,311.8 289.4,312.6M289.4,312.6Q288.2,312.1 288.2,312.1M288.2,312.1Q286.9,312.7 285.7,313.6M278.3,319.7Q280.6,320.6 281.6,321.5M283.7,322.3Q282.8,321.9 282.8,321.7M243.5,334.8Q243.7,337.3 243.2,338.3M310.3,402.9Q309.6,403.3 307.4,405.2M273.3,394.8Q272.5,394.8 271.8,395.5M285.1,386.6Q283.9,387.6 282.7,389.6M228.8,395.4Q230.9,395.2 232.7,394.3M246.1,390.3Q247.6,389.4 249.2,390.1M255.0,384.7Q253.1,387.4 252.4,388.9M243.8,389.1Q244.0,386.6 245.1,385.4M208.2,399.5Q209.6,400.8 212.2,402.2M205.2,404.5Q206.2,404.0 205.7,402.7M232.4,400.5Q232.0,400.7 231.6,400.2M222.0,373.4Q223.4,374.4 226.1,374.3M224.1,380.0Q225.6,378.8 227.6,376.7M232.3,369.7Q230.3,370.6 228.6,371.7M228.6,371.7Q229.6,373.3 231.7,374.7M201.7,377.9Q198.4,376.3 196.4,375.0M199.6,361.5Q199.3,361.7 200.2,360.9M229.5,315.7Q230.2,314.8 230.5,314.8M239.2,333.4Q239.2,331.3 239.8,330.2M252.8,353.3Q252.9,351.8 254.1,349.1M246.6,311.3Q244.7,311.5 242.0,310.9M232.9,310.4Q234.8,311.3 236.5,311.6M293.3,334.9Q293.1,337.0 294.3,337.7M306.0,319.9Q304.5,320.9 304.6,322.6M279.1,333.0Q278.9,332.0 279.8,330.1M262.6,321.8Q264.3,322.4 266.0,321.7M251.1,337.2Q251.4,338.9 250.2,341.0M310.1,387.6Q308.4,387.6 307.8,389.1M307.8,389.1Q308.8,389.5 308.4,391.2M313.0,397.9Q312.2,396.4 310.8,394.5M310.8,394.5Q308.2,394.4 306.9,395.7M276.2,347.6Q275.6,348.2 275.2,347.6M277.3,341.8Q276.4,345.2 276.2,347.6M261.2,402.9Q261.4,403.5 261.5,403.0M251.4,402.2Q252.2,403.4 254.5,404.4M245.4,399.1Q245.6,398.8 246.3,399.5M205.6,389.1Q207.6,389.4 208.2,390.4M216.1,394.5Q215.4,394.0 215.3,392.0M216.8,390.0Q215.4,390.9 215.3,392.0M201.7,377.9Q201.1,377.8 201.5,377.4M202.0,371.5Q202.5,372.3 202.2,372.9M202.2,372.9Q205.5,373.3 207.9,372.8M239.4,391.2Q238.4,392.2 236.9,392.5M232.5,391.0Q234.1,391.2 235.9,391.7M242.2,394.4Q240.0,392.5 239.4,391.2M232.2,384.3Q232.8,384.0 232.7,382.4M197.6,353.2Q198.0,353.3 198.2,353.8M204.8,356.4Q204.7,357.0 203.6,356.9M219.6,317.2Q220.2,317.5 219.6,317.6M245.4,349.8Q243.2,349.7 241.3,350.7M245.3,345.0Q245.4,346.1 245.2,346.7M230.8,320.4Q231.2,320.5 233.2,319.5M206.0,332.4Q203.4,332.4 200.7,332.5M210.9,329.9Q210.9,329.5 211.8,327.7M211.8,326.9Q209.5,325.0 208.2,324.6M287.9,326.7Q289.1,327.9 289.7,328.4M284.0,326.7Q284.6,326.7 284.9,327.8M289.0,323.6Q288.3,324.9 287.9,326.7M271.5,321.6Q270.3,323.3 267.5,323.7M256.8,329.0Q256.5,328.1 256.6,326.6M245.3,345.0Q247.1,345.3 250.3,345.5M257.9,340.9Q257.8,340.3 258.6,339.7M258.2,347.7Q259.0,347.5 258.7,348.0M254.1,349.1Q252.8,347.6 252.6,346.9M266.0,350.1Q267.6,350.3 268.2,349.8M211.4,389.7Q210.8,389.7 211.7,388.8M211.7,388.8Q212.7,387.5 213.9,387.3M216.1,385.2Q216.0,384.6 214.6,385.2M202.3,378.1Q202.4,380.6 203.8,382.8M206.4,385.8Q206.5,383.8 205.1,383.2M214.5,323.7Q215.1,324.0 215.0,323.9M236.0,345.4Q236.0,345.2 235.1,346.3M232.2,349.6Q230.4,349.9 227.3,351.1M235.9,319.0Q235.4,318.5 236.1,318.8M235.6,328.1Q235.3,326.8 235.1,325.3M242.1,325.1Q241.3,325.3 240.7,324.9M296.9,333.4Q298.6,333.7 299.2,334.2M275.3,329.4Q273.3,327.7 271.1,326.2M256.8,329.0Q258.2,329.0 260.5,329.7M301.6,399.6Q301.7,398.7 300.5,399.1M284.0,397.9Q284.5,399.0 285.2,399.7M266.2,340.2Q264.7,340.1 262.2,339.6M263.7,336.2Q261.7,335.0 261.2,334.2M273.5,385.6Q274.2,386.9 273.6,389.0M277.5,392.1Q276.4,391.8 276.4,391.4M226.9,326.5Q226.0,325.7 226.0,324.9M216.0,320.0Q219.0,320.9 221.7,320.7M300.8,328.1Q302.1,331.6 302.6,333.9M301.2,390.3Q299.7,389.8 299.3,388.7M298.3,392.7Q298.5,393.3 298.2,392.8M310.9,335.9Q309.1,337.3 308.3,337.9M297.1,388.0Q295.7,389.6 295.7,390.4M286.4,402.6Q288.9,402.6 290.1,402.8M292.3,401.0Q292.8,400.4 294.6,398.3M295.6,396.4Q295.7,396.9 294.6,398.3M300.8,398.0Q298.9,399.4 296.1,401.6" stroke="#a47fc8" stroke-width="0.7" fill="none" stroke-linecap="round"/>
<path d="M320.3,402.1Q319.7,402.3 318.0,401.1M199.3,347.1Q199.4,348.6 200.6,349.8M203.5,322.1Q202.5,321.4 202.6,321.0M207.6,316.4Q208.2,316.8 208.5,317.5M206.9,323.0Q208.3,323.3 208.9,322.4M320.3,347.5Q319.3,346.5 319.4,345.5M316.3,396.7Q315.7,397.1 314.7,397.1M314.7,397.1Q314.8,394.2 314.4,392.9M199.5,320.6Q198.1,322.9 198.0,324.8M203.5,322.1Q203.5,323.2 202.6,326.0M197.8,326.2Q197.3,326.2 197.5,325.7M202.0,386.1Q201.0,386.9 199.5,388.3M216.8,372.0Q217.7,371.5 217.2,370.3M218.1,377.8Q215.3,377.6 213.8,376.3M213.8,376.3Q212.8,375.8 213.4,374.1M210.5,359.7Q211.5,357.2 213.9,356.1M213.9,356.1Q215.9,357.0 217.3,357.2M251.6,312.2Q254.0,311.8 256.4,311.6M316.1,314.2Q316.6,313.6 316.8,312.3M304.3,308.8Q305.6,309.6 305.7,311.3M297.1,310.9Q299.1,311.5 299.8,311.2M294.9,313.1Q294.8,312.4 295.7,313.1M306.0,319.9Q307.2,318.9 309.3,319.1M314.6,323.7Q312.3,322.4 310.0,322.2M274.7,318.5Q275.3,319.3 276.9,319.5M294.9,318.0Q295.0,318.5 293.6,319.2M266.5,313.9Q265.4,316.3 265.5,317.2M291.6,341.7Q291.5,342.2 291.9,343.9M314.4,392.9Q314.1,393.0 312.4,391.5M283.1,335.1Q283.2,336.5 284.8,338.1M284.0,332.2Q283.1,333.2 283.1,335.1M276.9,409.4Q276.7,404.7 275.1,401.3M279.8,402.6Q278.0,401.3 276.5,398.8M232.3,366.1Q232.5,368.4 232.3,369.7M257.1,394.9Q256.0,393.0 256.2,392.6M223.3,398.3Q224.0,398.8 223.5,399.2M235.1,396.1Q236.6,397.3 237.3,399.5M197.2,380.7Q197.3,380.4 198.0,381.3M197.2,380.7Q195.9,379.5 196.0,379.3M223.1,310.1Q221.7,310.5 220.5,312.2M245.5,314.8Q246.0,315.4 245.1,316.0M244.0,320.2Q245.5,319.8 247.7,320.5M319.1,331.0Q319.9,329.5 321.8,328.0M310.8,343.6Q309.7,345.4 309.7,346.0M316.0,345.2Q314.3,344.4 312.3,342.1M312.5,330.3Q313.1,329.5 313.2,327.3M308.6,326.4Q309.3,325.5 309.6,325.0M283.8,312.6Q284.1,312.5 285.7,313.6M253.7,320.6Q251.5,321.0 249.4,322.2M310.3,402.9Q308.2,400.7 307.5,399.8M245.4,399.1Q246.9,398.1 249.2,398.6M282.7,389.6Q283.7,391.4 285.8,391.8M228.4,385.1Q231.0,385.5 232.2,384.3M251.5,394.3Q250.3,391.6 249.2,390.1M261.4,390.7Q260.6,390.1 260.3,388.3M212.6,399.1Q211.8,398.0 211.2,395.2M205.2,404.5Q207.8,405.7 210.5,405.6M212.2,402.2Q211.5,403.1 211.2,403.3M201.8,402.3Q203.9,402.0 205.7,402.7M206.0,397.8Q202.8,398.5 201.1,397.8M231.6,400.2Q231.2,401.3 232.1,403.2M198.4,373.4Q198.0,374.6 196.4,375.0M197.0,376.7Q197.2,375.5 197.2,375.2M200.2,360.9Q200.1,360.3 198.4,359.0M223.1,310.1Q224.0,310.8 224.5,311.4M229.7,313.6Q230.8,314.3 230.5,314.8M243.4,319.4Q242.1,321.5 242.1,325.1M258.7,348.0Q258.8,349.9 257.8,350.5M243.2,338.3Q242.4,338.7 242.8,338.9M247.0,340.7Q245.4,342.4 245.3,342.8M247.0,340.7Q246.9,340.5 245.8,338.8M236.5,311.6Q237.0,311.4 237.1,311.8M220.2,329.2Q222.8,330.2 224.1,331.0M319.3,320.7Q319.1,322.8 319.3,324.4M316.1,325.6Q317.6,325.5 319.3,324.4M301.5,322.7Q302.1,324.1 301.7,323.9M319.6,338.1Q318.4,339.3 315.9,340.4M320.4,333.5Q319.3,333.6 318.7,334.4M277.6,326.5Q278.1,327.8 279.9,327.6M265.8,318.7Q266.3,320.1 266.0,321.7M254.1,320.3Q255.0,322.1 255.8,325.2M255.8,325.2Q253.5,325.7 250.1,324.7M251.5,331.3Q251.0,331.3 251.7,331.0M251.5,331.3Q253.5,332.4 256.1,332.2M256.1,332.2Q256.5,333.0 257.1,333.1M305.0,399.6Q304.6,402.3 304.3,405.3M270.7,351.1Q272.2,349.7 275.2,347.6M261.2,402.9Q263.5,402.3 265.0,402.9M270.5,398.5Q270.5,398.9 270.1,398.4M265.0,402.9Q265.7,403.1 265.4,401.8M263.8,391.2Q263.4,394.9 261.7,397.1M261.2,402.9Q261.8,401.6 261.8,398.9M273.3,394.8Q271.6,393.4 270.7,392.2M243.5,396.6Q241.8,396.5 241.3,397.2M237.2,394.1Q239.7,395.6 241.3,397.2M206.6,392.4Q207.4,391.6 208.2,390.4M208.2,370.7Q207.5,372.5 207.9,372.8M237.0,387.1Q237.2,388.8 235.9,391.7M230.8,377.1Q231.1,379.2 230.1,381.4M214.7,318.8Q214.8,319.0 215.9,318.5M226.9,326.5Q227.8,326.3 228.8,326.8M245.7,350.7Q245.1,349.9 245.4,349.8M239.0,351.1Q239.1,351.3 239.7,350.3M203.3,327.4Q201.1,329.2 200.2,331.1M205.9,328.2Q205.2,329.8 206.0,332.4M210.9,329.9Q209.0,329.7 206.4,328.8M296.9,333.4Q298.1,330.0 297.7,328.2M293.4,328.2Q292.5,328.4 292.5,329.1M299.1,346.8Q299.7,347.2 301.7,346.6M307.8,347.8Q306.3,345.6 305.1,344.9M285.4,330.5Q284.4,328.4 284.9,327.8M285.4,330.5Q287.9,330.4 288.9,331.2M267.5,323.7Q267.3,323.3 266.3,324.3M252.6,346.9Q251.6,346.3 250.4,346.6M258.2,347.7Q257.8,346.2 256.2,345.2M270.7,392.2Q270.8,391.4 270.9,391.8M270.9,391.8Q270.2,391.0 269.4,389.3M202.3,378.1Q203.6,377.9 205.6,377.9M205.1,383.2Q206.8,382.9 209.1,381.2M210.6,382.4Q210.3,381.0 209.1,381.2M232.7,382.4Q233.8,382.5 236.4,381.0M238.9,337.3Q238.5,339.2 237.3,340.1M242.0,341.9Q240.3,342.5 238.7,341.8M232.6,339.4Q233.6,340.4 235.1,339.8M240.3,346.1Q238.5,345.0 237.0,345.2M232.2,349.6Q232.2,348.4 232.7,347.8M233.5,351.6Q233.3,350.4 232.2,349.6M241.8,319.5Q239.2,319.7 237.8,321.4M228.9,321.8Q229.2,322.6 231.0,323.3M297.2,336.4Q298.4,338.5 299.0,341.1M271.1,326.2Q270.1,327.3 270.1,327.5M260.6,331.0Q260.1,330.5 260.5,329.7M287.7,392.9Q288.6,394.9 289.6,397.2M265.0,346.1Q266.5,345.3 267.5,343.5M267.5,343.5Q266.7,341.8 266.2,340.2M265.2,333.5Q267.6,337.0 268.5,339.1M268.8,345.9Q268.5,344.7 268.0,344.5M271.5,338.2Q271.4,339.3 270.7,340.8M222.4,325.4Q221.3,325.2 221.8,325.0M226.0,324.9Q227.3,322.9 227.2,321.6M300.9,340.7Q302.3,339.7 302.9,338.0M295.6,396.4Q296.2,396.5 298.1,396.1M292.3,401.0Q291.3,402.3 290.6,402.6M290.6,402.6Q292.7,404.0 295.1,404.3M294.6,398.3Q295.2,400.3 296.1,401.6M290.1,402.8Q290.0,402.5 290.6,402.6" stroke="#ad8ccf" stroke-width="0.7" fill="none" stroke-linecap="round"/>
<path d="M198.0,339.2Q196.1,337.3 194.7,336.8M316.3,396.7Q317.2,398.9 318.0,401.1M198.6,403.9Q197.8,403.1 196.9,402.0M196.6,394.7Q196.4,396.4 197.6,398.7M196.9,402.0Q197.2,400.7 197.6,398.7M192.1,322.3Q194.6,321.1 196.0,319.3M325.8,390.8Q321.2,389.7 317.7,387.4M218.1,377.8Q218.7,376.8 220.9,375.3M198.0,339.2Q199.1,338.2 200.6,338.2M194.7,336.8Q195.2,336.4 197.3,334.7M197.6,353.2Q196.3,352.1 195.6,349.4M226.5,357.5Q226.6,358.4 226.4,359.8M228.4,365.7Q226.9,364.9 224.9,364.8M224.9,364.8Q225.3,364.8 224.2,364.3M225.2,357.2Q225.4,357.1 226.5,357.5M223.8,362.4Q222.6,361.4 220.9,359.2M311.3,313.3Q309.6,313.5 309.1,312.1M271.3,311.4Q269.3,312.5 266.5,314.7M316.1,390.7Q315.0,391.8 314.4,392.9M231.1,361.8Q232.4,362.2 234.7,363.7M199.6,404.3Q201.2,403.9 201.8,402.3M191.2,330.6Q195.3,328.8 197.8,326.2M202.0,386.1Q202.4,384.9 201.4,383.4M220.9,375.3Q218.1,373.9 216.8,372.0M217.2,370.3Q218.2,368.4 220.2,367.5M215.2,363.2Q216.4,363.8 218.4,364.8M245.7,350.7Q247.0,350.5 249.4,349.8M226.3,354.0Q225.6,352.4 223.7,352.3M256.4,311.6Q256.6,313.3 256.8,314.4M245.5,314.8Q246.6,312.4 246.6,311.3M201.8,319.5Q201.4,317.0 201.4,315.6M198.8,314.4Q200.5,314.7 201.4,315.6M308.1,312.0Q307.3,311.2 305.7,311.3M314.5,317.2Q313.6,317.3 313.0,317.7M313.0,317.7Q315.3,319.3 316.6,319.8M316.6,319.8Q316.0,321.2 314.6,323.7M317.9,342.5Q317.7,343.9 316.0,345.2M271.3,311.4Q271.7,312.1 273.0,313.5M293.2,323.6Q295.7,323.9 297.3,324.1M255.7,319.4Q257.0,318.8 259.1,318.9M316.1,386.9Q317.2,387.2 318.1,387.6M281.3,346.4Q279.8,344.4 279.5,342.9M279.5,342.9Q280.1,341.1 280.9,340.0M251.5,394.3Q252.3,394.7 253.3,395.1M223.3,398.3Q222.5,396.9 221.5,396.8M224.8,395.1Q222.6,393.3 220.8,392.4M220.8,392.4Q218.7,393.3 217.0,395.3M200.0,387.4Q201.2,388.9 201.9,391.8M194.0,367.2Q193.7,366.2 194.3,365.3M219.4,311.7Q220.0,312.1 220.5,312.2M301.5,322.7Q299.5,322.3 297.2,323.3M310.8,343.6Q311.6,343.8 311.4,343.4M312.5,330.3Q313.9,331.2 314.0,333.1M308.6,326.4Q310.1,328.5 310.6,331.2M291.9,315.1Q292.1,315.3 290.8,314.7M284.8,318.9Q283.6,321.3 283.7,322.3M285.7,313.6Q286.1,315.9 286.1,317.1M293.0,320.0Q291.2,319.6 289.8,319.4M243.5,334.8Q244.8,332.9 247.1,332.4M245.8,338.8Q245.0,338.1 243.2,338.3M312.9,388.7Q310.9,387.8 310.1,387.6M313.0,398.0Q312.8,397.9 313.0,397.9M281.1,347.0Q279.7,347.5 278.3,349.2M250.8,399.1Q250.8,400.3 251.4,402.2M284.0,397.9Q284.1,396.7 283.5,394.6M277.5,392.1Q276.1,393.8 273.3,394.8M232.2,384.3Q233.1,385.2 233.3,385.6M246.1,390.3Q246.4,390.3 245.8,390.8M249.2,390.1Q250.3,389.1 250.2,388.6M217.0,395.3Q217.3,394.8 217.8,394.7M217.8,394.7Q216.2,396.8 215.1,400.2M207.4,398.3Q208.5,396.7 211.0,396.3M232.7,394.3Q232.6,394.4 232.7,395.7M226.1,374.3Q226.5,375.2 227.6,376.7M232.9,310.4Q231.4,311.4 229.7,313.6M220.5,312.2Q220.6,314.3 222.3,315.4M225.0,315.7Q224.5,313.5 224.5,311.4M239.8,330.2Q241.9,329.8 245.2,330.0M238.5,333.8Q238.8,333.2 239.2,333.4M242.8,338.9Q242.3,340.7 242.0,341.9M242.0,310.9Q242.0,311.5 241.3,311.1M233.5,315.4Q235.3,314.1 237.1,311.8M224.3,331.8Q224.9,331.6 224.1,331.0M296.1,345.3Q296.4,343.2 296.7,341.6M293.7,340.5Q295.1,340.7 296.7,341.6M288.1,336.4Q289.3,334.9 289.7,334.2M301.7,323.9Q302.7,325.1 302.6,327.5M315.3,334.1Q314.3,335.9 313.9,336.2M314.0,333.1Q314.4,333.1 315.3,334.1M282.8,321.7Q284.1,324.1 284.0,326.7M251.5,331.5Q249.5,331.3 248.9,332.2M245.4,329.3Q246.1,329.5 245.2,330.0M245.4,329.3Q247.2,328.3 249.5,327.9M253.7,337.7Q253.2,338.0 251.1,337.2M257.1,333.1Q259.7,332.6 260.9,333.5M310.2,393.3Q309.1,392.7 308.4,391.2M274.1,336.2Q272.0,334.8 271.5,334.7M275.9,339.0Q273.2,338.1 271.5,338.2M261.5,403.0Q259.8,402.4 257.5,401.4M273.8,401.8Q272.4,400.3 270.5,398.5M271.8,395.5Q270.2,397.0 270.1,398.4M261.4,390.7Q263.0,391.0 263.8,391.2M241.2,402.9Q240.6,401.2 240.3,398.8M241.3,397.2Q240.8,397.5 240.3,398.8M242.2,394.4Q242.1,395.2 243.5,396.6M211.1,393.7Q208.4,392.4 206.6,392.4M215.0,382.0Q214.8,380.9 214.5,380.4M201.5,377.4Q202.2,375.7 202.2,372.9M212.3,376.7Q212.4,377.3 212.5,377.2M207.9,372.8Q206.7,372.9 206.8,374.3M230.4,331.6Q232.5,333.5 233.6,334.9M233.9,333.7Q234.2,332.7 235.7,333.1M225.8,330.1Q224.9,330.3 224.1,331.0M245.4,349.8Q244.8,348.7 245.2,346.7M241.4,346.6Q241.3,348.1 239.7,350.3M233.2,319.5Q235.0,318.7 235.9,319.0M205.9,328.2Q206.6,328.4 206.4,328.8M292.5,329.1Q292.5,330.9 292.9,332.5M292.5,329.1Q295.1,328.1 297.7,328.2M302.6,327.5Q301.8,327.9 300.8,328.1M296.7,341.6Q297.0,342.0 298.4,341.5M289.7,334.2Q289.9,333.2 288.9,331.2M251.7,331.0Q253.7,328.8 256.6,326.6M250.2,341.0Q250.9,340.2 250.2,340.6M257.9,340.9Q256.5,343.8 256.2,345.2M206.2,387.1Q206.5,386.4 206.4,385.8M206.4,385.8Q208.1,385.8 209.4,386.4M234.5,377.2Q235.4,378.7 236.4,381.0M237.0,345.2Q235.5,345.5 235.1,346.3M237.4,350.6Q236.0,347.8 235.1,346.3M243.4,319.4Q242.1,320.1 241.8,319.5M234.7,324.1Q237.0,323.4 238.8,321.2M237.8,321.4Q238.4,321.6 238.8,321.2M298.4,341.5Q298.0,341.3 299.0,341.1M272.7,323.1Q271.7,325.3 271.1,326.2M262.9,326.8Q261.7,328.8 260.5,329.7M304.3,394.3Q304.8,394.6 304.2,394.5M285.8,391.8Q286.8,392.3 287.7,392.9M285.2,399.7Q287.0,398.7 289.6,397.2M265.0,346.1Q263.6,344.5 261.2,344.3M260.2,341.1Q261.2,340.2 262.2,339.6M257.9,340.9Q258.7,340.6 260.2,341.1M265.2,333.5Q264.1,335.6 263.7,336.2M263.7,336.2Q263.7,337.7 262.2,339.6M268.0,344.5Q269.8,342.8 270.7,340.8M272.8,345.3Q273.0,343.4 272.9,342.2M275.2,347.6Q274.4,347.1 272.8,345.3M268.5,339.1Q268.8,338.2 270.2,338.2M275.5,340.8Q274.8,341.8 272.9,342.2M221.8,325.0Q221.4,322.6 221.7,320.7M227.2,321.6Q225.7,321.0 225.4,319.0M268.9,328.8Q269.5,330.2 270.6,330.9M302.2,389.7Q302.1,389.4 301.2,390.3M304.2,394.5Q301.6,394.2 298.2,392.8M301.2,390.3Q300.4,392.3 298.2,392.8M308.3,332.3Q309.5,334.7 310.9,335.9M307.3,338.7Q307.1,338.1 307.2,338.9M299.0,341.1Q299.2,341.6 300.9,340.7M305.9,332.8Q305.8,335.4 307.2,338.9M299.3,388.7Q298.1,388.3 297.1,388.0M293.4,395.0Q293.8,393.6 294.1,391.5M289.6,397.2Q289.2,397.0 290.5,396.8M284.8,401.8Q285.0,403.0 286.4,402.6" stroke="#9a70c2" stroke-width="0.7" fill="none" stroke-linecap="round"/>
<path d="M316.1,390.7Q316.8,389.8 318.1,387.6M223.3,377.9Q222.0,379.3 219.3,380.9M200.2,335.4Q199.6,335.0 197.3,334.7M192.9,355.6Q195.9,354.0 197.6,353.2M196.9,347.4Q196.1,349.1 195.6,349.4M231.1,361.8Q231.0,360.4 232.5,359.2M219.2,353.5Q218.9,355.9 217.9,356.9M217.9,356.9Q218.5,358.2 220.2,359.6M225.2,357.2Q223.7,357.0 222.3,357.0M211.8,321.1Q212.4,320.5 211.6,318.6M211.6,318.6Q209.9,318.5 208.5,317.5M211.2,314.4Q212.5,313.7 214.3,314.1M297.1,310.9Q295.7,311.5 295.7,313.1M266.5,313.9Q266.1,313.5 266.5,314.7M221.2,403.5Q222.7,403.7 223.1,403.6M197.6,398.7Q199.1,399.2 201.4,399.0M202.6,326.0Q200.6,325.7 198.0,324.8M196.0,319.3Q197.8,319.6 199.5,320.6M224.2,364.3Q221.7,365.3 220.1,366.1M212.3,355.3Q213.3,355.7 213.9,356.1M251.6,312.2Q251.1,312.6 251.9,312.2M251.3,314.7Q254.0,315.3 255.4,316.8M255.4,316.8Q256.3,315.2 256.8,314.4M246.7,311.0Q246.2,310.8 246.6,311.3M313.2,311.9Q315.2,311.8 316.8,312.3M305.7,311.3Q304.2,312.5 303.9,315.0M299.8,311.2Q300.2,313.5 300.6,314.8M300.6,314.8Q300.1,314.7 300.5,315.8M309.1,317.0Q309.5,318.0 310.3,319.5M313.0,317.7Q311.3,318.0 310.3,319.5M295.8,319.2Q297.3,318.7 299.8,319.7M309.3,319.1Q309.7,321.2 310.0,322.2M272.5,316.4Q272.9,314.5 273.0,313.5M273.0,313.5Q275.1,312.3 275.7,312.3M270.3,315.8Q271.9,315.5 272.5,316.4M278.4,314.9Q280.1,314.6 280.5,314.5M261.8,315.7Q261.2,316.6 261.2,316.5M316.1,386.9Q314.9,385.4 314.8,384.2M292.4,345.5Q293.9,344.8 296.1,345.3M292.4,345.5Q293.2,347.6 292.6,348.8M279.2,335.0Q281.9,335.6 283.1,335.1M288.1,336.4Q289.1,335.1 289.0,335.2M277.3,341.8Q276.4,341.1 275.5,340.8M271.8,403.3Q272.8,402.7 273.8,401.8M273.8,401.8Q273.8,401.3 275.1,401.3M232.3,366.1Q232.6,365.7 234.2,366.0M234.2,366.0Q235.0,368.5 236.9,370.2M234.2,371.9Q234.9,370.5 236.9,370.2M249.2,398.6Q248.5,396.2 248.8,394.6M252.8,398.5Q255.1,399.9 256.5,400.2M258.1,397.4Q257.8,398.3 256.5,400.2M253.3,395.1Q254.1,393.9 256.2,392.6M220.8,392.4Q220.8,391.7 219.1,389.8M202.0,386.1Q203.7,386.3 206.2,387.1M206.2,387.1Q205.6,388.3 205.6,389.1M220.0,382.5Q219.7,382.3 219.3,380.9M232.7,395.7Q232.8,397.6 232.4,400.5M198.6,366.7Q196.6,365.5 194.3,365.3M199.6,361.5Q197.9,362.7 195.5,362.8M212.3,355.3Q210.7,355.6 209.1,354.7M209.1,354.7Q209.2,356.6 208.2,358.3M208.9,360.0Q208.7,359.0 208.2,358.3M203.9,366.9Q204.4,363.9 204.4,361.9M209.6,365.0Q209.4,362.9 209.2,362.2M214.3,314.1Q214.3,314.2 215.3,313.6M204.4,313.5Q204.9,311.9 205.7,311.4M209.0,311.4Q207.9,311.3 205.7,311.4M316.6,319.8Q316.7,318.7 317.4,319.0M309.6,325.0Q311.1,326.7 313.2,327.3M316.1,325.6Q315.6,326.0 316.1,325.9M284.8,318.9Q285.4,318.3 286.1,317.1M283.7,322.3Q285.8,323.1 288.0,322.6M289.8,319.4Q288.5,321.6 288.0,322.6M281.6,321.5Q282.6,322.3 282.8,321.7M247.1,332.4Q247.6,333.0 248.9,332.2M281.3,346.4Q281.9,347.5 281.1,347.0M248.2,402.9Q247.0,400.5 245.4,399.1M282.7,389.6Q281.4,390.0 281.3,389.7M281.3,389.7Q280.3,391.2 279.1,392.8M283.5,394.6Q280.6,393.6 278.9,393.3M284.0,397.9Q280.2,397.6 276.7,398.4M248.8,394.6Q249.2,395.1 248.5,394.9M216.1,394.5Q213.8,394.7 211.2,395.2M210.5,405.6Q210.5,403.9 211.2,403.3M207.4,398.3Q207.4,399.5 208.2,399.5M201.4,399.0Q201.5,398.5 201.1,397.8M236.4,400.2Q237.2,401.6 237.3,402.8M198.4,373.4Q197.9,371.8 197.1,370.7M193.0,372.4Q195.8,374.6 197.2,375.2M194.0,367.2Q195.8,369.1 196.2,370.2M204.4,361.9Q203.4,361.1 203.1,361.0M222.3,315.4Q224.0,315.9 225.0,315.7M239.2,333.4Q241.3,333.5 243.5,334.8M249.3,352.9Q250.4,353.7 252.8,353.3M242.0,341.9Q242.1,342.2 241.9,341.4M241.3,311.1Q238.7,312.4 236.2,313.4M220.2,329.2Q219.2,329.8 217.3,330.3M317.4,319.0Q318.7,319.4 319.3,320.7M291.6,341.7Q292.7,341.3 293.7,340.5M289.7,334.2Q290.7,333.9 293.3,334.9M301.7,323.9Q303.7,323.1 304.6,322.6M315.9,340.4Q316.5,339.1 315.7,338.8M249.4,322.2Q249.0,323.8 250.1,324.7M244.6,325.5Q244.3,328.2 245.4,329.3M258.6,339.7Q259.6,336.6 261.2,334.2M261.2,334.2Q261.7,334.3 260.9,333.5M307.8,389.1Q305.5,386.7 304.4,385.8M307.5,399.8Q307.2,398.9 306.0,398.6M312.4,391.5Q311.5,391.7 310.2,393.3M306.0,398.6Q306.0,397.5 306.9,395.7M257.5,401.4Q256.6,403.5 254.5,404.4M265.1,398.9Q264.1,399.2 261.8,398.9M263.7,392.1Q266.2,392.9 267.4,394.1M245.8,390.8Q244.6,392.4 242.2,394.4M248.5,394.9Q245.8,395.8 244.7,396.4M237.3,399.5Q239.1,399.3 240.3,398.8M237.2,394.1Q236.7,395.5 235.1,396.1M215.3,392.0Q213.5,391.6 212.8,391.0M213.8,376.3Q213.2,376.7 212.3,376.7M237.0,387.1Q238.0,386.8 238.0,385.5M241.3,387.4Q240.5,389.4 239.4,391.2M236.9,392.5Q236.7,392.8 235.9,391.7M231.7,374.7Q231.6,375.6 231.5,375.9M203.8,353.3Q204.2,355.5 203.6,356.9M200.6,349.8Q201.6,349.7 201.4,349.9M218.1,314.1Q218.8,316.0 219.6,317.2M230.4,331.6Q228.4,330.6 227.1,331.2M225.8,330.1Q226.6,330.4 227.1,331.2M226.1,336.7Q224.6,333.9 224.3,331.8M240.3,346.1Q240.4,345.9 241.4,346.6M203.3,327.4Q205.3,327.5 205.9,328.2M202.6,326.0Q202.2,327.4 203.3,327.4M200.2,335.4Q200.1,333.9 200.7,332.5M208.9,322.4Q208.4,323.6 208.2,324.6M211.8,321.1Q213.3,322.5 214.5,323.7M214.5,323.7Q213.0,324.9 211.8,326.9M293.4,328.2Q293.3,325.6 293.2,323.6M301.7,346.6Q302.3,345.9 302.6,345.6M274.4,323.4Q276.2,325.3 277.7,327.2M262.6,321.8Q262.8,323.5 261.8,324.4M250.2,340.6Q252.3,341.0 253.2,341.1M250.2,340.6Q250.3,343.4 250.3,345.5M304.3,394.3Q303.8,393.3 304.3,392.1M270.7,351.1Q270.1,350.3 268.7,349.1M268.2,349.8Q269.0,349.2 268.7,349.1M269.2,387.0Q268.9,387.9 269.4,389.3M211.4,389.7Q210.6,388.8 209.4,386.4M210.6,382.4Q210.6,383.6 210.2,384.4M201.5,377.4Q201.8,378.4 202.3,378.1M201.4,383.4Q202.6,382.8 203.8,382.8M217.3,330.3Q216.6,327.5 217.2,325.7M215.0,323.9Q215.6,325.0 217.2,325.7M235.1,339.8Q233.7,342.0 233.8,343.9M238.7,341.8Q237.4,343.1 237.0,345.2M236.0,345.4Q233.9,346.3 232.7,347.8M236.2,313.4Q238.0,315.4 238.9,316.8M239.6,327.5Q239.7,326.5 240.7,324.9M240.7,324.9Q239.0,322.8 238.8,321.2M228.8,326.8Q229.9,325.6 231.0,323.3M228.9,321.8Q229.9,321.2 230.8,320.4M233.2,319.5Q234.7,322.2 234.7,324.1M297.2,336.4Q298.0,335.9 299.2,334.2M266.0,350.1Q265.0,348.4 265.0,346.1M276.4,391.4Q274.7,389.9 273.6,389.0M279.4,386.2Q277.9,386.5 277.0,386.2M306.6,328.3Q305.5,330.3 305.4,332.2M265.6,333.6Q268.5,333.5 271.3,333.5M271.3,333.5Q270.7,332.5 270.6,330.9M264.5,326.1Q265.7,327.5 266.7,328.9M265.2,333.5Q265.5,334.0 265.6,333.6M310.6,331.2Q309.8,331.2 308.3,332.3M298.3,392.7Q296.9,392.2 295.7,390.4M289.0,391.1Q289.8,391.7 290.3,390.9M295.6,396.4Q294.8,395.8 293.4,395.0" stroke="#b892d0" stroke-width="0.7" fill="none" stroke-linecap="round"/>
<path d="M195.8,338.3a0.9,0.7 0 1,0 1.8,0a0.9,0.7 0 1,0 -1.8,0M196.3,400.0a1.0,0.8 0 1,0 1.9,0a1.0,0.8 0 1,0 -1.9,0M195.0,344.5a0.7,0.5 0 1,0 1.3,0a0.7,0.5 0 1,0 -1.3,0M225.8,359.4a0.6,0.5 0 1,0 1.2,0a0.6,0.5 0 1,0 -1.2,0M231.6,359.7a0.6,0.5 0 1,0 1.1,0a0.6,0.5 0 1,0 -1.1,0M227.1,361.1a0.7,0.6 0 1,0 1.5,0a0.7,0.6 0 1,0 -1.5,0M225.2,365.0a0.6,0.5 0 1,0 1.2,0a0.6,0.5 0 1,0 -1.2,0M223.4,368.6a0.9,0.7 0 1,0 1.8,0a0.9,0.7 0 1,0 -1.8,0M220.9,359.9a0.6,0.5 0 1,0 1.2,0a0.6,0.5 0 1,0 -1.2,0M202.1,321.0a0.6,0.5 0 1,0 1.2,0a0.6,0.5 0 1,0 -1.2,0M207.7,317.4a0.7,0.6 0 1,0 1.5,0a0.7,0.6 0 1,0 -1.5,0M318.5,345.6a1.0,0.8 0 1,0 2.0,0a1.0,0.8 0 1,0 -2.0,0M309.5,312.7a0.8,0.6 0 1,0 1.6,0a0.8,0.6 0 1,0 -1.6,0M265.9,314.0a0.6,0.5 0 1,0 1.3,0a0.6,0.5 0 1,0 -1.3,0M314.3,397.0a0.7,0.5 0 1,0 1.3,0a0.7,0.5 0 1,0 -1.3,0M314.6,391.6a0.8,0.7 0 1,0 1.6,0a0.8,0.7 0 1,0 -1.6,0M221.7,403.5a0.7,0.5 0 1,0 1.3,0a0.7,0.5 0 1,0 -1.3,0M202.0,325.2a0.8,0.7 0 1,0 1.7,0a0.8,0.7 0 1,0 -1.7,0M213.4,376.5a0.9,0.7 0 1,0 1.8,0a0.9,0.7 0 1,0 -1.8,0M245.8,311.3a0.8,0.6 0 1,0 1.6,0a0.8,0.6 0 1,0 -1.6,0M199.4,315.1a1.0,0.8 0 1,0 2.0,0a1.0,0.8 0 1,0 -2.0,0M307.1,311.9a0.7,0.6 0 1,0 1.4,0a0.7,0.6 0 1,0 -1.4,0M294.3,313.1a0.6,0.5 0 1,0 1.2,0a0.6,0.5 0 1,0 -1.2,0M300.3,320.7a0.7,0.6 0 1,0 1.4,0a0.7,0.6 0 1,0 -1.4,0M313.1,318.2a0.7,0.5 0 1,0 1.4,0a0.7,0.5 0 1,0 -1.4,0M295.5,324.0a1.0,0.8 0 1,0 2.0,0a1.0,0.8 0 1,0 -2.0,0M260.7,316.2a0.7,0.6 0 1,0 1.5,0a0.7,0.6 0 1,0 -1.5,0M290.9,341.7a0.7,0.5 0 1,0 1.4,0a0.7,0.5 0 1,0 -1.4,0M294.8,345.3a0.9,0.7 0 1,0 1.8,0a0.9,0.7 0 1,0 -1.8,0M284.3,340.8a0.8,0.6 0 1,0 1.5,0a0.8,0.6 0 1,0 -1.5,0M274.4,402.1a0.8,0.7 0 1,0 1.7,0a0.8,0.7 0 1,0 -1.7,0M231.5,368.2a0.8,0.6 0 1,0 1.5,0a0.8,0.6 0 1,0 -1.5,0M234.2,367.0a0.7,0.5 0 1,0 1.3,0a0.7,0.5 0 1,0 -1.3,0M219.0,401.6a0.9,0.7 0 1,0 1.8,0a0.9,0.7 0 1,0 -1.8,0M222.1,397.8a0.6,0.5 0 1,0 1.2,0a0.6,0.5 0 1,0 -1.2,0M205.2,387.9a0.7,0.6 0 1,0 1.5,0a0.7,0.6 0 1,0 -1.5,0M193.6,365.7a0.6,0.5 0 1,0 1.3,0a0.6,0.5 0 1,0 -1.3,0M207.6,359.2a0.9,0.7 0 1,0 1.8,0a0.9,0.7 0 1,0 -1.8,0M195.4,379.7a0.9,0.7 0 1,0 1.8,0a0.9,0.7 0 1,0 -1.8,0M196.1,394.2a0.9,0.7 0 1,0 1.8,0a0.9,0.7 0 1,0 -1.8,0M218.6,311.8a0.9,0.7 0 1,0 1.9,0a0.9,0.7 0 1,0 -1.9,0M221.4,311.0a0.6,0.5 0 1,0 1.3,0a0.6,0.5 0 1,0 -1.3,0M226.7,353.8a0.7,0.6 0 1,0 1.5,0a0.7,0.6 0 1,0 -1.5,0M206.1,311.4a0.7,0.5 0 1,0 1.3,0a0.7,0.5 0 1,0 -1.3,0M308.2,326.0a0.8,0.6 0 1,0 1.5,0a0.8,0.6 0 1,0 -1.5,0M290.6,314.9a0.7,0.6 0 1,0 1.5,0a0.7,0.6 0 1,0 -1.5,0M287.3,312.2a0.8,0.7 0 1,0 1.6,0a0.8,0.7 0 1,0 -1.6,0M285.0,313.9a0.8,0.6 0 1,0 1.5,0a0.8,0.6 0 1,0 -1.5,0M278.0,319.9a0.8,0.6 0 1,0 1.5,0a0.8,0.6 0 1,0 -1.5,0M245.9,332.8a0.7,0.5 0 1,0 1.3,0a0.7,0.5 0 1,0 -1.3,0M312.0,397.9a1.0,0.8 0 1,0 2.0,0a1.0,0.8 0 1,0 -2.0,0M307.6,400.5a0.6,0.4 0 1,0 1.1,0a0.6,0.4 0 1,0 -1.1,0M277.5,349.1a0.9,0.8 0 1,0 1.9,0a0.9,0.8 0 1,0 -1.9,0M280.4,347.0a0.7,0.6 0 1,0 1.4,0a0.7,0.6 0 1,0 -1.4,0M250.6,401.6a0.7,0.5 0 1,0 1.3,0a0.7,0.5 0 1,0 -1.3,0M281.7,398.0a0.8,0.6 0 1,0 1.6,0a0.8,0.6 0 1,0 -1.6,0M245.3,390.4a0.8,0.7 0 1,0 1.6,0a0.8,0.7 0 1,0 -1.6,0M247.8,390.2a0.7,0.5 0 1,0 1.3,0a0.7,0.5 0 1,0 -1.3,0M254.0,385.0a0.8,0.6 0 1,0 1.6,0a0.8,0.6 0 1,0 -1.6,0M244.3,385.4a0.8,0.6 0 1,0 1.6,0a0.8,0.6 0 1,0 -1.6,0M206.9,399.0a1.0,0.8 0 1,0 1.9,0a1.0,0.8 0 1,0 -1.9,0M231.8,395.3a0.9,0.7 0 1,0 1.8,0a0.9,0.7 0 1,0 -1.8,0M229.4,371.0a0.6,0.5 0 1,0 1.2,0a0.6,0.5 0 1,0 -1.2,0M231.6,311.0a0.7,0.6 0 1,0 1.5,0a0.7,0.6 0 1,0 -1.5,0M243.8,330.1a0.6,0.5 0 1,0 1.1,0a0.6,0.5 0 1,0 -1.1,0M245.2,339.2a0.8,0.7 0 1,0 1.7,0a0.8,0.7 0 1,0 -1.7,0M241.4,341.7a0.6,0.5 0 1,0 1.1,0a0.6,0.5 0 1,0 -1.1,0M318.7,323.7a0.6,0.5 0 1,0 1.3,0a0.6,0.5 0 1,0 -1.3,0M295.6,344.8a0.6,0.5 0 1,0 1.2,0a0.6,0.5 0 1,0 -1.2,0M301.6,327.1a0.8,0.7 0 1,0 1.7,0a0.8,0.7 0 1,0 -1.7,0M316.5,339.5a0.8,0.6 0 1,0 1.6,0a0.8,0.6 0 1,0 -1.6,0M319.3,333.6a0.9,0.7 0 1,0 1.8,0a0.9,0.7 0 1,0 -1.8,0M282.6,325.0a1.0,0.8 0 1,0 1.9,0a1.0,0.8 0 1,0 -1.9,0M250.6,331.6a0.7,0.6 0 1,0 1.4,0a0.7,0.6 0 1,0 -1.4,0M250.7,331.1a0.9,0.7 0 1,0 1.8,0a0.9,0.7 0 1,0 -1.8,0M244.5,328.3a0.7,0.5 0 1,0 1.4,0a0.7,0.5 0 1,0 -1.4,0M259.0,337.3a0.8,0.7 0 1,0 1.6,0a0.8,0.7 0 1,0 -1.6,0M256.3,332.9a0.6,0.5 0 1,0 1.3,0a0.6,0.5 0 1,0 -1.3,0M305.7,398.8a0.6,0.5 0 1,0 1.1,0a0.6,0.5 0 1,0 -1.1,0M309.1,393.1a0.9,0.7 0 1,0 1.9,0a0.9,0.7 0 1,0 -1.9,0M254.4,403.5a0.9,0.7 0 1,0 1.8,0a0.9,0.7 0 1,0 -1.8,0M260.4,402.9a0.8,0.6 0 1,0 1.6,0a0.8,0.6 0 1,0 -1.6,0M252.1,403.3a1.0,0.8 0 1,0 1.9,0a1.0,0.8 0 1,0 -1.9,0M269.8,398.7a0.9,0.7 0 1,0 1.9,0a0.9,0.7 0 1,0 -1.9,0M269.7,398.5a0.7,0.5 0 1,0 1.3,0a0.7,0.5 0 1,0 -1.3,0M239.9,398.4a0.7,0.6 0 1,0 1.4,0a0.7,0.6 0 1,0 -1.4,0M246.0,395.6a0.7,0.5 0 1,0 1.4,0a0.7,0.5 0 1,0 -1.4,0M241.9,394.7a0.6,0.4 0 1,0 1.1,0a0.6,0.4 0 1,0 -1.1,0M215.1,393.2a0.6,0.5 0 1,0 1.1,0a0.6,0.5 0 1,0 -1.1,0M214.7,391.9a0.7,0.6 0 1,0 1.4,0a0.7,0.6 0 1,0 -1.4,0M201.1,372.1a1.0,0.8 0 1,0 1.9,0a1.0,0.8 0 1,0 -1.9,0M207.3,370.8a0.9,0.7 0 1,0 1.8,0a0.9,0.7 0 1,0 -1.8,0M236.6,392.2a0.8,0.7 0 1,0 1.6,0a0.8,0.7 0 1,0 -1.6,0M203.6,356.6a0.8,0.6 0 1,0 1.5,0a0.8,0.6 0 1,0 -1.5,0M214.5,318.7a0.7,0.5 0 1,0 1.3,0a0.7,0.5 0 1,0 -1.3,0M217.9,314.9a0.6,0.5 0 1,0 1.2,0a0.6,0.5 0 1,0 -1.2,0M227.0,326.6a0.7,0.5 0 1,0 1.4,0a0.7,0.5 0 1,0 -1.4,0M241.4,350.6a0.6,0.5 0 1,0 1.2,0a0.6,0.5 0 1,0 -1.2,0M238.3,350.8a1.0,0.8 0 1,0 1.9,0a1.0,0.8 0 1,0 -1.9,0M231.4,319.9a0.9,0.7 0 1,0 1.7,0a0.9,0.7 0 1,0 -1.7,0M205.0,328.2a0.6,0.5 0 1,0 1.3,0a0.6,0.5 0 1,0 -1.3,0M210.8,328.7a0.6,0.5 0 1,0 1.3,0a0.6,0.5 0 1,0 -1.3,0M300.8,327.8a0.7,0.6 0 1,0 1.5,0a0.7,0.6 0 1,0 -1.5,0M296.4,341.6a0.8,0.6 0 1,0 1.6,0a0.8,0.6 0 1,0 -1.6,0M306.6,347.3a0.7,0.6 0 1,0 1.5,0a0.7,0.6 0 1,0 -1.5,0M285.1,330.6a0.9,0.7 0 1,0 1.8,0a0.9,0.7 0 1,0 -1.8,0M276.1,326.0a0.6,0.4 0 1,0 1.1,0a0.6,0.4 0 1,0 -1.1,0M249.6,344.9a0.7,0.6 0 1,0 1.4,0a0.7,0.6 0 1,0 -1.4,0M303.6,394.3a0.8,0.6 0 1,0 1.5,0a0.8,0.6 0 1,0 -1.5,0M267.7,349.3a0.9,0.7 0 1,0 1.7,0a0.9,0.7 0 1,0 -1.7,0M208.6,386.4a0.9,0.7 0 1,0 1.7,0a0.9,0.7 0 1,0 -1.7,0M211.0,388.8a0.8,0.6 0 1,0 1.6,0a0.8,0.6 0 1,0 -1.6,0M205.4,386.4a0.9,0.7 0 1,0 1.7,0a0.9,0.7 0 1,0 -1.7,0M214.3,385.2a0.8,0.6 0 1,0 1.5,0a0.8,0.6 0 1,0 -1.5,0M201.1,377.6a0.6,0.5 0 1,0 1.1,0a0.6,0.5 0 1,0 -1.1,0M234.1,341.0a0.7,0.5 0 1,0 1.4,0a0.7,0.5 0 1,0 -1.4,0M237.3,343.1a0.7,0.6 0 1,0 1.5,0a0.7,0.6 0 1,0 -1.5,0M234.8,345.7a1.0,0.8 0 1,0 1.9,0a1.0,0.8 0 1,0 -1.9,0M237.4,338.3a0.9,0.7 0 1,0 1.9,0a0.9,0.7 0 1,0 -1.9,0M233.9,346.2a0.9,0.7 0 1,0 1.9,0a0.9,0.7 0 1,0 -1.9,0M235.3,318.9a0.8,0.6 0 1,0 1.5,0a0.8,0.6 0 1,0 -1.5,0M298.2,341.2a0.7,0.6 0 1,0 1.5,0a0.7,0.6 0 1,0 -1.5,0M300.9,399.6a0.6,0.5 0 1,0 1.2,0a0.6,0.5 0 1,0 -1.2,0M261.6,339.6a0.9,0.7 0 1,0 1.7,0a0.9,0.7 0 1,0 -1.7,0M259.6,341.1a0.7,0.6 0 1,0 1.4,0a0.7,0.6 0 1,0 -1.4,0M264.7,347.5a0.7,0.5 0 1,0 1.3,0a0.7,0.5 0 1,0 -1.3,0M264.3,334.0a0.6,0.5 0 1,0 1.3,0a0.6,0.5 0 1,0 -1.3,0M273.9,347.1a0.7,0.6 0 1,0 1.4,0a0.7,0.6 0 1,0 -1.4,0M274.1,341.2a0.7,0.5 0 1,0 1.3,0a0.7,0.5 0 1,0 -1.3,0M274.2,390.3a0.9,0.7 0 1,0 1.8,0a0.9,0.7 0 1,0 -1.8,0M301.3,332.9a1.0,0.8 0 1,0 2.0,0a1.0,0.8 0 1,0 -2.0,0M270.1,331.3a0.6,0.5 0 1,0 1.3,0a0.6,0.5 0 1,0 -1.3,0M300.7,390.1a0.8,0.6 0 1,0 1.6,0a0.8,0.6 0 1,0 -1.6,0M299.1,340.9a0.8,0.6 0 1,0 1.6,0a0.8,0.6 0 1,0 -1.6,0M289.3,390.9a0.7,0.5 0 1,0 1.3,0a0.7,0.5 0 1,0 -1.3,0M288.8,402.8a0.7,0.6 0 1,0 1.5,0a0.7,0.6 0 1,0 -1.5,0M294.2,398.5a0.6,0.5 0 1,0 1.1,0a0.6,0.5 0 1,0 -1.1,0M298.8,399.0a0.6,0.5 0 1,0 1.2,0a0.6,0.5 0 1,0 -1.2,0" fill="#7e4fae"/>
<path d="M316.0,397.6a0.7,0.6 0 1,0 1.5,0a0.7,0.6 0 1,0 -1.5,0M196.5,397.0a0.6,0.5 0 1,0 1.3,0a0.6,0.5 0 1,0 -1.3,0M192.8,321.2a0.7,0.5 0 1,0 1.3,0a0.7,0.5 0 1,0 -1.3,0M194.8,336.2a0.7,0.5 0 1,0 1.3,0a0.7,0.5 0 1,0 -1.3,0M196.0,333.9a0.9,0.7 0 1,0 1.8,0a0.9,0.7 0 1,0 -1.8,0M196.4,352.1a0.6,0.5 0 1,0 1.3,0a0.6,0.5 0 1,0 -1.3,0M196.9,347.3a0.8,0.6 0 1,0 1.6,0a0.8,0.6 0 1,0 -1.6,0M195.5,348.4a0.7,0.6 0 1,0 1.4,0a0.7,0.6 0 1,0 -1.4,0M223.6,363.9a0.6,0.5 0 1,0 1.2,0a0.6,0.5 0 1,0 -1.2,0M223.9,364.8a0.9,0.8 0 1,0 1.9,0a0.9,0.8 0 1,0 -1.9,0M218.2,358.2a0.9,0.7 0 1,0 1.7,0a0.9,0.7 0 1,0 -1.7,0M224.0,357.2a0.7,0.5 0 1,0 1.3,0a0.7,0.5 0 1,0 -1.3,0M209.2,318.0a0.7,0.6 0 1,0 1.5,0a0.7,0.6 0 1,0 -1.5,0M213.1,314.2a0.7,0.6 0 1,0 1.5,0a0.7,0.6 0 1,0 -1.5,0M267.5,313.6a0.6,0.5 0 1,0 1.2,0a0.6,0.5 0 1,0 -1.2,0M313.7,393.6a0.8,0.6 0 1,0 1.5,0a0.8,0.6 0 1,0 -1.5,0M196.9,398.7a0.9,0.7 0 1,0 1.8,0a0.9,0.7 0 1,0 -1.8,0M196.3,319.7a0.7,0.6 0 1,0 1.4,0a0.7,0.6 0 1,0 -1.4,0M196.9,325.2a0.9,0.7 0 1,0 1.8,0a0.9,0.7 0 1,0 -1.8,0M196.9,325.9a0.8,0.6 0 1,0 1.5,0a0.8,0.6 0 1,0 -1.5,0M218.2,368.5a1.0,0.8 0 1,0 1.9,0a1.0,0.8 0 1,0 -1.9,0M221.9,369.9a0.8,0.7 0 1,0 1.6,0a0.8,0.7 0 1,0 -1.6,0M221.1,365.3a0.7,0.5 0 1,0 1.3,0a0.7,0.5 0 1,0 -1.3,0M212.9,376.2a0.9,0.7 0 1,0 1.8,0a0.9,0.7 0 1,0 -1.8,0M217.1,357.0a0.7,0.5 0 1,0 1.4,0a0.7,0.5 0 1,0 -1.4,0M247.9,350.0a1.0,0.8 0 1,0 1.9,0a1.0,0.8 0 1,0 -1.9,0M225.1,353.8a0.9,0.8 0 1,0 1.9,0a0.9,0.8 0 1,0 -1.9,0M256.1,313.2a0.6,0.4 0 1,0 1.1,0a0.6,0.4 0 1,0 -1.1,0M250.3,314.8a0.9,0.8 0 1,0 1.9,0a0.9,0.8 0 1,0 -1.9,0M260.8,312.0a1.0,0.8 0 1,0 1.9,0a1.0,0.8 0 1,0 -1.9,0M200.9,318.9a0.8,0.7 0 1,0 1.7,0a0.8,0.7 0 1,0 -1.7,0M197.6,313.8a0.8,0.7 0 1,0 1.7,0a0.8,0.7 0 1,0 -1.7,0M315.5,312.3a0.8,0.6 0 1,0 1.6,0a0.8,0.6 0 1,0 -1.6,0M315.3,313.7a1.0,0.8 0 1,0 1.9,0a1.0,0.8 0 1,0 -1.9,0M304.1,313.4a0.6,0.5 0 1,0 1.2,0a0.6,0.5 0 1,0 -1.2,0M307.8,319.3a1.0,0.8 0 1,0 1.9,0a1.0,0.8 0 1,0 -1.9,0M308.5,317.2a0.7,0.5 0 1,0 1.3,0a0.7,0.5 0 1,0 -1.3,0M309.3,319.4a1.0,0.8 0 1,0 2.0,0a1.0,0.8 0 1,0 -2.0,0M313.5,317.4a0.6,0.5 0 1,0 1.2,0a0.6,0.5 0 1,0 -1.2,0M310.5,319.0a0.6,0.5 0 1,0 1.1,0a0.6,0.5 0 1,0 -1.1,0M309.4,322.3a0.9,0.8 0 1,0 1.9,0a0.9,0.8 0 1,0 -1.9,0M320.7,339.3a0.6,0.4 0 1,0 1.1,0a0.6,0.4 0 1,0 -1.1,0M293.3,318.6a0.9,0.7 0 1,0 1.8,0a0.9,0.7 0 1,0 -1.8,0M292.3,323.3a0.8,0.7 0 1,0 1.7,0a0.8,0.7 0 1,0 -1.7,0M277.9,314.9a0.8,0.7 0 1,0 1.7,0a0.8,0.7 0 1,0 -1.7,0M316.0,387.1a0.7,0.5 0 1,0 1.4,0a0.7,0.5 0 1,0 -1.4,0M279.3,335.0a0.7,0.5 0 1,0 1.3,0a0.7,0.5 0 1,0 -1.3,0M278.9,343.5a0.9,0.7 0 1,0 1.7,0a0.9,0.7 0 1,0 -1.7,0M278.1,337.3a0.8,0.6 0 1,0 1.6,0a0.8,0.6 0 1,0 -1.6,0M276.0,341.5a0.8,0.6 0 1,0 1.5,0a0.8,0.6 0 1,0 -1.5,0M232.9,366.0a0.8,0.7 0 1,0 1.7,0a0.8,0.7 0 1,0 -1.7,0M232.0,370.4a0.9,0.7 0 1,0 1.8,0a0.9,0.7 0 1,0 -1.8,0M249.3,398.9a0.6,0.5 0 1,0 1.2,0a0.6,0.5 0 1,0 -1.2,0M252.4,394.9a0.6,0.5 0 1,0 1.2,0a0.6,0.5 0 1,0 -1.2,0M256.2,394.3a0.7,0.6 0 1,0 1.4,0a0.7,0.6 0 1,0 -1.4,0M254.3,393.5a0.9,0.7 0 1,0 1.7,0a0.9,0.7 0 1,0 -1.7,0M204.4,386.8a0.6,0.5 0 1,0 1.3,0a0.6,0.5 0 1,0 -1.3,0M218.9,381.7a0.8,0.6 0 1,0 1.6,0a0.8,0.6 0 1,0 -1.6,0M238.6,403.5a0.7,0.6 0 1,0 1.5,0a0.7,0.6 0 1,0 -1.5,0M237.1,403.7a0.6,0.5 0 1,0 1.3,0a0.6,0.5 0 1,0 -1.3,0M196.0,362.3a1.0,0.8 0 1,0 2.0,0a1.0,0.8 0 1,0 -2.0,0M207.9,356.0a0.8,0.7 0 1,0 1.7,0a0.8,0.7 0 1,0 -1.7,0M205.4,368.1a0.9,0.8 0 1,0 1.9,0a0.9,0.8 0 1,0 -1.9,0M244.5,315.8a0.6,0.5 0 1,0 1.3,0a0.6,0.5 0 1,0 -1.3,0M246.5,320.5a0.8,0.7 0 1,0 1.7,0a0.8,0.7 0 1,0 -1.7,0M320.2,315.3a0.7,0.6 0 1,0 1.5,0a0.7,0.6 0 1,0 -1.5,0M298.7,323.0a0.8,0.6 0 1,0 1.6,0a0.8,0.6 0 1,0 -1.6,0M311.7,342.4a1.0,0.8 0 1,0 1.9,0a1.0,0.8 0 1,0 -1.9,0M312.2,327.7a0.9,0.7 0 1,0 1.7,0a0.9,0.7 0 1,0 -1.7,0M315.2,325.5a0.8,0.7 0 1,0 1.7,0a0.8,0.7 0 1,0 -1.7,0M284.4,318.4a0.8,0.6 0 1,0 1.6,0a0.8,0.6 0 1,0 -1.6,0M287.6,321.7a0.9,0.8 0 1,0 1.9,0a0.9,0.8 0 1,0 -1.9,0M291.4,319.8a0.7,0.6 0 1,0 1.4,0a0.7,0.6 0 1,0 -1.4,0M242.7,334.9a0.8,0.6 0 1,0 1.6,0a0.8,0.6 0 1,0 -1.6,0M282.3,389.8a0.7,0.5 0 1,0 1.4,0a0.7,0.5 0 1,0 -1.4,0M281.5,389.6a0.9,0.7 0 1,0 1.7,0a0.9,0.7 0 1,0 -1.7,0M282.8,395.2a0.7,0.6 0 1,0 1.5,0a0.7,0.6 0 1,0 -1.5,0M249.3,392.0a0.9,0.7 0 1,0 1.9,0a0.9,0.7 0 1,0 -1.9,0M210.8,395.1a0.7,0.6 0 1,0 1.5,0a0.7,0.6 0 1,0 -1.5,0M206.8,405.0a0.9,0.7 0 1,0 1.7,0a0.9,0.7 0 1,0 -1.7,0M204.4,402.6a0.7,0.6 0 1,0 1.5,0a0.7,0.6 0 1,0 -1.5,0M231.0,401.0a0.7,0.6 0 1,0 1.4,0a0.7,0.6 0 1,0 -1.4,0M235.9,401.3a0.9,0.7 0 1,0 1.8,0a0.9,0.7 0 1,0 -1.8,0M226.3,375.6a0.6,0.5 0 1,0 1.3,0a0.6,0.5 0 1,0 -1.3,0M193.9,368.1a0.8,0.6 0 1,0 1.5,0a0.8,0.6 0 1,0 -1.5,0M196.2,376.4a0.9,0.7 0 1,0 1.7,0a0.9,0.7 0 1,0 -1.7,0M223.2,311.0a1.0,0.8 0 1,0 1.9,0a1.0,0.8 0 1,0 -1.9,0M223.2,315.6a0.8,0.6 0 1,0 1.6,0a0.8,0.6 0 1,0 -1.6,0M229.2,314.0a0.8,0.6 0 1,0 1.6,0a0.8,0.6 0 1,0 -1.6,0M238.6,332.1a0.9,0.7 0 1,0 1.8,0a0.9,0.7 0 1,0 -1.8,0M242.6,319.8a0.7,0.5 0 1,0 1.3,0a0.7,0.5 0 1,0 -1.3,0M238.1,333.5a0.9,0.7 0 1,0 1.7,0a0.9,0.7 0 1,0 -1.7,0M236.4,311.8a0.7,0.6 0 1,0 1.5,0a0.7,0.6 0 1,0 -1.5,0M317.5,319.9a0.9,0.7 0 1,0 1.9,0a0.9,0.7 0 1,0 -1.9,0M292.8,336.0a0.9,0.7 0 1,0 1.8,0a0.9,0.7 0 1,0 -1.8,0M314.8,340.1a1.0,0.8 0 1,0 2.0,0a1.0,0.8 0 1,0 -2.0,0M313.8,333.6a0.8,0.6 0 1,0 1.5,0a0.8,0.6 0 1,0 -1.5,0M279.0,330.2a0.7,0.6 0 1,0 1.4,0a0.7,0.6 0 1,0 -1.4,0M278.1,327.1a0.8,0.6 0 1,0 1.6,0a0.8,0.6 0 1,0 -1.6,0M263.4,321.8a0.6,0.5 0 1,0 1.2,0a0.6,0.5 0 1,0 -1.2,0M244.3,329.7a1.0,0.8 0 1,0 2.0,0a1.0,0.8 0 1,0 -2.0,0M260.1,333.9a0.9,0.7 0 1,0 1.8,0a0.9,0.7 0 1,0 -1.8,0M308.4,388.3a0.6,0.5 0 1,0 1.3,0a0.6,0.5 0 1,0 -1.3,0M305.2,387.3a0.8,0.6 0 1,0 1.6,0a0.8,0.6 0 1,0 -1.6,0M311.2,392.0a0.7,0.5 0 1,0 1.3,0a0.7,0.5 0 1,0 -1.3,0M310.4,394.7a0.6,0.4 0 1,0 1.1,0a0.6,0.4 0 1,0 -1.1,0M309.6,394.6a0.7,0.6 0 1,0 1.5,0a0.7,0.6 0 1,0 -1.5,0M271.0,338.3a0.7,0.6 0 1,0 1.5,0a0.7,0.6 0 1,0 -1.5,0M275.2,347.6a0.8,0.6 0 1,0 1.6,0a0.8,0.6 0 1,0 -1.6,0M241.1,397.0a0.8,0.6 0 1,0 1.5,0a0.8,0.6 0 1,0 -1.5,0M244.9,391.0a0.7,0.6 0 1,0 1.5,0a0.7,0.6 0 1,0 -1.5,0M237.8,399.3a0.6,0.5 0 1,0 1.2,0a0.6,0.5 0 1,0 -1.2,0M239.1,396.1a0.8,0.6 0 1,0 1.5,0a0.8,0.6 0 1,0 -1.5,0M208.9,393.2a0.6,0.5 0 1,0 1.1,0a0.6,0.5 0 1,0 -1.1,0M205.1,389.3a0.9,0.7 0 1,0 1.8,0a0.9,0.7 0 1,0 -1.8,0M206.4,391.9a0.7,0.5 0 1,0 1.3,0a0.7,0.5 0 1,0 -1.3,0M213.9,381.0a0.7,0.6 0 1,0 1.5,0a0.7,0.6 0 1,0 -1.5,0M203.6,372.9a0.6,0.5 0 1,0 1.2,0a0.6,0.5 0 1,0 -1.2,0M211.5,376.9a0.9,0.7 0 1,0 1.9,0a0.9,0.7 0 1,0 -1.9,0M206.4,373.8a0.8,0.7 0 1,0 1.7,0a0.8,0.7 0 1,0 -1.7,0M236.7,386.3a0.8,0.7 0 1,0 1.7,0a0.8,0.7 0 1,0 -1.7,0M235.8,392.5a1.0,0.8 0 1,0 1.9,0a1.0,0.8 0 1,0 -1.9,0M229.1,381.3a1.0,0.8 0 1,0 1.9,0a1.0,0.8 0 1,0 -1.9,0M203.0,355.0a0.7,0.6 0 1,0 1.4,0a0.7,0.6 0 1,0 -1.4,0M200.2,349.8a0.6,0.5 0 1,0 1.2,0a0.6,0.5 0 1,0 -1.2,0M224.0,330.7a0.7,0.5 0 1,0 1.4,0a0.7,0.5 0 1,0 -1.4,0M244.4,348.0a0.9,0.7 0 1,0 1.8,0a0.9,0.7 0 1,0 -1.8,0M233.8,319.3a0.7,0.5 0 1,0 1.4,0a0.7,0.5 0 1,0 -1.4,0M199.7,334.2a0.7,0.5 0 1,0 1.3,0a0.7,0.5 0 1,0 -1.3,0M284.2,328.5a0.9,0.7 0 1,0 1.8,0a0.9,0.7 0 1,0 -1.8,0M283.9,327.2a0.6,0.5 0 1,0 1.2,0a0.6,0.5 0 1,0 -1.2,0M288.5,332.4a0.7,0.6 0 1,0 1.5,0a0.7,0.6 0 1,0 -1.5,0M287.4,325.9a0.8,0.6 0 1,0 1.5,0a0.8,0.6 0 1,0 -1.5,0M258.0,348.0a0.6,0.5 0 1,0 1.3,0a0.6,0.5 0 1,0 -1.3,0M268.5,387.2a0.7,0.6 0 1,0 1.4,0a0.7,0.6 0 1,0 -1.4,0M270.3,392.0a0.6,0.4 0 1,0 1.1,0a0.6,0.4 0 1,0 -1.1,0M210.6,389.5a0.8,0.7 0 1,0 1.6,0a0.8,0.7 0 1,0 -1.6,0M207.9,386.2a0.6,0.4 0 1,0 1.1,0a0.6,0.4 0 1,0 -1.1,0M210.0,382.5a0.6,0.5 0 1,0 1.1,0a0.6,0.5 0 1,0 -1.1,0M202.0,378.0a0.9,0.7 0 1,0 1.7,0a0.9,0.7 0 1,0 -1.7,0M202.3,382.9a0.9,0.7 0 1,0 1.8,0a0.9,0.7 0 1,0 -1.8,0M216.4,328.0a0.8,0.7 0 1,0 1.7,0a0.8,0.7 0 1,0 -1.7,0M215.9,325.1a0.6,0.5 0 1,0 1.3,0a0.6,0.5 0 1,0 -1.3,0M232.2,339.5a1.0,0.8 0 1,0 2.0,0a1.0,0.8 0 1,0 -2.0,0M231.7,349.5a0.6,0.5 0 1,0 1.1,0a0.6,0.5 0 1,0 -1.1,0M240.2,319.8a0.8,0.7 0 1,0 1.7,0a0.8,0.7 0 1,0 -1.7,0M242.5,319.4a0.6,0.5 0 1,0 1.3,0a0.6,0.5 0 1,0 -1.3,0M240.0,324.8a0.6,0.5 0 1,0 1.1,0a0.6,0.5 0 1,0 -1.1,0M237.8,321.3a0.7,0.6 0 1,0 1.5,0a0.7,0.6 0 1,0 -1.5,0M297.8,334.6a0.9,0.8 0 1,0 1.9,0a0.9,0.8 0 1,0 -1.9,0M257.3,329.2a0.7,0.5 0 1,0 1.3,0a0.7,0.5 0 1,0 -1.3,0M260.1,329.1a0.9,0.8 0 1,0 1.9,0a0.9,0.8 0 1,0 -1.9,0M303.5,394.4a0.7,0.6 0 1,0 1.4,0a0.7,0.6 0 1,0 -1.4,0M286.3,392.6a1.0,0.8 0 1,0 1.9,0a1.0,0.8 0 1,0 -1.9,0M288.0,395.3a0.8,0.6 0 1,0 1.5,0a0.8,0.6 0 1,0 -1.5,0M286.2,398.6a0.9,0.7 0 1,0 1.8,0a0.9,0.7 0 1,0 -1.8,0M265.4,340.6a1.0,0.8 0 1,0 1.9,0a1.0,0.8 0 1,0 -1.9,0M267.7,338.9a0.7,0.6 0 1,0 1.5,0a0.7,0.6 0 1,0 -1.5,0M262.8,336.0a0.7,0.5 0 1,0 1.3,0a0.7,0.5 0 1,0 -1.3,0M267.6,345.1a0.8,0.7 0 1,0 1.6,0a0.8,0.7 0 1,0 -1.6,0M268.3,343.2a0.7,0.5 0 1,0 1.3,0a0.7,0.5 0 1,0 -1.3,0M268.1,338.9a0.8,0.6 0 1,0 1.5,0a0.8,0.6 0 1,0 -1.5,0M272.9,388.2a0.7,0.6 0 1,0 1.5,0a0.7,0.6 0 1,0 -1.5,0M221.2,325.0a0.6,0.5 0 1,0 1.2,0a0.6,0.5 0 1,0 -1.2,0M225.8,322.9a1.0,0.8 0 1,0 2.0,0a1.0,0.8 0 1,0 -2.0,0M219.2,320.5a0.9,0.8 0 1,0 1.9,0a0.9,0.8 0 1,0 -1.9,0M305.3,330.7a0.6,0.5 0 1,0 1.2,0a0.6,0.5 0 1,0 -1.2,0M265.0,333.6a0.7,0.6 0 1,0 1.5,0a0.7,0.6 0 1,0 -1.5,0M297.3,392.8a0.9,0.7 0 1,0 1.9,0a0.9,0.7 0 1,0 -1.9,0M305.4,333.3a0.6,0.5 0 1,0 1.2,0a0.6,0.5 0 1,0 -1.2,0M296.1,388.5a0.7,0.5 0 1,0 1.3,0a0.7,0.5 0 1,0 -1.3,0M296.9,388.2a0.8,0.7 0 1,0 1.6,0a0.8,0.7 0 1,0 -1.6,0M292.8,393.2a1.0,0.8 0 1,0 2.0,0a1.0,0.8 0 1,0 -2.0,0M290.4,402.8a0.8,0.7 0 1,0 1.7,0a0.8,0.7 0 1,0 -1.7,0" fill="#8a5ab8"/>
</g>
<path d="M231,345.5 C234,347.5 238,350 243,353 C248,355.5 253,357 258,357 C262,356.8 266,356 270,354.5 C278,352 288,349 300,347.6 C308,347 314,345 320,342.5" stroke="#a33a9c" stroke-width="2.3" fill="none"/>
<path d="M231,345.5 C234,347.5 238,350 243,353 C248,355.5 253,357 258,357 C262,356.8 266,356 270,354.5" stroke="#a33a9c" stroke-width="3.4" fill="none" filter="url(#bl1)"/>
<path d="M218.5,358.5 C221,357.5 224,356.5 229,354.6 C232,354.3 234.5,355.5 236.2,358.3 C237.6,362 237.8,366 238.2,369 C238.8,374 241,377 243,378.5 C245,381 247.5,383 250,384.5 C257,387.5 265,389.5 275,390.8 C285,390.3 297,388.6 308,387 C313,386.4 317,386 320,385.7" stroke="#a63c9e" stroke-width="2.4" fill="none"/>
<path d="M218.5,358.5 C221,357.5 224,356.5 229,354.6 C232,354.3 234.5,355.5 236.2,358.3 C237.6,362 237.8,366 238.2,369" stroke="#a63c9e" stroke-width="3.2" fill="none" filter="url(#bl1)"/>
<path d="M197.5,353.5 C201,359 204,364 206.5,369 C208,373 208.5,376 211,377.2 C214.5,378.5 218.5,377 219.5,373 C219.5,368 218,363 218.5,358.5" stroke="#a2409e" stroke-width="1.8" fill="none"/>
<rect x="201.5" y="396.8" width="14.5" height="1.8" fill="#000"/>
</g>
<line x1="387.2" y1="315.0" x2="387.2" y2="395.6" stroke="#222" stroke-width="1.4"/>
<line x1="386.5" y1="395.0" x2="502.6" y2="395.0" stroke="#2a2a2a" stroke-width="1.8"/>
<line x1="384.2" y1="395.00" x2="387.2" y2="395.00" stroke="#222" stroke-width="1.0"/>
<text x="380.9" y="397.70" font-size="8.5" text-anchor="end" textLength="4.25" lengthAdjust="spacingAndGlyphs" fill="#222" stroke="#222" stroke-width="0.22">0</text>
<line x1="384.2" y1="387.28" x2="387.2" y2="387.28" stroke="#222" stroke-width="1.0"/>
<text x="380.9" y="389.98" font-size="8.5" text-anchor="end" textLength="8.51" lengthAdjust="spacingAndGlyphs" fill="#222" stroke="#222" stroke-width="0.22">10</text>
<line x1="384.2" y1="379.56" x2="387.2" y2="379.56" stroke="#222" stroke-width="1.0"/>
<text x="380.9" y="382.26" font-size="8.5" text-anchor="end" textLength="8.51" lengthAdjust="spacingAndGlyphs" fill="#222" stroke="#222" stroke-width="0.22">20</text>
<line x1="384.2" y1="371.84" x2="387.2" y2="371.84" stroke="#222" stroke-width="1.0"/>
<text x="380.9" y="374.54" font-size="8.5" text-anchor="end" textLength="8.51" lengthAdjust="spacingAndGlyphs" fill="#222" stroke="#222" stroke-width="0.22">30</text>
<line x1="384.2" y1="364.12" x2="387.2" y2="364.12" stroke="#222" stroke-width="1.0"/>
<text x="380.9" y="366.82" font-size="8.5" text-anchor="end" textLength="8.51" lengthAdjust="spacingAndGlyphs" fill="#222" stroke="#222" stroke-width="0.22">40</text>
<line x1="384.2" y1="356.40" x2="387.2" y2="356.40" stroke="#222" stroke-width="1.0"/>
<text x="380.9" y="359.10" font-size="8.5" text-anchor="end" textLength="8.51" lengthAdjust="spacingAndGlyphs" fill="#222" stroke="#222" stroke-width="0.22">50</text>
<line x1="384.2" y1="348.68" x2="387.2" y2="348.68" stroke="#222" stroke-width="1.0"/>
<text x="380.9" y="351.38" font-size="8.5" text-anchor="end" textLength="8.51" lengthAdjust="spacingAndGlyphs" fill="#222" stroke="#222" stroke-width="0.22">60</text>
<line x1="384.2" y1="340.96" x2="387.2" y2="340.96" stroke="#222" stroke-width="1.0"/>
<text x="380.9" y="343.66" font-size="8.5" text-anchor="end" textLength="8.51" lengthAdjust="spacingAndGlyphs" fill="#222" stroke="#222" stroke-width="0.22">70</text>
<line x1="384.2" y1="333.24" x2="387.2" y2="333.24" stroke="#222" stroke-width="1.0"/>
<text x="380.9" y="335.94" font-size="8.5" text-anchor="end" textLength="8.51" lengthAdjust="spacingAndGlyphs" fill="#222" stroke="#222" stroke-width="0.22">80</text>
<line x1="384.2" y1="325.52" x2="387.2" y2="325.52" stroke="#222" stroke-width="1.0"/>
<text x="380.9" y="328.22" font-size="8.5" text-anchor="end" textLength="8.51" lengthAdjust="spacingAndGlyphs" fill="#222" stroke="#222" stroke-width="0.22">90</text>
<line x1="384.2" y1="317.80" x2="387.2" y2="317.80" stroke="#222" stroke-width="1.0"/>
<text x="380.9" y="320.50" font-size="8.5" text-anchor="end" textLength="12.76" lengthAdjust="spacingAndGlyphs" fill="#222" stroke="#222" stroke-width="0.22">100</text>
<line x1="387.30" y1="395" x2="387.30" y2="397.6" stroke="#222" stroke-width="1.0"/>
<text x="387.30" y="407.8" font-size="7.8" text-anchor="middle" fill="#222" stroke="#222" stroke-width="0.22">0</text>
<line x1="403.40" y1="395" x2="403.40" y2="397.6" stroke="#222" stroke-width="1.0"/>
<text x="403.40" y="407.8" font-size="7.8" text-anchor="middle" fill="#222" stroke="#222" stroke-width="0.22">10</text>
<line x1="419.50" y1="395" x2="419.50" y2="397.6" stroke="#222" stroke-width="1.0"/>
<text x="419.50" y="407.8" font-size="7.8" text-anchor="middle" fill="#222" stroke="#222" stroke-width="0.22">20</text>
<line x1="435.60" y1="395" x2="435.60" y2="397.6" stroke="#222" stroke-width="1.0"/>
<text x="435.60" y="407.8" font-size="7.8" text-anchor="middle" fill="#222" stroke="#222" stroke-width="0.22">30</text>
<line x1="451.70" y1="395" x2="451.70" y2="397.6" stroke="#222" stroke-width="1.0"/>
<text x="451.70" y="407.8" font-size="7.8" text-anchor="middle" fill="#222" stroke="#222" stroke-width="0.22">40</text>
<line x1="467.80" y1="395" x2="467.80" y2="397.6" stroke="#222" stroke-width="1.0"/>
<text x="467.80" y="407.8" font-size="7.8" text-anchor="middle" fill="#222" stroke="#222" stroke-width="0.22">50</text>
<line x1="483.90" y1="395" x2="483.90" y2="397.6" stroke="#222" stroke-width="1.0"/>
<text x="483.90" y="407.8" font-size="7.8" text-anchor="middle" fill="#222" stroke="#222" stroke-width="0.22">60</text>
<line x1="500.00" y1="395" x2="500.00" y2="397.6" stroke="#222" stroke-width="1.0"/>
<text x="500.00" y="407.8" font-size="7.8" text-anchor="middle" fill="#222" stroke="#222" stroke-width="0.22">70</text>
<text x="445.35" y="421.4" font-size="9.4" text-anchor="middle" textLength="27.7" lengthAdjust="spacingAndGlyphs" fill="#222" stroke="#222" stroke-width="0.22">Time (h)</text>
<text x="362.2" y="354.5" font-size="9.4" text-anchor="middle" textLength="40" lengthAdjust="spacingAndGlyphs" transform="rotate(-90 362.2 354.5)" fill="#222" stroke="#222" stroke-width="0.08">Survival [%]</text>
<path d="M387.2,317.80 H429.1 V323.31 H432.3 V328.83 H437.4 V334.34 H456.7 V339.86 H461.6 V345.37 H477.8 V350.89 H484.1 V356.40 H499.2 V361.91 H500.2 V367.43 H503.4" fill="none" stroke="#a3002b" stroke-width="1.4"/>
<path d="M387.2,317.80 H434.1 V323.31 H437.3 V328.83 H447.0 V334.34 H448.2 V339.86 H450.1 V345.37 H456.6 V356.40 H460.1 V361.91 H462.1 V367.43 H466.5 V372.94 H467.4 V378.46 H472.1 V383.97 H474.4 V389.49 H484.3 V395.00" fill="none" stroke="#2f4c7e" stroke-width="1.4"/>
<path d="M429.1,323.61V320.31M432.3,329.13V325.83M437.4,334.64V331.34M456.7,340.16V336.86M461.6,345.67V342.37M477.8,351.19V347.89M484.1,356.70V353.40M499.2,362.21V358.91M500.2,367.73V364.43M434.1,323.61V320.31M437.3,329.13V325.83M447.0,334.64V331.34M448.2,340.16V336.86M450.1,345.67V342.37M456.6,356.70V353.40M460.1,362.21V358.91M462.1,367.73V364.43M466.5,373.24V369.94M467.4,378.76V375.46M472.1,384.27V380.97M474.4,389.79V386.49M484.3,395.30V392.00" stroke="#1a1a1a" stroke-width="1.1" opacity="0.75" fill="none"/>
<line x1="473.5" y1="321.6" x2="482.2" y2="321.6" stroke="#a3002b" stroke-width="1.4"/>
<line x1="477.8" y1="320.0" x2="477.8" y2="321.6" stroke="#222" stroke-width="0.9"/>
<line x1="473.5" y1="330.3" x2="482.2" y2="330.3" stroke="#2f4c7e" stroke-width="1.4"/>
<line x1="477.8" y1="328.7" x2="477.8" y2="330.3" stroke="#222" stroke-width="0.9"/>
<text x="485.4" y="323.9" font-size="8.0" text-anchor="start" textLength="11.1" lengthAdjust="spacingAndGlyphs" fill="#222" stroke="#222" stroke-width="0.22">WT</text>
<text x="485.4" y="332.8" font-size="8.0" text-anchor="start" textLength="19.6" lengthAdjust="spacingAndGlyphs" fill="#222" stroke="#222" stroke-width="0.22">Sell-/-</text>
<line x1="506.4" y1="362.2" x2="506.4" y2="389.4" stroke="#222" stroke-width="1.0"/>
<circle cx="511.2" cy="371.5" r="1.2" fill="#1a1a1a"/>
<circle cx="511.2" cy="376.9" r="1.2" fill="#1a1a1a"/>
<rect x="0.5" y="0.5" width="519" height="430" fill="none" stroke="#000" stroke-width="1.2"/>
</svg>
</body></html>
